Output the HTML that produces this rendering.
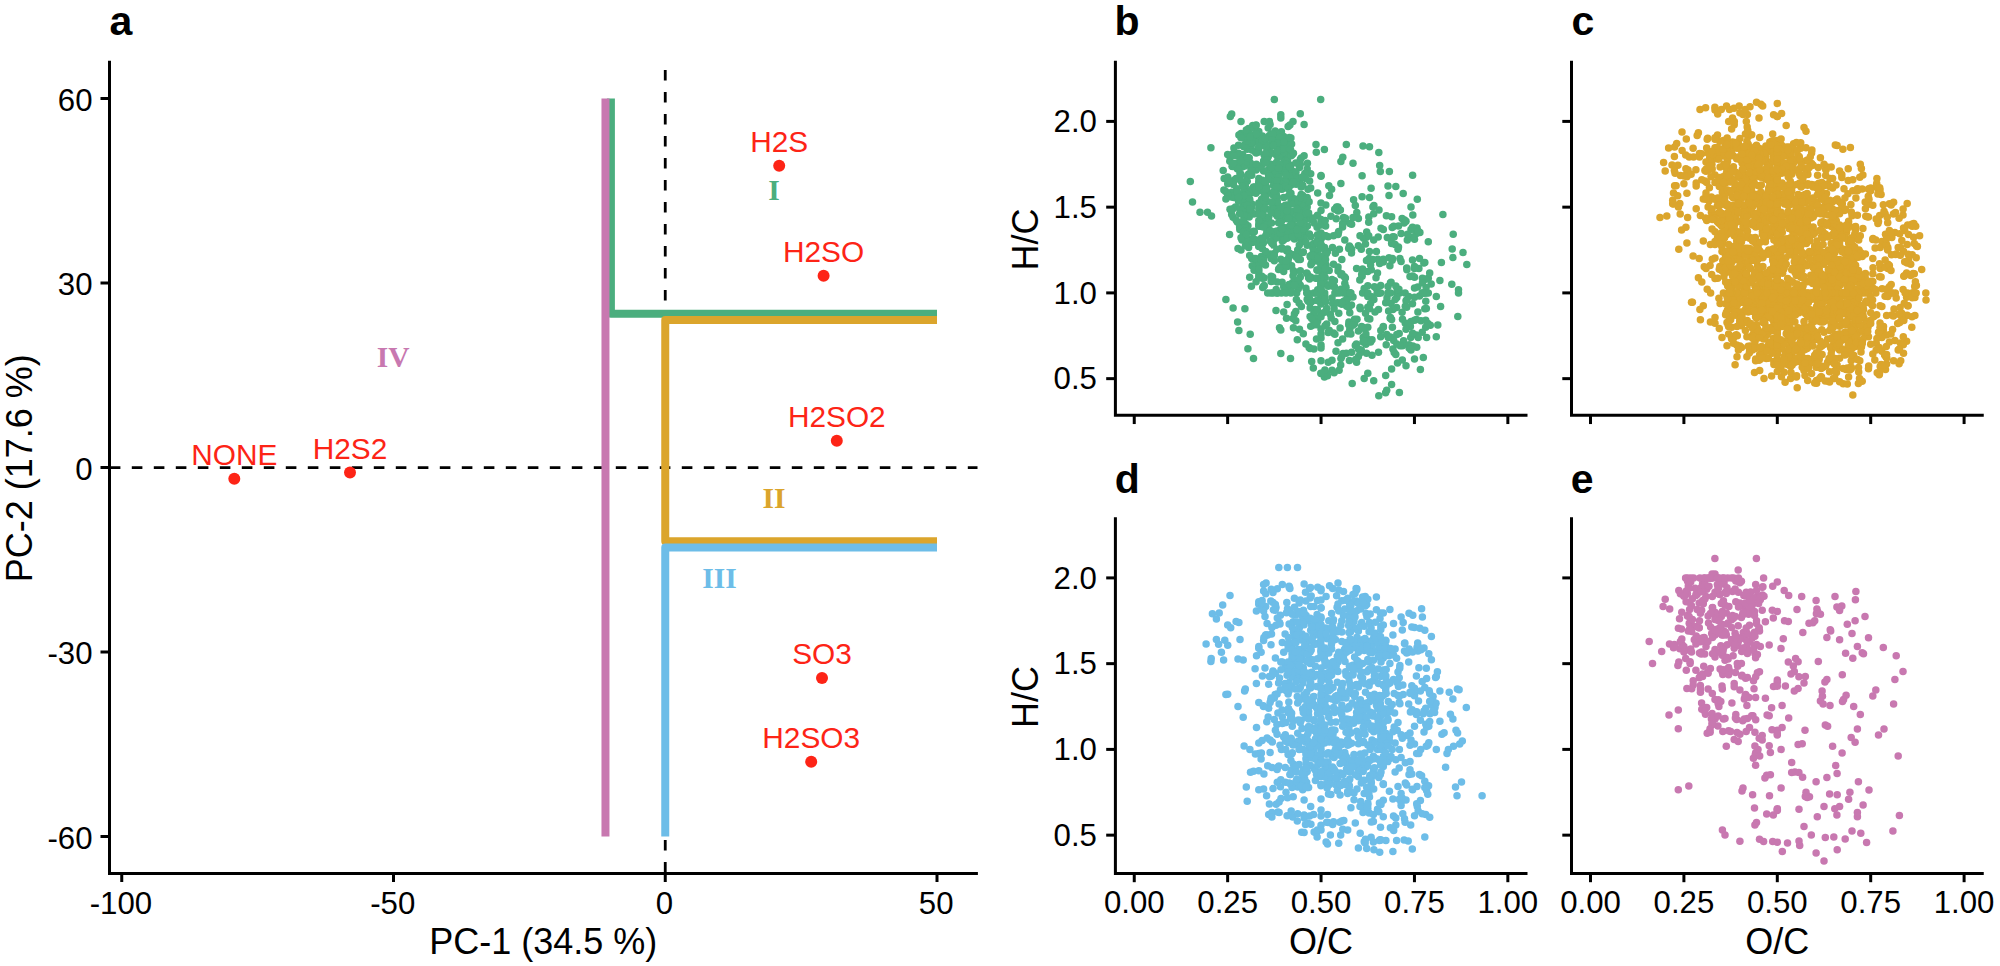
<!DOCTYPE html>
<html lang="en">
<head>
<meta charset="utf-8">
<title>PCA loadings and van Krevelen diagrams</title>
<style>
html,body{margin:0;padding:0;background:#fff;}
body{width:2000px;height:966px;overflow:hidden;}
svg{display:block;font-family:"Liberation Sans", sans-serif;fill:#000;}
</style>
</head>
<body>
<svg width="2000" height="966" viewBox="0 0 2000 966">
<rect width="2000" height="966" fill="#fff"/>
<g id="panel-a">
<path d="M665.25 872.6V60.75" stroke="#000" stroke-width="2.8" stroke-dasharray="10.6 11.4" fill="none"/>
<path d="M109.8 467.7H977.5" stroke="#000" stroke-width="2.8" stroke-dasharray="10.6 11.4" fill="none"/>
<path d="M610.9 98.5V313.75H937" stroke="#4bae7e" stroke-width="8" fill="none" stroke-linejoin="round"/>
<path d="M937 319.9H665.25V541.3H937" stroke="#dba52c" stroke-width="8" fill="none" stroke-linejoin="round"/>
<path d="M665.25 836.5V547.45H937" stroke="#6dbde8" stroke-width="8" fill="none" stroke-linejoin="round"/>
<path d="M605.47 98.5V836.5" stroke="#c878b0" stroke-width="8" fill="none"/>
<path d="M109.5 60.75V874.9M108 873.4H977.9" stroke="#000" stroke-width="3" fill="none"/>
<path d="M121.75 873.4V882" stroke="#000" stroke-width="3"/>
<text x="120.95" y="913.6" font-size="31.2" text-anchor="middle">-100</text>
<path d="M393.5 873.4V882" stroke="#000" stroke-width="3"/>
<text x="392.7" y="913.6" font-size="31.2" text-anchor="middle">-50</text>
<path d="M665.25 873.4V882" stroke="#000" stroke-width="3"/>
<text x="664.45" y="913.6" font-size="31.2" text-anchor="middle">0</text>
<path d="M937 873.4V882" stroke="#000" stroke-width="3"/>
<text x="936.2" y="913.6" font-size="31.2" text-anchor="middle">50</text>
<path d="M100.5 98.5H109.5" stroke="#000" stroke-width="3"/>
<text x="92.5" y="110.5" font-size="31.2" text-anchor="end">60</text>
<path d="M100.5 283H109.5" stroke="#000" stroke-width="3"/>
<text x="92.5" y="295" font-size="31.2" text-anchor="end">30</text>
<path d="M100.5 467.5H109.5" stroke="#000" stroke-width="3"/>
<text x="92.5" y="479.5" font-size="31.2" text-anchor="end">0</text>
<path d="M100.5 652H109.5" stroke="#000" stroke-width="3"/>
<text x="92.5" y="664" font-size="31.2" text-anchor="end">-30</text>
<path d="M100.5 836.5H109.5" stroke="#000" stroke-width="3"/>
<text x="92.5" y="848.5" font-size="31.2" text-anchor="end">-60</text>
<text x="543.3" y="954.3" font-size="36" text-anchor="middle">PC-1 (34.5 %)</text>
<text transform="translate(31.8 468.2) rotate(-90)" font-size="36" text-anchor="middle">PC-2 (17.6 %)</text>
<text x="109.6" y="34.8" font-size="41" font-weight="bold">a</text>
<circle cx="779.2" cy="165.8" r="6" fill="#fd2416"/>
<text x="779.2" y="151.8" font-size="29.8" fill="#fd2416" text-anchor="middle">H2S</text>
<circle cx="823.6" cy="275.7" r="6" fill="#fd2416"/>
<text x="823.6" y="261.7" font-size="29.8" fill="#fd2416" text-anchor="middle">H2SO</text>
<circle cx="836.8" cy="440.7" r="6" fill="#fd2416"/>
<text x="836.8" y="426.7" font-size="29.8" fill="#fd2416" text-anchor="middle">H2SO2</text>
<circle cx="234.3" cy="478.8" r="6" fill="#fd2416"/>
<text x="234.3" y="464.8" font-size="29.8" fill="#fd2416" text-anchor="middle">NONE</text>
<circle cx="350" cy="472.5" r="6" fill="#fd2416"/>
<text x="350" y="458.5" font-size="29.8" fill="#fd2416" text-anchor="middle">H2S2</text>
<circle cx="822" cy="678" r="6" fill="#fd2416"/>
<text x="822" y="664" font-size="29.8" fill="#fd2416" text-anchor="middle">SO3</text>
<circle cx="811.2" cy="761.8" r="6" fill="#fd2416"/>
<text x="811.2" y="747.8" font-size="29.8" fill="#fd2416" text-anchor="middle">H2SO3</text>
<text x="774" y="200.3" font-family='"Liberation Serif", serif' font-weight="bold" font-size="29.5" fill="#4bae7e" text-anchor="middle">I</text>
<text x="774.1" y="507.8" font-family='"Liberation Serif", serif' font-weight="bold" font-size="29.5" fill="#dba52c" text-anchor="middle">II</text>
<text x="719.4" y="588.4" font-family='"Liberation Serif", serif' font-weight="bold" font-size="29.5" fill="#6dbde8" text-anchor="middle">III</text>
<text x="393.1" y="366.8" font-family='"Liberation Serif", serif' font-weight="bold" font-size="29.5" fill="#c878b0" text-anchor="middle">IV</text>
</g>
<g id="panel-b">
<g fill="#4bae7e">
<circle cx="1321.0" cy="175.6" r="3.75"/><circle cx="1304.1" cy="235.7" r="3.75"/><circle cx="1229.8" cy="161.3" r="3.75"/><circle cx="1399.7" cy="292.9" r="3.75"/><circle cx="1312.6" cy="253.9" r="3.75"/><circle cx="1321.0" cy="265.8" r="3.75"/><circle cx="1251.0" cy="192.9" r="3.75"/><circle cx="1275.6" cy="135.3" r="3.75"/><circle cx="1419.9" cy="232.4" r="3.75"/><circle cx="1321.0" cy="232.9" r="3.75"/><circle cx="1256.2" cy="261.4" r="3.75"/><circle cx="1375.0" cy="312.0" r="3.75"/><circle cx="1317.7" cy="289.8" r="3.75"/><circle cx="1302.4" cy="232.9" r="3.75"/><circle cx="1326.7" cy="324.1" r="3.75"/><circle cx="1317.5" cy="215.2" r="3.75"/><circle cx="1310.9" cy="277.3" r="3.75"/><circle cx="1248.4" cy="192.9" r="3.75"/><circle cx="1309.1" cy="347.6" r="3.75"/><circle cx="1388.0" cy="286.4" r="3.75"/><circle cx="1321.0" cy="210.6" r="3.75"/><circle cx="1243.2" cy="203.6" r="3.75"/><circle cx="1293.4" cy="327.8" r="3.75"/><circle cx="1338.0" cy="266.9" r="3.75"/><circle cx="1244.1" cy="146.6" r="3.75"/><circle cx="1404.5" cy="219.9" r="3.75"/><circle cx="1321.0" cy="219.4" r="3.75"/><circle cx="1369.8" cy="319.0" r="3.75"/><circle cx="1264.2" cy="121.4" r="3.75"/><circle cx="1416.4" cy="334.9" r="3.75"/><circle cx="1389.9" cy="265.8" r="3.75"/><circle cx="1369.5" cy="197.6" r="3.75"/><circle cx="1334.9" cy="321.5" r="3.75"/><circle cx="1423.3" cy="357.6" r="3.75"/><circle cx="1287.5" cy="266.5" r="3.75"/><circle cx="1275.4" cy="174.8" r="3.75"/><circle cx="1290.5" cy="177.5" r="3.75"/><circle cx="1241.0" cy="165.5" r="3.75"/><circle cx="1391.6" cy="243.4" r="3.75"/><circle cx="1367.8" cy="307.2" r="3.75"/><circle cx="1398.5" cy="226.0" r="3.75"/><circle cx="1378.5" cy="309.4" r="3.75"/><circle cx="1317.7" cy="321.0" r="3.75"/><circle cx="1310.7" cy="188.1" r="3.75"/><circle cx="1267.1" cy="201.4" r="3.75"/><circle cx="1340.9" cy="274.7" r="3.75"/><circle cx="1298.6" cy="282.6" r="3.75"/><circle cx="1349.8" cy="312.7" r="3.75"/><circle cx="1340.1" cy="327.9" r="3.75"/><circle cx="1366.5" cy="353.2" r="3.75"/><circle cx="1294.4" cy="239.0" r="3.75"/><circle cx="1225.9" cy="299.4" r="3.75"/><circle cx="1426.3" cy="292.9" r="3.75"/><circle cx="1279.5" cy="327.8" r="3.75"/><circle cx="1229.3" cy="196.2" r="3.75"/><circle cx="1305.5" cy="203.6" r="3.75"/><circle cx="1383.3" cy="327.2" r="3.75"/><circle cx="1377.9" cy="259.3" r="3.75"/><circle cx="1285.3" cy="289.2" r="3.75"/><circle cx="1392.9" cy="349.0" r="3.75"/><circle cx="1268.2" cy="157.0" r="3.75"/><circle cx="1290.6" cy="185.2" r="3.75"/><circle cx="1247.9" cy="225.8" r="3.75"/><circle cx="1271.2" cy="281.5" r="3.75"/><circle cx="1252.2" cy="189.1" r="3.75"/><circle cx="1265.5" cy="265.1" r="3.75"/><circle cx="1307.4" cy="226.0" r="3.75"/><circle cx="1279.5" cy="154.7" r="3.75"/><circle cx="1366.7" cy="231.9" r="3.75"/><circle cx="1311.7" cy="301.5" r="3.75"/><circle cx="1365.5" cy="313.3" r="3.75"/><circle cx="1268.2" cy="147.3" r="3.75"/><circle cx="1370.6" cy="303.4" r="3.75"/><circle cx="1351.6" cy="249.3" r="3.75"/><circle cx="1273.3" cy="245.0" r="3.75"/><circle cx="1372.9" cy="259.6" r="3.75"/><circle cx="1321.0" cy="238.0" r="3.75"/><circle cx="1321.0" cy="283.4" r="3.75"/><circle cx="1365.9" cy="344.3" r="3.75"/><circle cx="1270.1" cy="253.9" r="3.75"/><circle cx="1278.9" cy="154.6" r="3.75"/><circle cx="1272.3" cy="240.7" r="3.75"/><circle cx="1347.7" cy="297.8" r="3.75"/><circle cx="1405.1" cy="292.9" r="3.75"/><circle cx="1293.2" cy="219.9" r="3.75"/><circle cx="1249.7" cy="277.3" r="3.75"/><circle cx="1317.7" cy="239.9" r="3.75"/><circle cx="1283.7" cy="236.8" r="3.75"/><circle cx="1315.0" cy="309.5" r="3.75"/><circle cx="1342.6" cy="226.9" r="3.75"/><circle cx="1285.7" cy="158.5" r="3.75"/><circle cx="1316.5" cy="318.0" r="3.75"/><circle cx="1348.9" cy="307.5" r="3.75"/><circle cx="1364.2" cy="339.1" r="3.75"/><circle cx="1242.2" cy="212.9" r="3.75"/><circle cx="1281.9" cy="181.2" r="3.75"/><circle cx="1317.1" cy="227.2" r="3.75"/><circle cx="1292.3" cy="154.4" r="3.75"/><circle cx="1235.4" cy="207.1" r="3.75"/><circle cx="1308.0" cy="189.2" r="3.75"/><circle cx="1324.7" cy="292.9" r="3.75"/><circle cx="1312.9" cy="244.4" r="3.75"/><circle cx="1325.2" cy="277.7" r="3.75"/><circle cx="1358.4" cy="356.6" r="3.75"/><circle cx="1251.7" cy="258.6" r="3.75"/><circle cx="1238.0" cy="162.7" r="3.75"/><circle cx="1255.1" cy="151.7" r="3.75"/><circle cx="1321.0" cy="245.7" r="3.75"/><circle cx="1334.4" cy="280.7" r="3.75"/><circle cx="1249.2" cy="157.7" r="3.75"/><circle cx="1339.4" cy="303.0" r="3.75"/><circle cx="1313.9" cy="312.7" r="3.75"/><circle cx="1321.0" cy="289.3" r="3.75"/><circle cx="1240.0" cy="176.4" r="3.75"/><circle cx="1369.5" cy="308.8" r="3.75"/><circle cx="1305.9" cy="288.3" r="3.75"/><circle cx="1263.1" cy="145.0" r="3.75"/><circle cx="1321.0" cy="296.3" r="3.75"/><circle cx="1424.8" cy="292.9" r="3.75"/><circle cx="1266.1" cy="217.2" r="3.75"/><circle cx="1278.6" cy="148.7" r="3.75"/><circle cx="1346.7" cy="292.9" r="3.75"/><circle cx="1262.4" cy="219.4" r="3.75"/><circle cx="1270.1" cy="172.1" r="3.75"/><circle cx="1321.0" cy="285.4" r="3.75"/><circle cx="1293.0" cy="237.2" r="3.75"/><circle cx="1288.1" cy="215.6" r="3.75"/><circle cx="1288.1" cy="126.4" r="3.75"/><circle cx="1316.7" cy="261.0" r="3.75"/><circle cx="1244.9" cy="232.5" r="3.75"/><circle cx="1300.3" cy="277.0" r="3.75"/><circle cx="1358.4" cy="218.6" r="3.75"/><circle cx="1307.2" cy="207.1" r="3.75"/><circle cx="1273.0" cy="209.6" r="3.75"/><circle cx="1283.7" cy="312.0" r="3.75"/><circle cx="1281.4" cy="215.0" r="3.75"/><circle cx="1344.4" cy="221.4" r="3.75"/><circle cx="1255.7" cy="134.3" r="3.75"/><circle cx="1253.8" cy="258.6" r="3.75"/><circle cx="1361.3" cy="249.2" r="3.75"/><circle cx="1321.0" cy="333.9" r="3.75"/><circle cx="1364.2" cy="378.6" r="3.75"/><circle cx="1324.9" cy="296.4" r="3.75"/><circle cx="1371.1" cy="188.3" r="3.75"/><circle cx="1256.1" cy="169.9" r="3.75"/><circle cx="1251.9" cy="150.0" r="3.75"/><circle cx="1271.2" cy="258.6" r="3.75"/><circle cx="1394.2" cy="352.5" r="3.75"/><circle cx="1393.7" cy="226.2" r="3.75"/><circle cx="1280.4" cy="140.0" r="3.75"/><circle cx="1414.5" cy="277.3" r="3.75"/><circle cx="1348.7" cy="248.4" r="3.75"/><circle cx="1236.8" cy="188.7" r="3.75"/><circle cx="1409.1" cy="347.9" r="3.75"/><circle cx="1300.3" cy="238.9" r="3.75"/><circle cx="1250.5" cy="231.9" r="3.75"/><circle cx="1241.0" cy="174.5" r="3.75"/><circle cx="1367.8" cy="285.7" r="3.75"/><circle cx="1418.9" cy="268.4" r="3.75"/><circle cx="1296.7" cy="292.9" r="3.75"/><circle cx="1285.1" cy="230.2" r="3.75"/><circle cx="1251.4" cy="212.2" r="3.75"/><circle cx="1300.3" cy="209.1" r="3.75"/><circle cx="1277.3" cy="292.9" r="3.75"/><circle cx="1248.6" cy="173.9" r="3.75"/><circle cx="1317.5" cy="250.8" r="3.75"/><circle cx="1414.5" cy="267.2" r="3.75"/><circle cx="1270.1" cy="255.5" r="3.75"/><circle cx="1395.8" cy="186.6" r="3.75"/><circle cx="1380.3" cy="171.6" r="3.75"/><circle cx="1407.3" cy="240.1" r="3.75"/><circle cx="1302.7" cy="218.9" r="3.75"/><circle cx="1289.1" cy="142.3" r="3.75"/><circle cx="1268.4" cy="169.8" r="3.75"/><circle cx="1244.6" cy="226.6" r="3.75"/><circle cx="1285.3" cy="154.2" r="3.75"/><circle cx="1376.0" cy="277.8" r="3.75"/><circle cx="1356.8" cy="212.6" r="3.75"/><circle cx="1287.5" cy="248.9" r="3.75"/><circle cx="1396.6" cy="292.9" r="3.75"/><circle cx="1271.0" cy="138.1" r="3.75"/><circle cx="1249.2" cy="191.8" r="3.75"/><circle cx="1258.8" cy="167.8" r="3.75"/><circle cx="1287.1" cy="207.1" r="3.75"/><circle cx="1402.3" cy="360.0" r="3.75"/><circle cx="1373.7" cy="213.8" r="3.75"/><circle cx="1325.6" cy="251.1" r="3.75"/><circle cx="1360.2" cy="308.8" r="3.75"/><circle cx="1238.9" cy="330.6" r="3.75"/><circle cx="1277.3" cy="282.0" r="3.75"/><circle cx="1280.4" cy="229.5" r="3.75"/><circle cx="1387.0" cy="297.9" r="3.75"/><circle cx="1356.6" cy="362.3" r="3.75"/><circle cx="1256.2" cy="138.9" r="3.75"/><circle cx="1297.3" cy="280.4" r="3.75"/><circle cx="1307.2" cy="169.0" r="3.75"/><circle cx="1285.1" cy="187.4" r="3.75"/><circle cx="1362.1" cy="276.2" r="3.75"/><circle cx="1321.0" cy="270.7" r="3.75"/><circle cx="1270.1" cy="124.5" r="3.75"/><circle cx="1402.1" cy="312.3" r="3.75"/><circle cx="1370.6" cy="261.4" r="3.75"/><circle cx="1299.3" cy="233.1" r="3.75"/><circle cx="1245.3" cy="186.3" r="3.75"/><circle cx="1299.5" cy="167.6" r="3.75"/><circle cx="1264.2" cy="222.1" r="3.75"/><circle cx="1390.4" cy="283.1" r="3.75"/><circle cx="1330.4" cy="314.3" r="3.75"/><circle cx="1361.3" cy="350.1" r="3.75"/><circle cx="1265.7" cy="143.6" r="3.75"/><circle cx="1324.9" cy="271.9" r="3.75"/><circle cx="1300.3" cy="159.5" r="3.75"/><circle cx="1301.7" cy="233.8" r="3.75"/><circle cx="1263.6" cy="170.9" r="3.75"/><circle cx="1331.2" cy="317.9" r="3.75"/><circle cx="1305.0" cy="229.2" r="3.75"/><circle cx="1363.5" cy="238.3" r="3.75"/><circle cx="1293.0" cy="275.7" r="3.75"/><circle cx="1324.6" cy="283.2" r="3.75"/><circle cx="1405.3" cy="306.3" r="3.75"/><circle cx="1380.8" cy="330.6" r="3.75"/><circle cx="1268.2" cy="225.0" r="3.75"/><circle cx="1270.1" cy="193.1" r="3.75"/><circle cx="1350.1" cy="247.2" r="3.75"/><circle cx="1271.9" cy="211.7" r="3.75"/><circle cx="1268.4" cy="174.2" r="3.75"/><circle cx="1286.5" cy="188.1" r="3.75"/><circle cx="1340.7" cy="365.1" r="3.75"/><circle cx="1411.0" cy="321.5" r="3.75"/><circle cx="1387.3" cy="237.6" r="3.75"/><circle cx="1291.2" cy="200.3" r="3.75"/><circle cx="1368.7" cy="222.3" r="3.75"/><circle cx="1293.2" cy="172.5" r="3.75"/><circle cx="1258.8" cy="151.9" r="3.75"/><circle cx="1271.0" cy="292.9" r="3.75"/><circle cx="1261.8" cy="221.8" r="3.75"/><circle cx="1280.4" cy="207.1" r="3.75"/><circle cx="1327.5" cy="251.5" r="3.75"/><circle cx="1211.5" cy="216.0" r="3.75"/><circle cx="1264.2" cy="155.0" r="3.75"/><circle cx="1391.1" cy="239.3" r="3.75"/><circle cx="1280.8" cy="118.0" r="3.75"/><circle cx="1247.0" cy="176.4" r="3.75"/><circle cx="1236.8" cy="155.0" r="3.75"/><circle cx="1297.3" cy="227.4" r="3.75"/><circle cx="1287.5" cy="205.0" r="3.75"/><circle cx="1335.4" cy="253.3" r="3.75"/><circle cx="1367.8" cy="339.3" r="3.75"/><circle cx="1294.4" cy="313.9" r="3.75"/><circle cx="1371.3" cy="269.8" r="3.75"/><circle cx="1339.1" cy="370.3" r="3.75"/><circle cx="1312.9" cy="248.2" r="3.75"/><circle cx="1396.8" cy="297.5" r="3.75"/><circle cx="1380.7" cy="292.9" r="3.75"/><circle cx="1390.4" cy="317.4" r="3.75"/><circle cx="1362.6" cy="327.8" r="3.75"/><circle cx="1378.5" cy="352.3" r="3.75"/><circle cx="1249.7" cy="255.5" r="3.75"/><circle cx="1279.5" cy="207.1" r="3.75"/><circle cx="1408.7" cy="296.4" r="3.75"/><circle cx="1271.9" cy="180.1" r="3.75"/><circle cx="1347.7" cy="296.4" r="3.75"/><circle cx="1351.5" cy="304.9" r="3.75"/><circle cx="1283.7" cy="158.8" r="3.75"/><circle cx="1299.5" cy="207.1" r="3.75"/><circle cx="1406.0" cy="300.7" r="3.75"/><circle cx="1243.2" cy="228.6" r="3.75"/><circle cx="1263.9" cy="222.9" r="3.75"/><circle cx="1244.9" cy="204.0" r="3.75"/><circle cx="1373.9" cy="205.5" r="3.75"/><circle cx="1245.3" cy="135.3" r="3.75"/><circle cx="1247.2" cy="149.3" r="3.75"/><circle cx="1364.2" cy="328.1" r="3.75"/><circle cx="1253.5" cy="187.1" r="3.75"/><circle cx="1421.0" cy="320.8" r="3.75"/><circle cx="1316.9" cy="270.0" r="3.75"/><circle cx="1317.1" cy="256.4" r="3.75"/><circle cx="1412.5" cy="303.8" r="3.75"/><circle cx="1310.7" cy="326.2" r="3.75"/><circle cx="1367.8" cy="271.5" r="3.75"/><circle cx="1258.8" cy="240.9" r="3.75"/><circle cx="1428.3" cy="278.3" r="3.75"/><circle cx="1282.1" cy="282.2" r="3.75"/><circle cx="1325.6" cy="226.0" r="3.75"/><circle cx="1431.2" cy="284.1" r="3.75"/><circle cx="1281.4" cy="131.8" r="3.75"/><circle cx="1242.9" cy="236.8" r="3.75"/><circle cx="1282.1" cy="153.6" r="3.75"/><circle cx="1223.2" cy="170.4" r="3.75"/><circle cx="1258.8" cy="147.4" r="3.75"/><circle cx="1304.1" cy="211.0" r="3.75"/><circle cx="1285.5" cy="288.8" r="3.75"/><circle cx="1321.0" cy="239.3" r="3.75"/><circle cx="1269.4" cy="121.4" r="3.75"/><circle cx="1321.0" cy="314.3" r="3.75"/><circle cx="1391.1" cy="303.6" r="3.75"/><circle cx="1283.7" cy="227.4" r="3.75"/><circle cx="1275.2" cy="131.1" r="3.75"/><circle cx="1281.9" cy="189.2" r="3.75"/><circle cx="1414.5" cy="266.5" r="3.75"/><circle cx="1247.2" cy="181.2" r="3.75"/><circle cx="1369.1" cy="258.6" r="3.75"/><circle cx="1355.3" cy="345.4" r="3.75"/><circle cx="1321.0" cy="338.0" r="3.75"/><circle cx="1280.8" cy="259.3" r="3.75"/><circle cx="1334.9" cy="292.9" r="3.75"/><circle cx="1279.5" cy="181.8" r="3.75"/><circle cx="1359.8" cy="280.0" r="3.75"/><circle cx="1325.8" cy="205.0" r="3.75"/><circle cx="1314.1" cy="223.0" r="3.75"/><circle cx="1403.6" cy="340.8" r="3.75"/><circle cx="1321.0" cy="373.6" r="3.75"/><circle cx="1273.3" cy="165.3" r="3.75"/><circle cx="1286.8" cy="250.9" r="3.75"/><circle cx="1425.7" cy="320.3" r="3.75"/><circle cx="1269.2" cy="135.7" r="3.75"/><circle cx="1369.5" cy="251.6" r="3.75"/><circle cx="1298.3" cy="255.3" r="3.75"/><circle cx="1291.6" cy="180.1" r="3.75"/><circle cx="1350.9" cy="292.9" r="3.75"/><circle cx="1398.9" cy="289.3" r="3.75"/><circle cx="1273.0" cy="292.9" r="3.75"/><circle cx="1279.1" cy="268.4" r="3.75"/><circle cx="1283.7" cy="171.3" r="3.75"/><circle cx="1258.8" cy="190.8" r="3.75"/><circle cx="1313.9" cy="292.9" r="3.75"/><circle cx="1240.0" cy="208.8" r="3.75"/><circle cx="1272.6" cy="204.0" r="3.75"/><circle cx="1419.5" cy="258.6" r="3.75"/><circle cx="1316.5" cy="338.9" r="3.75"/><circle cx="1277.1" cy="197.1" r="3.75"/><circle cx="1411.0" cy="229.4" r="3.75"/><circle cx="1412.5" cy="227.2" r="3.75"/><circle cx="1395.1" cy="244.4" r="3.75"/><circle cx="1276.2" cy="183.1" r="3.75"/><circle cx="1332.0" cy="370.2" r="3.75"/><circle cx="1293.0" cy="318.6" r="3.75"/><circle cx="1237.0" cy="155.7" r="3.75"/><circle cx="1244.9" cy="308.8" r="3.75"/><circle cx="1424.8" cy="262.4" r="3.75"/><circle cx="1258.8" cy="185.3" r="3.75"/><circle cx="1342.6" cy="223.6" r="3.75"/><circle cx="1376.4" cy="251.6" r="3.75"/><circle cx="1295.6" cy="226.6" r="3.75"/><circle cx="1356.4" cy="343.9" r="3.75"/><circle cx="1244.9" cy="210.3" r="3.75"/><circle cx="1338.0" cy="233.6" r="3.75"/><circle cx="1281.9" cy="209.1" r="3.75"/><circle cx="1271.0" cy="134.0" r="3.75"/><circle cx="1361.7" cy="326.5" r="3.75"/><circle cx="1373.9" cy="299.4" r="3.75"/><circle cx="1378.8" cy="395.8" r="3.75"/><circle cx="1424.8" cy="308.8" r="3.75"/><circle cx="1321.0" cy="257.8" r="3.75"/><circle cx="1338.0" cy="211.0" r="3.75"/><circle cx="1406.7" cy="300.1" r="3.75"/><circle cx="1303.3" cy="252.1" r="3.75"/><circle cx="1416.4" cy="233.4" r="3.75"/><circle cx="1282.3" cy="241.1" r="3.75"/><circle cx="1298.3" cy="259.4" r="3.75"/><circle cx="1252.7" cy="138.1" r="3.75"/><circle cx="1425.7" cy="327.2" r="3.75"/><circle cx="1277.9" cy="134.6" r="3.75"/><circle cx="1299.3" cy="181.2" r="3.75"/><circle cx="1328.2" cy="332.5" r="3.75"/><circle cx="1293.4" cy="254.8" r="3.75"/><circle cx="1373.7" cy="380.8" r="3.75"/><circle cx="1308.0" cy="292.9" r="3.75"/><circle cx="1273.0" cy="145.9" r="3.75"/><circle cx="1326.7" cy="308.5" r="3.75"/><circle cx="1338.8" cy="313.3" r="3.75"/><circle cx="1292.7" cy="282.5" r="3.75"/><circle cx="1412.6" cy="175.2" r="3.75"/><circle cx="1290.9" cy="292.9" r="3.75"/><circle cx="1287.1" cy="218.8" r="3.75"/><circle cx="1321.0" cy="281.5" r="3.75"/><circle cx="1380.7" cy="285.6" r="3.75"/><circle cx="1264.2" cy="278.0" r="3.75"/><circle cx="1351.6" cy="224.3" r="3.75"/><circle cx="1344.4" cy="276.8" r="3.75"/><circle cx="1286.5" cy="318.3" r="3.75"/><circle cx="1269.2" cy="150.0" r="3.75"/><circle cx="1412.8" cy="345.9" r="3.75"/><circle cx="1365.5" cy="243.9" r="3.75"/><circle cx="1282.1" cy="142.8" r="3.75"/><circle cx="1249.2" cy="200.5" r="3.75"/><circle cx="1296.4" cy="179.6" r="3.75"/><circle cx="1251.4" cy="144.9" r="3.75"/><circle cx="1265.7" cy="254.8" r="3.75"/><circle cx="1316.7" cy="257.0" r="3.75"/><circle cx="1285.1" cy="161.0" r="3.75"/><circle cx="1253.8" cy="142.0" r="3.75"/><circle cx="1369.8" cy="341.4" r="3.75"/><circle cx="1360.0" cy="235.7" r="3.75"/><circle cx="1442.9" cy="214.6" r="3.75"/><circle cx="1242.2" cy="167.1" r="3.75"/><circle cx="1307.2" cy="213.5" r="3.75"/><circle cx="1422.2" cy="292.9" r="3.75"/><circle cx="1313.9" cy="349.0" r="3.75"/><circle cx="1306.7" cy="292.9" r="3.75"/><circle cx="1250.5" cy="239.5" r="3.75"/><circle cx="1241.0" cy="133.6" r="3.75"/><circle cx="1261.8" cy="184.2" r="3.75"/><circle cx="1233.1" cy="217.2" r="3.75"/><circle cx="1420.4" cy="369.5" r="3.75"/><circle cx="1281.4" cy="292.9" r="3.75"/><circle cx="1321.0" cy="313.5" r="3.75"/><circle cx="1349.1" cy="297.2" r="3.75"/><circle cx="1263.1" cy="239.7" r="3.75"/><circle cx="1258.8" cy="224.3" r="3.75"/><circle cx="1321.0" cy="237.0" r="3.75"/><circle cx="1283.7" cy="180.7" r="3.75"/><circle cx="1315.7" cy="292.9" r="3.75"/><circle cx="1410.4" cy="326.5" r="3.75"/><circle cx="1229.3" cy="155.7" r="3.75"/><circle cx="1321.0" cy="277.3" r="3.75"/><circle cx="1291.6" cy="175.6" r="3.75"/><circle cx="1267.1" cy="220.5" r="3.75"/><circle cx="1336.6" cy="292.9" r="3.75"/><circle cx="1305.9" cy="218.7" r="3.75"/><circle cx="1315.7" cy="278.2" r="3.75"/><circle cx="1225.7" cy="191.4" r="3.75"/><circle cx="1383.3" cy="259.3" r="3.75"/><circle cx="1385.7" cy="375.4" r="3.75"/><circle cx="1255.1" cy="187.0" r="3.75"/><circle cx="1286.0" cy="228.6" r="3.75"/><circle cx="1288.5" cy="151.2" r="3.75"/><circle cx="1258.8" cy="275.0" r="3.75"/><circle cx="1276.9" cy="146.4" r="3.75"/><circle cx="1317.1" cy="278.3" r="3.75"/><circle cx="1250.5" cy="174.8" r="3.75"/><circle cx="1277.3" cy="230.9" r="3.75"/><circle cx="1347.7" cy="333.7" r="3.75"/><circle cx="1300.3" cy="285.3" r="3.75"/><circle cx="1302.4" cy="237.2" r="3.75"/><circle cx="1233.0" cy="208.8" r="3.75"/><circle cx="1231.7" cy="113.9" r="3.75"/><circle cx="1281.7" cy="247.8" r="3.75"/><circle cx="1238.9" cy="135.1" r="3.75"/><circle cx="1275.6" cy="214.1" r="3.75"/><circle cx="1286.8" cy="145.9" r="3.75"/><circle cx="1300.3" cy="164.3" r="3.75"/><circle cx="1232.1" cy="166.3" r="3.75"/><circle cx="1287.1" cy="304.6" r="3.75"/><circle cx="1340.9" cy="161.5" r="3.75"/><circle cx="1304.8" cy="199.7" r="3.75"/><circle cx="1321.0" cy="303.6" r="3.75"/><circle cx="1277.1" cy="292.9" r="3.75"/><circle cx="1374.4" cy="286.8" r="3.75"/><circle cx="1247.9" cy="214.6" r="3.75"/><circle cx="1210.9" cy="147.8" r="3.75"/><circle cx="1295.8" cy="232.6" r="3.75"/><circle cx="1283.7" cy="152.6" r="3.75"/><circle cx="1426.3" cy="308.5" r="3.75"/><circle cx="1224.2" cy="178.6" r="3.75"/><circle cx="1277.3" cy="216.3" r="3.75"/><circle cx="1313.9" cy="243.4" r="3.75"/><circle cx="1402.1" cy="218.5" r="3.75"/><circle cx="1309.6" cy="180.9" r="3.75"/><circle cx="1230.0" cy="209.3" r="3.75"/><circle cx="1303.0" cy="215.5" r="3.75"/><circle cx="1338.0" cy="207.1" r="3.75"/><circle cx="1358.4" cy="331.0" r="3.75"/><circle cx="1263.6" cy="259.9" r="3.75"/><circle cx="1283.7" cy="215.7" r="3.75"/><circle cx="1349.8" cy="329.2" r="3.75"/><circle cx="1298.3" cy="209.2" r="3.75"/><circle cx="1286.8" cy="236.9" r="3.75"/><circle cx="1345.4" cy="278.0" r="3.75"/><circle cx="1372.0" cy="355.3" r="3.75"/><circle cx="1271.9" cy="193.6" r="3.75"/><circle cx="1372.9" cy="207.1" r="3.75"/><circle cx="1279.1" cy="138.9" r="3.75"/><circle cx="1332.0" cy="297.9" r="3.75"/><circle cx="1264.6" cy="217.1" r="3.75"/><circle cx="1227.7" cy="177.1" r="3.75"/><circle cx="1261.6" cy="199.3" r="3.75"/><circle cx="1386.7" cy="390.2" r="3.75"/><circle cx="1324.4" cy="377.1" r="3.75"/><circle cx="1422.2" cy="332.2" r="3.75"/><circle cx="1277.9" cy="139.0" r="3.75"/><circle cx="1230.3" cy="116.5" r="3.75"/><circle cx="1283.7" cy="271.5" r="3.75"/><circle cx="1258.8" cy="266.5" r="3.75"/><circle cx="1227.7" cy="178.6" r="3.75"/><circle cx="1338.0" cy="234.4" r="3.75"/><circle cx="1300.3" cy="219.9" r="3.75"/><circle cx="1385.7" cy="302.8" r="3.75"/><circle cx="1287.5" cy="169.8" r="3.75"/><circle cx="1285.3" cy="205.3" r="3.75"/><circle cx="1343.8" cy="301.3" r="3.75"/><circle cx="1349.4" cy="360.5" r="3.75"/><circle cx="1270.8" cy="164.3" r="3.75"/><circle cx="1308.6" cy="218.6" r="3.75"/><circle cx="1237.6" cy="322.1" r="3.75"/><circle cx="1366.5" cy="237.3" r="3.75"/><circle cx="1326.1" cy="265.1" r="3.75"/><circle cx="1244.1" cy="188.7" r="3.75"/><circle cx="1254.3" cy="231.7" r="3.75"/><circle cx="1329.2" cy="330.2" r="3.75"/><circle cx="1367.8" cy="327.2" r="3.75"/><circle cx="1287.5" cy="161.0" r="3.75"/><circle cx="1299.3" cy="225.1" r="3.75"/><circle cx="1290.9" cy="138.0" r="3.75"/><circle cx="1346.5" cy="300.7" r="3.75"/><circle cx="1242.9" cy="211.8" r="3.75"/><circle cx="1279.5" cy="173.8" r="3.75"/><circle cx="1242.7" cy="209.9" r="3.75"/><circle cx="1363.2" cy="337.2" r="3.75"/><circle cx="1333.5" cy="332.9" r="3.75"/><circle cx="1283.7" cy="230.5" r="3.75"/><circle cx="1392.2" cy="260.2" r="3.75"/><circle cx="1251.4" cy="242.5" r="3.75"/><circle cx="1321.0" cy="345.1" r="3.75"/><circle cx="1436.3" cy="296.6" r="3.75"/><circle cx="1338.7" cy="231.4" r="3.75"/><circle cx="1377.5" cy="273.0" r="3.75"/><circle cx="1381.0" cy="228.2" r="3.75"/><circle cx="1383.3" cy="229.4" r="3.75"/><circle cx="1281.0" cy="188.8" r="3.75"/><circle cx="1285.7" cy="186.3" r="3.75"/><circle cx="1304.1" cy="124.5" r="3.75"/><circle cx="1240.0" cy="173.2" r="3.75"/><circle cx="1298.3" cy="288.7" r="3.75"/><circle cx="1275.4" cy="209.1" r="3.75"/><circle cx="1309.4" cy="233.9" r="3.75"/><circle cx="1321.0" cy="236.8" r="3.75"/><circle cx="1286.8" cy="289.4" r="3.75"/><circle cx="1304.1" cy="177.5" r="3.75"/><circle cx="1281.9" cy="237.1" r="3.75"/><circle cx="1310.7" cy="173.8" r="3.75"/><circle cx="1327.5" cy="375.7" r="3.75"/><circle cx="1253.8" cy="231.2" r="3.75"/><circle cx="1309.1" cy="201.7" r="3.75"/><circle cx="1306.7" cy="273.1" r="3.75"/><circle cx="1267.1" cy="228.1" r="3.75"/><circle cx="1394.2" cy="237.0" r="3.75"/><circle cx="1278.6" cy="156.5" r="3.75"/><circle cx="1258.8" cy="131.5" r="3.75"/><circle cx="1288.1" cy="227.3" r="3.75"/><circle cx="1267.1" cy="151.9" r="3.75"/><circle cx="1285.5" cy="170.4" r="3.75"/><circle cx="1316.9" cy="243.4" r="3.75"/><circle cx="1321.0" cy="304.1" r="3.75"/><circle cx="1363.0" cy="271.9" r="3.75"/><circle cx="1280.8" cy="329.9" r="3.75"/><circle cx="1258.8" cy="209.1" r="3.75"/><circle cx="1274.3" cy="253.6" r="3.75"/><circle cx="1391.6" cy="216.7" r="3.75"/><circle cx="1231.7" cy="214.6" r="3.75"/><circle cx="1396.6" cy="307.5" r="3.75"/><circle cx="1346.0" cy="292.9" r="3.75"/><circle cx="1392.4" cy="327.2" r="3.75"/><circle cx="1261.1" cy="244.4" r="3.75"/><circle cx="1263.6" cy="161.0" r="3.75"/><circle cx="1295.6" cy="234.4" r="3.75"/><circle cx="1249.2" cy="217.0" r="3.75"/><circle cx="1348.9" cy="322.1" r="3.75"/><circle cx="1258.8" cy="182.4" r="3.75"/><circle cx="1274.3" cy="260.7" r="3.75"/><circle cx="1426.6" cy="337.6" r="3.75"/><circle cx="1452.9" cy="257.6" r="3.75"/><circle cx="1241.0" cy="194.9" r="3.75"/><circle cx="1231.7" cy="192.2" r="3.75"/><circle cx="1414.5" cy="268.4" r="3.75"/><circle cx="1401.1" cy="233.4" r="3.75"/><circle cx="1251.0" cy="169.6" r="3.75"/><circle cx="1436.3" cy="336.7" r="3.75"/><circle cx="1274.3" cy="255.4" r="3.75"/><circle cx="1377.1" cy="292.9" r="3.75"/><circle cx="1283.7" cy="239.9" r="3.75"/><circle cx="1317.5" cy="234.7" r="3.75"/><circle cx="1336.2" cy="218.7" r="3.75"/><circle cx="1321.0" cy="286.6" r="3.75"/><circle cx="1321.0" cy="297.7" r="3.75"/><circle cx="1383.3" cy="262.1" r="3.75"/><circle cx="1283.7" cy="197.6" r="3.75"/><circle cx="1286.0" cy="180.4" r="3.75"/><circle cx="1439.9" cy="280.4" r="3.75"/><circle cx="1297.1" cy="200.5" r="3.75"/><circle cx="1398.5" cy="246.9" r="3.75"/><circle cx="1266.1" cy="161.8" r="3.75"/><circle cx="1362.6" cy="292.9" r="3.75"/><circle cx="1265.0" cy="155.7" r="3.75"/><circle cx="1277.1" cy="141.6" r="3.75"/><circle cx="1393.7" cy="340.5" r="3.75"/><circle cx="1261.3" cy="224.3" r="3.75"/><circle cx="1271.0" cy="276.2" r="3.75"/><circle cx="1398.0" cy="249.2" r="3.75"/><circle cx="1293.0" cy="121.4" r="3.75"/><circle cx="1329.2" cy="270.5" r="3.75"/><circle cx="1261.3" cy="166.0" r="3.75"/><circle cx="1298.6" cy="217.4" r="3.75"/><circle cx="1265.7" cy="184.9" r="3.75"/><circle cx="1285.1" cy="147.8" r="3.75"/><circle cx="1296.1" cy="184.3" r="3.75"/><circle cx="1275.2" cy="137.6" r="3.75"/><circle cx="1288.5" cy="147.5" r="3.75"/><circle cx="1425.7" cy="279.2" r="3.75"/><circle cx="1262.7" cy="287.5" r="3.75"/><circle cx="1239.6" cy="226.9" r="3.75"/><circle cx="1278.6" cy="269.5" r="3.75"/><circle cx="1276.6" cy="145.9" r="3.75"/><circle cx="1262.7" cy="212.5" r="3.75"/><circle cx="1295.8" cy="311.4" r="3.75"/><circle cx="1248.6" cy="191.4" r="3.75"/><circle cx="1250.2" cy="162.8" r="3.75"/><circle cx="1301.2" cy="187.1" r="3.75"/><circle cx="1288.1" cy="181.9" r="3.75"/><circle cx="1321.0" cy="244.9" r="3.75"/><circle cx="1332.7" cy="303.6" r="3.75"/><circle cx="1334.4" cy="286.8" r="3.75"/><circle cx="1317.4" cy="242.5" r="3.75"/><circle cx="1293.4" cy="232.5" r="3.75"/><circle cx="1289.9" cy="253.6" r="3.75"/><circle cx="1261.6" cy="226.6" r="3.75"/><circle cx="1301.2" cy="194.4" r="3.75"/><circle cx="1286.5" cy="178.6" r="3.75"/><circle cx="1351.5" cy="253.0" r="3.75"/><circle cx="1310.5" cy="257.3" r="3.75"/><circle cx="1227.7" cy="194.3" r="3.75"/><circle cx="1316.3" cy="152.2" r="3.75"/><circle cx="1280.8" cy="353.4" r="3.75"/><circle cx="1340.9" cy="289.2" r="3.75"/><circle cx="1357.0" cy="319.3" r="3.75"/><circle cx="1293.0" cy="198.6" r="3.75"/><circle cx="1273.3" cy="280.9" r="3.75"/><circle cx="1440.6" cy="306.6" r="3.75"/><circle cx="1290.9" cy="176.7" r="3.75"/><circle cx="1290.5" cy="218.1" r="3.75"/><circle cx="1258.8" cy="147.8" r="3.75"/><circle cx="1286.5" cy="232.5" r="3.75"/><circle cx="1302.4" cy="241.4" r="3.75"/><circle cx="1329.5" cy="285.1" r="3.75"/><circle cx="1252.2" cy="265.8" r="3.75"/><circle cx="1275.6" cy="153.8" r="3.75"/><circle cx="1280.0" cy="150.7" r="3.75"/><circle cx="1244.9" cy="165.9" r="3.75"/><circle cx="1300.3" cy="228.1" r="3.75"/><circle cx="1399.2" cy="333.4" r="3.75"/><circle cx="1247.2" cy="145.3" r="3.75"/><circle cx="1269.2" cy="145.2" r="3.75"/><circle cx="1242.7" cy="154.6" r="3.75"/><circle cx="1372.0" cy="296.8" r="3.75"/><circle cx="1430.3" cy="325.3" r="3.75"/><circle cx="1362.6" cy="269.1" r="3.75"/><circle cx="1258.8" cy="141.8" r="3.75"/><circle cx="1404.1" cy="223.0" r="3.75"/><circle cx="1275.4" cy="170.9" r="3.75"/><circle cx="1363.0" cy="327.9" r="3.75"/><circle cx="1414.5" cy="358.9" r="3.75"/><circle cx="1341.8" cy="259.6" r="3.75"/><circle cx="1307.2" cy="273.8" r="3.75"/><circle cx="1268.7" cy="217.4" r="3.75"/><circle cx="1243.2" cy="192.9" r="3.75"/><circle cx="1283.7" cy="286.7" r="3.75"/><circle cx="1287.1" cy="238.3" r="3.75"/><circle cx="1282.3" cy="208.8" r="3.75"/><circle cx="1281.7" cy="220.7" r="3.75"/><circle cx="1261.4" cy="256.4" r="3.75"/><circle cx="1406.0" cy="221.2" r="3.75"/><circle cx="1379.7" cy="263.5" r="3.75"/><circle cx="1270.1" cy="165.0" r="3.75"/><circle cx="1276.2" cy="234.6" r="3.75"/><circle cx="1395.8" cy="354.6" r="3.75"/><circle cx="1283.7" cy="141.0" r="3.75"/><circle cx="1231.4" cy="196.9" r="3.75"/><circle cx="1287.1" cy="261.7" r="3.75"/><circle cx="1348.7" cy="324.7" r="3.75"/><circle cx="1342.6" cy="339.1" r="3.75"/><circle cx="1244.1" cy="217.2" r="3.75"/><circle cx="1251.7" cy="175.3" r="3.75"/><circle cx="1276.2" cy="138.5" r="3.75"/><circle cx="1276.6" cy="133.6" r="3.75"/><circle cx="1339.4" cy="249.2" r="3.75"/><circle cx="1321.0" cy="223.5" r="3.75"/><circle cx="1321.0" cy="258.0" r="3.75"/><circle cx="1263.9" cy="285.9" r="3.75"/><circle cx="1291.6" cy="265.8" r="3.75"/><circle cx="1283.7" cy="136.6" r="3.75"/><circle cx="1247.2" cy="201.2" r="3.75"/><circle cx="1304.1" cy="238.3" r="3.75"/><circle cx="1410.7" cy="337.5" r="3.75"/><circle cx="1258.8" cy="178.6" r="3.75"/><circle cx="1379.0" cy="292.9" r="3.75"/><circle cx="1390.4" cy="337.0" r="3.75"/><circle cx="1302.7" cy="185.3" r="3.75"/><circle cx="1291.6" cy="144.0" r="3.75"/><circle cx="1273.3" cy="209.1" r="3.75"/><circle cx="1300.3" cy="259.6" r="3.75"/><circle cx="1285.7" cy="288.3" r="3.75"/><circle cx="1238.5" cy="153.3" r="3.75"/><circle cx="1267.7" cy="152.0" r="3.75"/><circle cx="1328.2" cy="362.2" r="3.75"/><circle cx="1309.4" cy="276.8" r="3.75"/><circle cx="1313.3" cy="325.1" r="3.75"/><circle cx="1262.4" cy="180.2" r="3.75"/><circle cx="1279.5" cy="137.3" r="3.75"/><circle cx="1238.5" cy="145.3" r="3.75"/><circle cx="1300.3" cy="224.3" r="3.75"/><circle cx="1412.5" cy="260.1" r="3.75"/><circle cx="1325.8" cy="301.7" r="3.75"/><circle cx="1265.7" cy="146.8" r="3.75"/><circle cx="1258.8" cy="226.2" r="3.75"/><circle cx="1379.0" cy="210.1" r="3.75"/><circle cx="1239.8" cy="229.5" r="3.75"/><circle cx="1360.0" cy="307.2" r="3.75"/><circle cx="1258.8" cy="264.3" r="3.75"/><circle cx="1288.5" cy="196.0" r="3.75"/><circle cx="1386.4" cy="215.7" r="3.75"/><circle cx="1311.7" cy="220.0" r="3.75"/><circle cx="1321.0" cy="360.8" r="3.75"/><circle cx="1253.8" cy="214.0" r="3.75"/><circle cx="1406.7" cy="307.2" r="3.75"/><circle cx="1369.5" cy="146.8" r="3.75"/><circle cx="1276.9" cy="155.7" r="3.75"/><circle cx="1286.0" cy="185.7" r="3.75"/><circle cx="1273.4" cy="185.3" r="3.75"/><circle cx="1272.6" cy="277.0" r="3.75"/><circle cx="1324.6" cy="247.6" r="3.75"/><circle cx="1291.2" cy="196.9" r="3.75"/><circle cx="1275.4" cy="167.1" r="3.75"/><circle cx="1316.0" cy="144.6" r="3.75"/><circle cx="1238.0" cy="164.3" r="3.75"/><circle cx="1289.3" cy="254.1" r="3.75"/><circle cx="1311.7" cy="361.5" r="3.75"/><circle cx="1263.6" cy="144.5" r="3.75"/><circle cx="1332.0" cy="360.2" r="3.75"/><circle cx="1255.7" cy="258.6" r="3.75"/><circle cx="1244.6" cy="230.5" r="3.75"/><circle cx="1307.2" cy="299.2" r="3.75"/><circle cx="1227.7" cy="183.8" r="3.75"/><circle cx="1321.0" cy="256.8" r="3.75"/><circle cx="1343.5" cy="217.4" r="3.75"/><circle cx="1248.4" cy="140.5" r="3.75"/><circle cx="1321.0" cy="264.3" r="3.75"/><circle cx="1273.3" cy="241.1" r="3.75"/><circle cx="1334.1" cy="372.7" r="3.75"/><circle cx="1297.3" cy="339.7" r="3.75"/><circle cx="1292.3" cy="184.1" r="3.75"/><circle cx="1301.2" cy="157.9" r="3.75"/><circle cx="1426.1" cy="287.5" r="3.75"/><circle cx="1276.9" cy="165.0" r="3.75"/><circle cx="1251.0" cy="164.3" r="3.75"/><circle cx="1376.0" cy="287.9" r="3.75"/><circle cx="1241.0" cy="250.0" r="3.75"/><circle cx="1453.2" cy="234.3" r="3.75"/><circle cx="1295.4" cy="286.2" r="3.75"/><circle cx="1244.1" cy="192.0" r="3.75"/><circle cx="1441.4" cy="262.4" r="3.75"/><circle cx="1278.6" cy="222.7" r="3.75"/><circle cx="1233.9" cy="197.6" r="3.75"/><circle cx="1293.4" cy="270.7" r="3.75"/><circle cx="1269.4" cy="154.2" r="3.75"/><circle cx="1231.1" cy="210.3" r="3.75"/><circle cx="1386.7" cy="334.6" r="3.75"/><circle cx="1402.5" cy="345.7" r="3.75"/><circle cx="1422.4" cy="278.2" r="3.75"/><circle cx="1353.6" cy="199.7" r="3.75"/><circle cx="1307.2" cy="245.3" r="3.75"/><circle cx="1295.6" cy="199.3" r="3.75"/><circle cx="1249.7" cy="133.9" r="3.75"/><circle cx="1229.6" cy="234.5" r="3.75"/><circle cx="1294.4" cy="271.9" r="3.75"/><circle cx="1317.7" cy="193.1" r="3.75"/><circle cx="1307.4" cy="163.2" r="3.75"/><circle cx="1308.6" cy="277.7" r="3.75"/><circle cx="1245.3" cy="223.4" r="3.75"/><circle cx="1290.6" cy="169.3" r="3.75"/><circle cx="1352.2" cy="383.4" r="3.75"/><circle cx="1411.0" cy="350.1" r="3.75"/><circle cx="1333.5" cy="264.3" r="3.75"/><circle cx="1328.2" cy="236.8" r="3.75"/><circle cx="1258.8" cy="182.6" r="3.75"/><circle cx="1258.8" cy="271.5" r="3.75"/><circle cx="1328.8" cy="185.7" r="3.75"/><circle cx="1261.4" cy="260.1" r="3.75"/><circle cx="1427.8" cy="323.5" r="3.75"/><circle cx="1399.9" cy="258.6" r="3.75"/><circle cx="1324.4" cy="261.7" r="3.75"/><circle cx="1276.0" cy="310.6" r="3.75"/><circle cx="1378.2" cy="236.9" r="3.75"/><circle cx="1258.8" cy="214.3" r="3.75"/><circle cx="1363.0" cy="145.9" r="3.75"/><circle cx="1403.2" cy="193.4" r="3.75"/><circle cx="1316.3" cy="319.3" r="3.75"/><circle cx="1355.6" cy="359.6" r="3.75"/><circle cx="1277.1" cy="232.4" r="3.75"/><circle cx="1248.6" cy="247.4" r="3.75"/><circle cx="1238.5" cy="201.2" r="3.75"/><circle cx="1288.1" cy="259.3" r="3.75"/><circle cx="1256.4" cy="164.3" r="3.75"/><circle cx="1289.3" cy="137.6" r="3.75"/><circle cx="1281.9" cy="249.0" r="3.75"/><circle cx="1265.7" cy="191.3" r="3.75"/><circle cx="1254.1" cy="270.2" r="3.75"/><circle cx="1341.8" cy="304.3" r="3.75"/><circle cx="1288.1" cy="262.6" r="3.75"/><circle cx="1243.6" cy="146.5" r="3.75"/><circle cx="1331.6" cy="189.3" r="3.75"/><circle cx="1277.1" cy="202.1" r="3.75"/><circle cx="1290.5" cy="289.8" r="3.75"/><circle cx="1363.0" cy="341.9" r="3.75"/><circle cx="1276.0" cy="145.0" r="3.75"/><circle cx="1392.9" cy="309.4" r="3.75"/><circle cx="1231.7" cy="196.0" r="3.75"/><circle cx="1312.9" cy="259.3" r="3.75"/><circle cx="1290.6" cy="165.3" r="3.75"/><circle cx="1247.9" cy="348.8" r="3.75"/><circle cx="1373.7" cy="240.1" r="3.75"/><circle cx="1309.4" cy="298.3" r="3.75"/><circle cx="1346.7" cy="306.3" r="3.75"/><circle cx="1261.4" cy="238.2" r="3.75"/><circle cx="1251.9" cy="204.0" r="3.75"/><circle cx="1278.9" cy="187.8" r="3.75"/><circle cx="1300.3" cy="235.7" r="3.75"/><circle cx="1227.7" cy="194.9" r="3.75"/><circle cx="1236.8" cy="192.0" r="3.75"/><circle cx="1361.7" cy="274.3" r="3.75"/><circle cx="1262.4" cy="278.2" r="3.75"/><circle cx="1252.7" cy="125.6" r="3.75"/><circle cx="1389.0" cy="257.8" r="3.75"/><circle cx="1280.4" cy="266.8" r="3.75"/><circle cx="1275.2" cy="231.4" r="3.75"/><circle cx="1295.6" cy="172.1" r="3.75"/><circle cx="1417.3" cy="199.3" r="3.75"/><circle cx="1410.0" cy="276.6" r="3.75"/><circle cx="1310.1" cy="316.4" r="3.75"/><circle cx="1298.3" cy="280.3" r="3.75"/><circle cx="1399.4" cy="392.5" r="3.75"/><circle cx="1290.5" cy="227.4" r="3.75"/><circle cx="1360.2" cy="352.7" r="3.75"/><circle cx="1310.1" cy="348.4" r="3.75"/><circle cx="1301.4" cy="306.4" r="3.75"/><circle cx="1261.8" cy="276.2" r="3.75"/><circle cx="1294.4" cy="176.5" r="3.75"/><circle cx="1309.6" cy="278.9" r="3.75"/><circle cx="1237.3" cy="221.9" r="3.75"/><circle cx="1304.1" cy="155.7" r="3.75"/><circle cx="1313.3" cy="367.9" r="3.75"/><circle cx="1355.3" cy="205.4" r="3.75"/><circle cx="1256.2" cy="191.4" r="3.75"/><circle cx="1368.8" cy="217.1" r="3.75"/><circle cx="1293.0" cy="232.9" r="3.75"/><circle cx="1263.1" cy="263.3" r="3.75"/><circle cx="1321.0" cy="329.0" r="3.75"/><circle cx="1392.4" cy="258.6" r="3.75"/><circle cx="1250.2" cy="210.1" r="3.75"/><circle cx="1244.9" cy="238.9" r="3.75"/><circle cx="1310.9" cy="264.8" r="3.75"/><circle cx="1392.9" cy="236.8" r="3.75"/><circle cx="1417.0" cy="228.0" r="3.75"/><circle cx="1276.2" cy="193.4" r="3.75"/><circle cx="1346.3" cy="353.2" r="3.75"/><circle cx="1268.7" cy="176.3" r="3.75"/><circle cx="1256.4" cy="187.4" r="3.75"/><circle cx="1383.3" cy="326.5" r="3.75"/><circle cx="1340.9" cy="358.6" r="3.75"/><circle cx="1289.9" cy="125.0" r="3.75"/><circle cx="1378.8" cy="292.9" r="3.75"/><circle cx="1270.8" cy="167.6" r="3.75"/><circle cx="1307.2" cy="197.6" r="3.75"/><circle cx="1428.3" cy="241.8" r="3.75"/><circle cx="1325.8" cy="235.7" r="3.75"/><circle cx="1248.6" cy="128.4" r="3.75"/><circle cx="1308.6" cy="216.7" r="3.75"/><circle cx="1245.5" cy="136.0" r="3.75"/><circle cx="1308.0" cy="201.2" r="3.75"/><circle cx="1258.8" cy="245.8" r="3.75"/><circle cx="1333.5" cy="235.7" r="3.75"/><circle cx="1276.2" cy="238.0" r="3.75"/><circle cx="1244.6" cy="144.8" r="3.75"/><circle cx="1358.4" cy="349.0" r="3.75"/><circle cx="1291.2" cy="155.7" r="3.75"/><circle cx="1332.0" cy="279.5" r="3.75"/><circle cx="1344.8" cy="239.9" r="3.75"/><circle cx="1293.0" cy="211.4" r="3.75"/><circle cx="1338.0" cy="342.8" r="3.75"/><circle cx="1288.5" cy="188.5" r="3.75"/><circle cx="1286.0" cy="292.9" r="3.75"/><circle cx="1380.7" cy="336.7" r="3.75"/><circle cx="1256.1" cy="281.7" r="3.75"/><circle cx="1321.0" cy="283.9" r="3.75"/><circle cx="1304.8" cy="173.6" r="3.75"/><circle cx="1261.1" cy="186.1" r="3.75"/><circle cx="1251.0" cy="142.8" r="3.75"/><circle cx="1258.8" cy="246.5" r="3.75"/><circle cx="1271.5" cy="152.9" r="3.75"/><circle cx="1273.4" cy="195.4" r="3.75"/><circle cx="1416.7" cy="347.3" r="3.75"/><circle cx="1280.4" cy="233.3" r="3.75"/><circle cx="1285.5" cy="166.3" r="3.75"/><circle cx="1288.1" cy="207.1" r="3.75"/><circle cx="1305.0" cy="209.6" r="3.75"/><circle cx="1332.5" cy="285.9" r="3.75"/><circle cx="1326.4" cy="253.7" r="3.75"/><circle cx="1372.0" cy="339.7" r="3.75"/><circle cx="1271.5" cy="166.9" r="3.75"/><circle cx="1237.3" cy="168.7" r="3.75"/><circle cx="1280.8" cy="114.7" r="3.75"/><circle cx="1321.0" cy="256.1" r="3.75"/><circle cx="1266.6" cy="225.0" r="3.75"/><circle cx="1385.6" cy="392.7" r="3.75"/><circle cx="1280.4" cy="214.6" r="3.75"/><circle cx="1395.1" cy="299.4" r="3.75"/><circle cx="1290.9" cy="193.3" r="3.75"/><circle cx="1223.9" cy="190.0" r="3.75"/><circle cx="1354.6" cy="323.7" r="3.75"/><circle cx="1396.8" cy="343.9" r="3.75"/><circle cx="1277.3" cy="212.6" r="3.75"/><circle cx="1302.7" cy="195.4" r="3.75"/><circle cx="1305.9" cy="214.1" r="3.75"/><circle cx="1238.0" cy="248.4" r="3.75"/><circle cx="1292.3" cy="170.9" r="3.75"/><circle cx="1316.9" cy="300.5" r="3.75"/><circle cx="1207.5" cy="212.2" r="3.75"/><circle cx="1367.8" cy="373.3" r="3.75"/><circle cx="1251.9" cy="207.1" r="3.75"/><circle cx="1276.9" cy="249.3" r="3.75"/><circle cx="1397.2" cy="289.7" r="3.75"/><circle cx="1302.0" cy="205.4" r="3.75"/><circle cx="1292.3" cy="236.8" r="3.75"/><circle cx="1276.0" cy="198.3" r="3.75"/><circle cx="1305.5" cy="178.6" r="3.75"/><circle cx="1301.7" cy="204.2" r="3.75"/><circle cx="1266.8" cy="187.8" r="3.75"/><circle cx="1368.7" cy="235.7" r="3.75"/><circle cx="1274.3" cy="191.1" r="3.75"/><circle cx="1296.1" cy="218.6" r="3.75"/><circle cx="1304.1" cy="221.2" r="3.75"/><circle cx="1261.6" cy="215.0" r="3.75"/><circle cx="1400.1" cy="345.7" r="3.75"/><circle cx="1388.6" cy="311.1" r="3.75"/><circle cx="1243.2" cy="232.2" r="3.75"/><circle cx="1349.8" cy="223.6" r="3.75"/><circle cx="1396.8" cy="334.6" r="3.75"/><circle cx="1370.6" cy="341.9" r="3.75"/><circle cx="1290.5" cy="358.4" r="3.75"/><circle cx="1291.2" cy="176.3" r="3.75"/><circle cx="1367.8" cy="296.5" r="3.75"/><circle cx="1388.3" cy="337.5" r="3.75"/><circle cx="1289.1" cy="284.5" r="3.75"/><circle cx="1253.5" cy="358.6" r="3.75"/><circle cx="1342.8" cy="157.3" r="3.75"/><circle cx="1247.5" cy="240.9" r="3.75"/><circle cx="1336.0" cy="351.2" r="3.75"/><circle cx="1295.8" cy="172.4" r="3.75"/><circle cx="1299.3" cy="245.0" r="3.75"/><circle cx="1285.7" cy="265.1" r="3.75"/><circle cx="1283.7" cy="142.0" r="3.75"/><circle cx="1414.5" cy="320.2" r="3.75"/><circle cx="1247.5" cy="194.2" r="3.75"/><circle cx="1406.7" cy="267.9" r="3.75"/><circle cx="1405.3" cy="323.2" r="3.75"/><circle cx="1296.7" cy="214.6" r="3.75"/><circle cx="1227.7" cy="154.4" r="3.75"/><circle cx="1247.0" cy="140.8" r="3.75"/><circle cx="1244.6" cy="199.3" r="3.75"/><circle cx="1313.3" cy="217.9" r="3.75"/><circle cx="1256.4" cy="240.1" r="3.75"/><circle cx="1246.3" cy="161.4" r="3.75"/><circle cx="1402.5" cy="319.3" r="3.75"/><circle cx="1338.0" cy="271.1" r="3.75"/><circle cx="1423.8" cy="262.9" r="3.75"/><circle cx="1346.0" cy="287.2" r="3.75"/><circle cx="1353.0" cy="297.1" r="3.75"/><circle cx="1253.8" cy="128.3" r="3.75"/><circle cx="1236.1" cy="178.6" r="3.75"/><circle cx="1281.0" cy="207.1" r="3.75"/><circle cx="1344.8" cy="283.6" r="3.75"/><circle cx="1244.1" cy="215.6" r="3.75"/><circle cx="1325.0" cy="325.7" r="3.75"/><circle cx="1299.5" cy="329.2" r="3.75"/><circle cx="1353.0" cy="217.6" r="3.75"/><circle cx="1276.6" cy="162.2" r="3.75"/><circle cx="1265.7" cy="153.2" r="3.75"/><circle cx="1321.0" cy="348.0" r="3.75"/><circle cx="1390.2" cy="318.3" r="3.75"/><circle cx="1233.1" cy="308.0" r="3.75"/><circle cx="1328.2" cy="286.3" r="3.75"/><circle cx="1297.7" cy="250.0" r="3.75"/><circle cx="1324.7" cy="299.6" r="3.75"/><circle cx="1370.6" cy="264.9" r="3.75"/><circle cx="1311.7" cy="262.9" r="3.75"/><circle cx="1397.5" cy="363.1" r="3.75"/><circle cx="1391.6" cy="319.6" r="3.75"/><circle cx="1458.5" cy="289.7" r="3.75"/><circle cx="1303.3" cy="333.7" r="3.75"/><circle cx="1350.1" cy="292.9" r="3.75"/><circle cx="1249.7" cy="199.3" r="3.75"/><circle cx="1258.8" cy="203.1" r="3.75"/><circle cx="1295.8" cy="163.1" r="3.75"/><circle cx="1299.1" cy="212.2" r="3.75"/><circle cx="1343.5" cy="292.9" r="3.75"/><circle cx="1263.3" cy="243.0" r="3.75"/><circle cx="1365.9" cy="334.1" r="3.75"/><circle cx="1266.8" cy="232.1" r="3.75"/><circle cx="1250.2" cy="174.6" r="3.75"/><circle cx="1308.6" cy="212.9" r="3.75"/><circle cx="1267.1" cy="209.1" r="3.75"/><circle cx="1233.0" cy="153.8" r="3.75"/><circle cx="1293.4" cy="204.0" r="3.75"/><circle cx="1389.4" cy="171.6" r="3.75"/><circle cx="1390.4" cy="292.9" r="3.75"/><circle cx="1317.4" cy="309.7" r="3.75"/><circle cx="1417.7" cy="287.0" r="3.75"/><circle cx="1349.4" cy="246.1" r="3.75"/><circle cx="1281.9" cy="149.3" r="3.75"/><circle cx="1247.2" cy="205.2" r="3.75"/><circle cx="1233.9" cy="155.7" r="3.75"/><circle cx="1305.9" cy="241.9" r="3.75"/><circle cx="1288.8" cy="257.4" r="3.75"/><circle cx="1392.2" cy="227.6" r="3.75"/><circle cx="1379.7" cy="165.5" r="3.75"/><circle cx="1271.2" cy="212.9" r="3.75"/><circle cx="1425.8" cy="301.3" r="3.75"/><circle cx="1296.4" cy="299.4" r="3.75"/><circle cx="1354.6" cy="319.3" r="3.75"/><circle cx="1231.1" cy="181.8" r="3.75"/><circle cx="1310.9" cy="236.8" r="3.75"/><circle cx="1391.6" cy="369.1" r="3.75"/><circle cx="1321.0" cy="316.7" r="3.75"/><circle cx="1300.3" cy="113.8" r="3.75"/><circle cx="1391.1" cy="282.2" r="3.75"/><circle cx="1250.2" cy="334.3" r="3.75"/><circle cx="1366.5" cy="260.5" r="3.75"/><circle cx="1389.0" cy="195.5" r="3.75"/><circle cx="1263.6" cy="226.9" r="3.75"/><circle cx="1246.3" cy="130.0" r="3.75"/><circle cx="1422.4" cy="283.1" r="3.75"/><circle cx="1255.9" cy="193.2" r="3.75"/><circle cx="1280.8" cy="222.3" r="3.75"/><circle cx="1244.1" cy="195.4" r="3.75"/><circle cx="1325.6" cy="372.4" r="3.75"/><circle cx="1364.2" cy="288.5" r="3.75"/><circle cx="1351.6" cy="352.2" r="3.75"/><circle cx="1269.4" cy="176.1" r="3.75"/><circle cx="1241.0" cy="160.6" r="3.75"/><circle cx="1271.5" cy="138.9" r="3.75"/><circle cx="1298.3" cy="234.3" r="3.75"/><circle cx="1302.7" cy="229.0" r="3.75"/><circle cx="1303.3" cy="199.0" r="3.75"/><circle cx="1321.0" cy="225.0" r="3.75"/><circle cx="1395.8" cy="286.0" r="3.75"/><circle cx="1267.7" cy="292.9" r="3.75"/><circle cx="1255.7" cy="241.4" r="3.75"/><circle cx="1321.0" cy="244.4" r="3.75"/><circle cx="1418.2" cy="337.5" r="3.75"/><circle cx="1412.8" cy="215.0" r="3.75"/><circle cx="1419.5" cy="296.0" r="3.75"/><circle cx="1330.9" cy="216.2" r="3.75"/><circle cx="1276.2" cy="289.5" r="3.75"/><circle cx="1268.2" cy="179.6" r="3.75"/><circle cx="1321.0" cy="203.1" r="3.75"/><circle cx="1414.5" cy="239.3" r="3.75"/><circle cx="1437.8" cy="325.1" r="3.75"/><circle cx="1277.3" cy="201.7" r="3.75"/><circle cx="1243.6" cy="138.1" r="3.75"/><circle cx="1287.1" cy="211.0" r="3.75"/><circle cx="1264.2" cy="192.2" r="3.75"/><circle cx="1271.0" cy="234.3" r="3.75"/><circle cx="1345.4" cy="218.3" r="3.75"/><circle cx="1409.1" cy="344.7" r="3.75"/><circle cx="1410.4" cy="348.8" r="3.75"/><circle cx="1324.6" cy="312.3" r="3.75"/><circle cx="1353.0" cy="163.2" r="3.75"/><circle cx="1271.5" cy="222.9" r="3.75"/><circle cx="1310.1" cy="255.9" r="3.75"/><circle cx="1242.9" cy="221.2" r="3.75"/><circle cx="1300.3" cy="270.7" r="3.75"/><circle cx="1458.5" cy="292.9" r="3.75"/><circle cx="1245.5" cy="245.5" r="3.75"/><circle cx="1286.0" cy="164.3" r="3.75"/><circle cx="1334.9" cy="334.2" r="3.75"/><circle cx="1279.5" cy="164.3" r="3.75"/><circle cx="1341.8" cy="356.4" r="3.75"/><circle cx="1349.8" cy="292.9" r="3.75"/><circle cx="1378.8" cy="152.6" r="3.75"/><circle cx="1297.3" cy="177.5" r="3.75"/><circle cx="1417.9" cy="312.0" r="3.75"/><circle cx="1264.2" cy="285.4" r="3.75"/><circle cx="1386.2" cy="344.7" r="3.75"/><circle cx="1253.1" cy="242.2" r="3.75"/><circle cx="1266.1" cy="188.7" r="3.75"/><circle cx="1238.0" cy="169.0" r="3.75"/><circle cx="1308.0" cy="300.9" r="3.75"/><circle cx="1377.9" cy="292.9" r="3.75"/><circle cx="1412.6" cy="276.1" r="3.75"/><circle cx="1293.4" cy="181.8" r="3.75"/><circle cx="1418.2" cy="231.2" r="3.75"/><circle cx="1414.5" cy="288.1" r="3.75"/><circle cx="1266.8" cy="160.1" r="3.75"/><circle cx="1265.5" cy="163.1" r="3.75"/><circle cx="1324.9" cy="369.9" r="3.75"/><circle cx="1271.9" cy="243.3" r="3.75"/><circle cx="1242.0" cy="240.1" r="3.75"/><circle cx="1416.5" cy="319.6" r="3.75"/><circle cx="1282.3" cy="260.5" r="3.75"/><circle cx="1264.2" cy="207.1" r="3.75"/><circle cx="1423.8" cy="292.9" r="3.75"/><circle cx="1339.4" cy="292.9" r="3.75"/><circle cx="1429.7" cy="273.0" r="3.75"/><circle cx="1336.6" cy="207.1" r="3.75"/><circle cx="1289.3" cy="166.7" r="3.75"/><circle cx="1303.3" cy="223.5" r="3.75"/><circle cx="1278.6" cy="168.2" r="3.75"/><circle cx="1364.2" cy="341.3" r="3.75"/><circle cx="1343.0" cy="353.4" r="3.75"/><circle cx="1256.2" cy="152.9" r="3.75"/><circle cx="1276.9" cy="152.6" r="3.75"/><circle cx="1316.9" cy="292.9" r="3.75"/><circle cx="1312.9" cy="255.6" r="3.75"/><circle cx="1262.4" cy="136.1" r="3.75"/><circle cx="1295.8" cy="320.7" r="3.75"/><circle cx="1358.4" cy="245.7" r="3.75"/><circle cx="1452.2" cy="249.1" r="3.75"/><circle cx="1406.9" cy="269.7" r="3.75"/><circle cx="1288.5" cy="218.3" r="3.75"/><circle cx="1300.3" cy="223.0" r="3.75"/><circle cx="1350.9" cy="334.1" r="3.75"/><circle cx="1262.4" cy="248.8" r="3.75"/><circle cx="1428.3" cy="292.9" r="3.75"/><circle cx="1241.0" cy="180.9" r="3.75"/><circle cx="1316.7" cy="324.8" r="3.75"/><circle cx="1302.4" cy="177.1" r="3.75"/><circle cx="1249.7" cy="208.7" r="3.75"/><circle cx="1271.5" cy="201.9" r="3.75"/><circle cx="1232.6" cy="166.5" r="3.75"/><circle cx="1362.1" cy="175.8" r="3.75"/><circle cx="1422.9" cy="292.9" r="3.75"/><circle cx="1270.1" cy="230.5" r="3.75"/><circle cx="1258.8" cy="277.7" r="3.75"/><circle cx="1317.5" cy="270.2" r="3.75"/><circle cx="1321.0" cy="373.3" r="3.75"/><circle cx="1281.9" cy="229.1" r="3.75"/><circle cx="1258.8" cy="269.1" r="3.75"/><circle cx="1225.9" cy="199.1" r="3.75"/><circle cx="1401.1" cy="261.4" r="3.75"/><circle cx="1272.6" cy="134.1" r="3.75"/><circle cx="1297.1" cy="209.3" r="3.75"/><circle cx="1272.3" cy="140.0" r="3.75"/><circle cx="1408.2" cy="323.4" r="3.75"/><circle cx="1296.7" cy="229.5" r="3.75"/><circle cx="1362.1" cy="196.7" r="3.75"/><circle cx="1236.1" cy="220.1" r="3.75"/><circle cx="1412.3" cy="237.1" r="3.75"/><circle cx="1265.5" cy="200.2" r="3.75"/><circle cx="1414.5" cy="297.2" r="3.75"/><circle cx="1255.9" cy="125.4" r="3.75"/><circle cx="1340.9" cy="183.4" r="3.75"/><circle cx="1290.5" cy="149.5" r="3.75"/><circle cx="1293.4" cy="153.2" r="3.75"/><circle cx="1262.4" cy="141.0" r="3.75"/><circle cx="1346.3" cy="144.6" r="3.75"/><circle cx="1324.4" cy="149.5" r="3.75"/><circle cx="1239.6" cy="213.8" r="3.75"/><circle cx="1296.4" cy="257.3" r="3.75"/><circle cx="1233.9" cy="148.1" r="3.75"/><circle cx="1294.4" cy="284.7" r="3.75"/><circle cx="1367.8" cy="292.9" r="3.75"/><circle cx="1321.0" cy="176.3" r="3.75"/><circle cx="1325.2" cy="220.5" r="3.75"/><circle cx="1286.0" cy="260.7" r="3.75"/><circle cx="1310.1" cy="303.0" r="3.75"/><circle cx="1314.6" cy="322.5" r="3.75"/><circle cx="1233.4" cy="163.4" r="3.75"/><circle cx="1234.5" cy="180.0" r="3.75"/><circle cx="1258.8" cy="204.5" r="3.75"/><circle cx="1265.7" cy="235.7" r="3.75"/><circle cx="1277.3" cy="143.3" r="3.75"/><circle cx="1391.6" cy="384.4" r="3.75"/><circle cx="1251.4" cy="286.2" r="3.75"/><circle cx="1302.7" cy="252.5" r="3.75"/><circle cx="1290.6" cy="225.1" r="3.75"/><circle cx="1406.0" cy="329.3" r="3.75"/><circle cx="1352.8" cy="325.3" r="3.75"/><circle cx="1324.7" cy="235.7" r="3.75"/><circle cx="1324.9" cy="268.4" r="3.75"/><circle cx="1241.0" cy="237.8" r="3.75"/><circle cx="1299.5" cy="217.0" r="3.75"/><circle cx="1407.6" cy="234.3" r="3.75"/><circle cx="1258.8" cy="220.5" r="3.75"/><circle cx="1298.3" cy="200.9" r="3.75"/><circle cx="1286.0" cy="175.0" r="3.75"/><circle cx="1256.5" cy="133.9" r="3.75"/><circle cx="1264.2" cy="196.0" r="3.75"/><circle cx="1406.0" cy="365.7" r="3.75"/><circle cx="1300.3" cy="197.6" r="3.75"/><circle cx="1337.1" cy="302.7" r="3.75"/><circle cx="1332.5" cy="247.4" r="3.75"/><circle cx="1311.7" cy="318.6" r="3.75"/><circle cx="1253.1" cy="238.3" r="3.75"/><circle cx="1341.8" cy="273.8" r="3.75"/><circle cx="1325.6" cy="259.4" r="3.75"/><circle cx="1329.5" cy="195.5" r="3.75"/><circle cx="1334.1" cy="308.8" r="3.75"/><circle cx="1345.4" cy="300.4" r="3.75"/><circle cx="1241.0" cy="121.4" r="3.75"/><circle cx="1299.1" cy="303.0" r="3.75"/><circle cx="1263.6" cy="200.5" r="3.75"/><circle cx="1256.1" cy="125.1" r="3.75"/><circle cx="1247.5" cy="157.8" r="3.75"/><circle cx="1305.9" cy="343.9" r="3.75"/><circle cx="1262.1" cy="238.7" r="3.75"/><circle cx="1233.4" cy="184.4" r="3.75"/><circle cx="1265.7" cy="197.6" r="3.75"/><circle cx="1321.0" cy="248.2" r="3.75"/><circle cx="1278.9" cy="176.7" r="3.75"/><circle cx="1249.7" cy="137.0" r="3.75"/><circle cx="1277.3" cy="150.6" r="3.75"/><circle cx="1268.2" cy="127.9" r="3.75"/><circle cx="1244.9" cy="184.9" r="3.75"/><circle cx="1411.0" cy="207.1" r="3.75"/><circle cx="1388.0" cy="186.1" r="3.75"/><circle cx="1367.8" cy="318.6" r="3.75"/><circle cx="1255.7" cy="190.0" r="3.75"/><circle cx="1242.2" cy="186.2" r="3.75"/><circle cx="1321.0" cy="289.2" r="3.75"/><circle cx="1241.0" cy="137.7" r="3.75"/><circle cx="1340.4" cy="210.1" r="3.75"/><circle cx="1229.3" cy="180.7" r="3.75"/><circle cx="1238.5" cy="197.2" r="3.75"/><circle cx="1317.7" cy="258.6" r="3.75"/><circle cx="1265.0" cy="181.4" r="3.75"/><circle cx="1246.3" cy="234.6" r="3.75"/><circle cx="1265.0" cy="138.5" r="3.75"/><circle cx="1276.9" cy="180.7" r="3.75"/><circle cx="1265.7" cy="251.6" r="3.75"/><circle cx="1332.0" cy="282.8" r="3.75"/><circle cx="1273.3" cy="145.3" r="3.75"/><circle cx="1276.6" cy="186.7" r="3.75"/><circle cx="1258.8" cy="146.4" r="3.75"/><circle cx="1334.7" cy="209.2" r="3.75"/><circle cx="1412.6" cy="333.3" r="3.75"/><circle cx="1356.6" cy="268.4" r="3.75"/><circle cx="1387.8" cy="292.9" r="3.75"/><circle cx="1310.1" cy="308.0" r="3.75"/><circle cx="1341.8" cy="302.4" r="3.75"/><circle cx="1270.1" cy="240.9" r="3.75"/><circle cx="1289.9" cy="192.9" r="3.75"/><circle cx="1258.8" cy="186.7" r="3.75"/><circle cx="1274.3" cy="99.6" r="3.75"/><circle cx="1320.7" cy="99.6" r="3.75"/><circle cx="1190.3" cy="181.4" r="3.75"/><circle cx="1192.5" cy="202.0" r="3.75"/><circle cx="1200.0" cy="212.3" r="3.75"/><circle cx="1463.0" cy="252.6" r="3.75"/><circle cx="1466.8" cy="264.6" r="3.75"/><circle cx="1451.8" cy="284.3" r="3.75"/><circle cx="1457.8" cy="316.4" r="3.75"/>
</g>
<path d="M1115.4 60.75V416.75M1113.9 415.25H1527.5" stroke="#000" stroke-width="3" fill="none"/>
<path d="M1134.25 415.25V424.05" stroke="#000" stroke-width="3"/>
<path d="M1227.65 415.25V424.05" stroke="#000" stroke-width="3"/>
<path d="M1321.05 415.25V424.05" stroke="#000" stroke-width="3"/>
<path d="M1414.45 415.25V424.05" stroke="#000" stroke-width="3"/>
<path d="M1507.85 415.25V424.05" stroke="#000" stroke-width="3"/>
<path d="M1106.2 378.65H1115.4" stroke="#000" stroke-width="3"/>
<text x="1096.9" y="389.45" font-size="31.2" text-anchor="end">0.5</text>
<path d="M1106.2 292.9H1115.4" stroke="#000" stroke-width="3"/>
<text x="1096.9" y="303.7" font-size="31.2" text-anchor="end">1.0</text>
<path d="M1106.2 207.15H1115.4" stroke="#000" stroke-width="3"/>
<text x="1096.9" y="217.95" font-size="31.2" text-anchor="end">1.5</text>
<path d="M1106.2 121.4H1115.4" stroke="#000" stroke-width="3"/>
<text x="1096.9" y="132.2" font-size="31.2" text-anchor="end">2.0</text>
<text transform="translate(1038.3 239.6) rotate(-90)" font-size="36" text-anchor="middle">H/C</text>
<text x="1114.6" y="34.8" font-size="41" font-weight="bold">b</text>
</g>
<g id="panel-c">
<g fill="#dba52c">
<circle cx="1717.5" cy="200.3" r="3.75"/><circle cx="1752.9" cy="311.5" r="3.75"/><circle cx="1878.5" cy="221.4" r="3.75"/><circle cx="1807.9" cy="227.4" r="3.75"/><circle cx="1790.3" cy="253.0" r="3.75"/><circle cx="1792.2" cy="303.2" r="3.75"/><circle cx="1814.7" cy="202.9" r="3.75"/><circle cx="1802.0" cy="338.2" r="3.75"/><circle cx="1729.3" cy="292.9" r="3.75"/><circle cx="1787.9" cy="364.1" r="3.75"/><circle cx="1726.3" cy="221.2" r="3.75"/><circle cx="1772.7" cy="301.3" r="3.75"/><circle cx="1788.7" cy="205.4" r="3.75"/><circle cx="1723.4" cy="266.2" r="3.75"/><circle cx="1906.0" cy="315.8" r="3.75"/><circle cx="1729.5" cy="205.2" r="3.75"/><circle cx="1762.9" cy="322.6" r="3.75"/><circle cx="1906.6" cy="297.3" r="3.75"/><circle cx="1834.5" cy="303.4" r="3.75"/><circle cx="1777.3" cy="229.5" r="3.75"/><circle cx="1847.3" cy="257.2" r="3.75"/><circle cx="1822.1" cy="316.9" r="3.75"/><circle cx="1734.9" cy="335.8" r="3.75"/><circle cx="1764.9" cy="338.6" r="3.75"/><circle cx="1755.7" cy="292.9" r="3.75"/><circle cx="1829.6" cy="207.1" r="3.75"/><circle cx="1770.4" cy="162.7" r="3.75"/><circle cx="1821.8" cy="223.5" r="3.75"/><circle cx="1772.3" cy="204.8" r="3.75"/><circle cx="1790.3" cy="300.9" r="3.75"/><circle cx="1777.3" cy="309.2" r="3.75"/><circle cx="1731.6" cy="304.3" r="3.75"/><circle cx="1842.1" cy="348.9" r="3.75"/><circle cx="1724.4" cy="221.7" r="3.75"/><circle cx="1852.8" cy="344.0" r="3.75"/><circle cx="1797.2" cy="311.1" r="3.75"/><circle cx="1794.3" cy="331.9" r="3.75"/><circle cx="1846.5" cy="229.4" r="3.75"/><circle cx="1796.0" cy="160.0" r="3.75"/><circle cx="1881.1" cy="364.4" r="3.75"/><circle cx="1885.5" cy="369.6" r="3.75"/><circle cx="1832.6" cy="337.4" r="3.75"/><circle cx="1762.9" cy="213.8" r="3.75"/><circle cx="1754.0" cy="335.8" r="3.75"/><circle cx="1846.9" cy="336.6" r="3.75"/><circle cx="1784.5" cy="243.4" r="3.75"/><circle cx="1862.2" cy="285.1" r="3.75"/><circle cx="1677.7" cy="195.7" r="3.75"/><circle cx="1777.3" cy="216.7" r="3.75"/><circle cx="1821.0" cy="212.6" r="3.75"/><circle cx="1800.7" cy="239.3" r="3.75"/><circle cx="1769.2" cy="199.7" r="3.75"/><circle cx="1792.9" cy="214.3" r="3.75"/><circle cx="1781.9" cy="150.7" r="3.75"/><circle cx="1771.3" cy="221.0" r="3.75"/><circle cx="1766.3" cy="358.5" r="3.75"/><circle cx="1802.9" cy="286.2" r="3.75"/><circle cx="1858.5" cy="292.9" r="3.75"/><circle cx="1757.6" cy="265.8" r="3.75"/><circle cx="1785.8" cy="148.7" r="3.75"/><circle cx="1868.0" cy="327.2" r="3.75"/><circle cx="1862.2" cy="329.3" r="3.75"/><circle cx="1788.7" cy="334.9" r="3.75"/><circle cx="1799.0" cy="292.9" r="3.75"/><circle cx="1759.0" cy="215.6" r="3.75"/><circle cx="1757.4" cy="176.1" r="3.75"/><circle cx="1769.8" cy="351.2" r="3.75"/><circle cx="1791.7" cy="165.4" r="3.75"/><circle cx="1848.5" cy="337.8" r="3.75"/><circle cx="1769.8" cy="299.8" r="3.75"/><circle cx="1712.1" cy="213.1" r="3.75"/><circle cx="1889.4" cy="341.9" r="3.75"/><circle cx="1806.0" cy="368.8" r="3.75"/><circle cx="1796.0" cy="335.8" r="3.75"/><circle cx="1782.6" cy="239.0" r="3.75"/><circle cx="1756.5" cy="242.1" r="3.75"/><circle cx="1831.8" cy="271.5" r="3.75"/><circle cx="1735.8" cy="308.8" r="3.75"/><circle cx="1753.5" cy="299.1" r="3.75"/><circle cx="1741.7" cy="268.4" r="3.75"/><circle cx="1735.4" cy="254.4" r="3.75"/><circle cx="1710.4" cy="244.4" r="3.75"/><circle cx="1816.1" cy="357.6" r="3.75"/><circle cx="1791.7" cy="355.6" r="3.75"/><circle cx="1711.4" cy="197.1" r="3.75"/><circle cx="1873.2" cy="288.3" r="3.75"/><circle cx="1777.3" cy="281.7" r="3.75"/><circle cx="1781.9" cy="263.6" r="3.75"/><circle cx="1766.9" cy="150.0" r="3.75"/><circle cx="1837.1" cy="210.6" r="3.75"/><circle cx="1805.3" cy="301.5" r="3.75"/><circle cx="1839.6" cy="318.9" r="3.75"/><circle cx="1792.9" cy="146.4" r="3.75"/><circle cx="1851.3" cy="263.8" r="3.75"/><circle cx="1777.3" cy="188.5" r="3.75"/><circle cx="1826.5" cy="252.3" r="3.75"/><circle cx="1749.5" cy="238.2" r="3.75"/><circle cx="1747.2" cy="320.6" r="3.75"/><circle cx="1759.5" cy="272.5" r="3.75"/><circle cx="1814.7" cy="296.0" r="3.75"/><circle cx="1797.2" cy="387.8" r="3.75"/><circle cx="1726.3" cy="173.4" r="3.75"/><circle cx="1826.5" cy="193.6" r="3.75"/><circle cx="1846.5" cy="312.0" r="3.75"/><circle cx="1811.6" cy="184.4" r="3.75"/><circle cx="1755.7" cy="339.1" r="3.75"/><circle cx="1730.6" cy="282.2" r="3.75"/><circle cx="1793.6" cy="162.4" r="3.75"/><circle cx="1880.2" cy="268.4" r="3.75"/><circle cx="1834.2" cy="292.9" r="3.75"/><circle cx="1755.3" cy="156.7" r="3.75"/><circle cx="1825.7" cy="175.4" r="3.75"/><circle cx="1823.1" cy="318.8" r="3.75"/><circle cx="1839.6" cy="381.8" r="3.75"/><circle cx="1837.2" cy="270.2" r="3.75"/><circle cx="1846.9" cy="292.9" r="3.75"/><circle cx="1787.9" cy="360.8" r="3.75"/><circle cx="1731.5" cy="338.2" r="3.75"/><circle cx="1766.7" cy="234.7" r="3.75"/><circle cx="1743.0" cy="236.9" r="3.75"/><circle cx="1839.6" cy="285.7" r="3.75"/><circle cx="1777.3" cy="270.3" r="3.75"/><circle cx="1853.0" cy="288.3" r="3.75"/><circle cx="1875.8" cy="239.9" r="3.75"/><circle cx="1800.7" cy="276.8" r="3.75"/><circle cx="1796.6" cy="263.3" r="3.75"/><circle cx="1832.3" cy="266.0" r="3.75"/><circle cx="1800.7" cy="335.8" r="3.75"/><circle cx="1768.4" cy="346.0" r="3.75"/><circle cx="1758.0" cy="304.7" r="3.75"/><circle cx="1777.3" cy="284.3" r="3.75"/><circle cx="1715.0" cy="147.8" r="3.75"/><circle cx="1777.3" cy="223.6" r="3.75"/><circle cx="1855.4" cy="292.9" r="3.75"/><circle cx="1663.6" cy="162.4" r="3.75"/><circle cx="1750.6" cy="180.9" r="3.75"/><circle cx="1707.7" cy="218.9" r="3.75"/><circle cx="1792.2" cy="351.2" r="3.75"/><circle cx="1777.3" cy="306.1" r="3.75"/><circle cx="1717.5" cy="135.1" r="3.75"/><circle cx="1754.0" cy="221.4" r="3.75"/><circle cx="1818.8" cy="261.1" r="3.75"/><circle cx="1784.8" cy="292.9" r="3.75"/><circle cx="1760.3" cy="359.2" r="3.75"/><circle cx="1736.3" cy="259.4" r="3.75"/><circle cx="1862.2" cy="189.0" r="3.75"/><circle cx="1870.7" cy="320.2" r="3.75"/><circle cx="1825.1" cy="320.8" r="3.75"/><circle cx="1777.3" cy="333.9" r="3.75"/><circle cx="1859.0" cy="250.0" r="3.75"/><circle cx="1804.0" cy="362.9" r="3.75"/><circle cx="1802.2" cy="212.9" r="3.75"/><circle cx="1855.4" cy="299.1" r="3.75"/><circle cx="1756.5" cy="221.4" r="3.75"/><circle cx="1868.5" cy="292.9" r="3.75"/><circle cx="1751.8" cy="281.2" r="3.75"/><circle cx="1749.3" cy="250.0" r="3.75"/><circle cx="1732.2" cy="227.9" r="3.75"/><circle cx="1777.3" cy="194.3" r="3.75"/><circle cx="1805.0" cy="264.3" r="3.75"/><circle cx="1724.4" cy="234.7" r="3.75"/><circle cx="1801.7" cy="203.4" r="3.75"/><circle cx="1773.2" cy="338.6" r="3.75"/><circle cx="1805.3" cy="202.9" r="3.75"/><circle cx="1796.6" cy="204.2" r="3.75"/><circle cx="1788.7" cy="355.9" r="3.75"/><circle cx="1715.0" cy="110.0" r="3.75"/><circle cx="1753.5" cy="255.5" r="3.75"/><circle cx="1800.1" cy="200.9" r="3.75"/><circle cx="1807.9" cy="339.7" r="3.75"/><circle cx="1839.6" cy="239.8" r="3.75"/><circle cx="1761.0" cy="333.9" r="3.75"/><circle cx="1752.0" cy="167.8" r="3.75"/><circle cx="1748.2" cy="300.5" r="3.75"/><circle cx="1852.0" cy="348.6" r="3.75"/><circle cx="1785.8" cy="199.3" r="3.75"/><circle cx="1828.3" cy="300.7" r="3.75"/><circle cx="1739.9" cy="271.1" r="3.75"/><circle cx="1823.1" cy="299.4" r="3.75"/><circle cx="1791.7" cy="302.8" r="3.75"/><circle cx="1821.0" cy="376.8" r="3.75"/><circle cx="1848.6" cy="243.0" r="3.75"/><circle cx="1812.3" cy="292.9" r="3.75"/><circle cx="1863.9" cy="318.0" r="3.75"/><circle cx="1739.9" cy="234.1" r="3.75"/><circle cx="1857.4" cy="190.8" r="3.75"/><circle cx="1851.2" cy="368.7" r="3.75"/><circle cx="1824.9" cy="205.5" r="3.75"/><circle cx="1764.9" cy="150.0" r="3.75"/><circle cx="1811.6" cy="264.9" r="3.75"/><circle cx="1729.7" cy="168.5" r="3.75"/><circle cx="1790.6" cy="194.9" r="3.75"/><circle cx="1761.7" cy="289.3" r="3.75"/><circle cx="1782.1" cy="222.5" r="3.75"/><circle cx="1777.3" cy="315.5" r="3.75"/><circle cx="1823.1" cy="367.3" r="3.75"/><circle cx="1699.5" cy="153.6" r="3.75"/><circle cx="1743.0" cy="275.4" r="3.75"/><circle cx="1764.0" cy="237.8" r="3.75"/><circle cx="1819.7" cy="281.2" r="3.75"/><circle cx="1842.1" cy="264.9" r="3.75"/><circle cx="1764.9" cy="277.7" r="3.75"/><circle cx="1724.4" cy="237.9" r="3.75"/><circle cx="1916.4" cy="285.6" r="3.75"/><circle cx="1699.5" cy="157.1" r="3.75"/><circle cx="1791.7" cy="269.8" r="3.75"/><circle cx="1858.4" cy="383.5" r="3.75"/><circle cx="1856.2" cy="346.3" r="3.75"/><circle cx="1851.2" cy="284.9" r="3.75"/><circle cx="1801.1" cy="208.7" r="3.75"/><circle cx="1824.0" cy="282.2" r="3.75"/><circle cx="1752.9" cy="307.8" r="3.75"/><circle cx="1758.2" cy="247.4" r="3.75"/><circle cx="1836.5" cy="372.4" r="3.75"/><circle cx="1832.6" cy="188.1" r="3.75"/><circle cx="1782.1" cy="152.2" r="3.75"/><circle cx="1832.3" cy="277.8" r="3.75"/><circle cx="1772.7" cy="318.0" r="3.75"/><circle cx="1831.2" cy="289.1" r="3.75"/><circle cx="1855.1" cy="314.3" r="3.75"/><circle cx="1850.9" cy="324.1" r="3.75"/><circle cx="1807.9" cy="183.8" r="3.75"/><circle cx="1732.2" cy="292.9" r="3.75"/><circle cx="1907.7" cy="305.8" r="3.75"/><circle cx="1762.2" cy="149.2" r="3.75"/><circle cx="1745.4" cy="309.6" r="3.75"/><circle cx="1828.3" cy="250.0" r="3.75"/><circle cx="1767.1" cy="165.0" r="3.75"/><circle cx="1816.1" cy="257.3" r="3.75"/><circle cx="1891.2" cy="284.5" r="3.75"/><circle cx="1852.0" cy="287.2" r="3.75"/><circle cx="1886.6" cy="364.1" r="3.75"/><circle cx="1777.3" cy="296.2" r="3.75"/><circle cx="1722.0" cy="204.0" r="3.75"/><circle cx="1833.3" cy="211.4" r="3.75"/><circle cx="1848.5" cy="256.1" r="3.75"/><circle cx="1770.1" cy="269.8" r="3.75"/><circle cx="1807.9" cy="174.4" r="3.75"/><circle cx="1770.4" cy="213.5" r="3.75"/><circle cx="1812.6" cy="330.0" r="3.75"/><circle cx="1706.0" cy="171.3" r="3.75"/><circle cx="1746.9" cy="336.8" r="3.75"/><circle cx="1777.3" cy="261.7" r="3.75"/><circle cx="1764.0" cy="207.1" r="3.75"/><circle cx="1777.3" cy="325.1" r="3.75"/><circle cx="1811.6" cy="163.4" r="3.75"/><circle cx="1791.0" cy="154.9" r="3.75"/><circle cx="1767.5" cy="333.5" r="3.75"/><circle cx="1754.0" cy="276.8" r="3.75"/><circle cx="1831.8" cy="328.6" r="3.75"/><circle cx="1732.8" cy="211.2" r="3.75"/><circle cx="1770.1" cy="309.4" r="3.75"/><circle cx="1777.3" cy="289.2" r="3.75"/><circle cx="1731.6" cy="178.6" r="3.75"/><circle cx="1724.4" cy="263.8" r="3.75"/><circle cx="1887.8" cy="247.4" r="3.75"/><circle cx="1743.0" cy="268.4" r="3.75"/><circle cx="1742.7" cy="286.6" r="3.75"/><circle cx="1873.0" cy="238.5" r="3.75"/><circle cx="1750.6" cy="166.9" r="3.75"/><circle cx="1800.7" cy="353.6" r="3.75"/><circle cx="1743.0" cy="278.9" r="3.75"/><circle cx="1794.9" cy="322.0" r="3.75"/><circle cx="1807.7" cy="169.3" r="3.75"/><circle cx="1821.8" cy="260.2" r="3.75"/><circle cx="1719.8" cy="141.2" r="3.75"/><circle cx="1874.8" cy="360.0" r="3.75"/><circle cx="1788.7" cy="324.4" r="3.75"/><circle cx="1825.7" cy="343.7" r="3.75"/><circle cx="1734.9" cy="277.3" r="3.75"/><circle cx="1724.4" cy="215.2" r="3.75"/><circle cx="1777.3" cy="229.7" r="3.75"/><circle cx="1769.8" cy="145.4" r="3.75"/><circle cx="1835.3" cy="145.0" r="3.75"/><circle cx="1763.6" cy="226.0" r="3.75"/><circle cx="1674.6" cy="147.1" r="3.75"/><circle cx="1777.3" cy="166.1" r="3.75"/><circle cx="1725.4" cy="235.7" r="3.75"/><circle cx="1827.4" cy="276.2" r="3.75"/><circle cx="1799.7" cy="361.5" r="3.75"/><circle cx="1785.8" cy="242.2" r="3.75"/><circle cx="1739.9" cy="319.6" r="3.75"/><circle cx="1772.7" cy="200.9" r="3.75"/><circle cx="1814.7" cy="205.6" r="3.75"/><circle cx="1912.2" cy="226.2" r="3.75"/><circle cx="1839.6" cy="275.3" r="3.75"/><circle cx="1829.2" cy="254.8" r="3.75"/><circle cx="1773.9" cy="283.6" r="3.75"/><circle cx="1734.9" cy="222.7" r="3.75"/><circle cx="1781.4" cy="197.6" r="3.75"/><circle cx="1749.6" cy="350.1" r="3.75"/><circle cx="1723.9" cy="231.7" r="3.75"/><circle cx="1733.1" cy="205.6" r="3.75"/><circle cx="1672.7" cy="203.7" r="3.75"/><circle cx="1812.3" cy="201.8" r="3.75"/><circle cx="1706.7" cy="182.4" r="3.75"/><circle cx="1739.9" cy="345.9" r="3.75"/><circle cx="1735.1" cy="292.9" r="3.75"/><circle cx="1734.9" cy="292.9" r="3.75"/><circle cx="1805.1" cy="168.8" r="3.75"/><circle cx="1738.2" cy="205.2" r="3.75"/><circle cx="1817.6" cy="366.9" r="3.75"/><circle cx="1717.5" cy="238.0" r="3.75"/><circle cx="1867.0" cy="289.5" r="3.75"/><circle cx="1734.2" cy="235.7" r="3.75"/><circle cx="1739.9" cy="231.9" r="3.75"/><circle cx="1868.9" cy="292.9" r="3.75"/><circle cx="1881.1" cy="267.5" r="3.75"/><circle cx="1754.9" cy="196.9" r="3.75"/><circle cx="1879.7" cy="215.5" r="3.75"/><circle cx="1794.3" cy="238.3" r="3.75"/><circle cx="1777.3" cy="181.9" r="3.75"/><circle cx="1794.3" cy="289.8" r="3.75"/><circle cx="1786.2" cy="288.8" r="3.75"/><circle cx="1784.2" cy="308.8" r="3.75"/><circle cx="1777.3" cy="316.9" r="3.75"/><circle cx="1735.8" cy="251.6" r="3.75"/><circle cx="1819.2" cy="359.4" r="3.75"/><circle cx="1913.6" cy="237.3" r="3.75"/><circle cx="1764.3" cy="352.7" r="3.75"/><circle cx="1816.2" cy="360.8" r="3.75"/><circle cx="1737.0" cy="208.8" r="3.75"/><circle cx="1839.6" cy="326.2" r="3.75"/><circle cx="1725.4" cy="145.2" r="3.75"/><circle cx="1798.1" cy="304.3" r="3.75"/><circle cx="1787.1" cy="283.9" r="3.75"/><circle cx="1732.8" cy="309.2" r="3.75"/><circle cx="1790.3" cy="292.9" r="3.75"/><circle cx="1787.5" cy="339.7" r="3.75"/><circle cx="1773.2" cy="209.1" r="3.75"/><circle cx="1780.8" cy="157.0" r="3.75"/><circle cx="1758.6" cy="185.7" r="3.75"/><circle cx="1839.6" cy="309.7" r="3.75"/><circle cx="1866.3" cy="321.5" r="3.75"/><circle cx="1791.0" cy="246.9" r="3.75"/><circle cx="1809.0" cy="296.1" r="3.75"/><circle cx="1777.3" cy="305.8" r="3.75"/><circle cx="1720.1" cy="201.9" r="3.75"/><circle cx="1823.1" cy="221.7" r="3.75"/><circle cx="1752.6" cy="241.1" r="3.75"/><circle cx="1777.3" cy="210.3" r="3.75"/><circle cx="1765.6" cy="158.9" r="3.75"/><circle cx="1814.7" cy="312.5" r="3.75"/><circle cx="1814.7" cy="251.7" r="3.75"/><circle cx="1666.8" cy="215.9" r="3.75"/><circle cx="1704.9" cy="180.9" r="3.75"/><circle cx="1883.3" cy="330.0" r="3.75"/><circle cx="1926.0" cy="299.9" r="3.75"/><circle cx="1759.7" cy="137.6" r="3.75"/><circle cx="1804.0" cy="263.5" r="3.75"/><circle cx="1766.9" cy="307.2" r="3.75"/><circle cx="1788.3" cy="292.9" r="3.75"/><circle cx="1835.0" cy="224.3" r="3.75"/><circle cx="1689.2" cy="157.0" r="3.75"/><circle cx="1891.5" cy="254.8" r="3.75"/><circle cx="1777.3" cy="242.9" r="3.75"/><circle cx="1881.9" cy="306.6" r="3.75"/><circle cx="1875.8" cy="292.9" r="3.75"/><circle cx="1710.1" cy="265.5" r="3.75"/><circle cx="1715.0" cy="241.4" r="3.75"/><circle cx="1859.5" cy="378.6" r="3.75"/><circle cx="1865.0" cy="324.4" r="3.75"/><circle cx="1722.0" cy="251.6" r="3.75"/><circle cx="1892.6" cy="329.4" r="3.75"/><circle cx="1865.4" cy="273.5" r="3.75"/><circle cx="1852.0" cy="215.7" r="3.75"/><circle cx="1781.6" cy="145.3" r="3.75"/><circle cx="1827.6" cy="362.2" r="3.75"/><circle cx="1802.0" cy="289.7" r="3.75"/><circle cx="1805.1" cy="292.9" r="3.75"/><circle cx="1886.6" cy="335.0" r="3.75"/><circle cx="1777.3" cy="239.8" r="3.75"/><circle cx="1735.1" cy="187.8" r="3.75"/><circle cx="1885.1" cy="213.8" r="3.75"/><circle cx="1827.6" cy="312.7" r="3.75"/><circle cx="1777.3" cy="308.5" r="3.75"/><circle cx="1788.3" cy="198.7" r="3.75"/><circle cx="1864.5" cy="289.1" r="3.75"/><circle cx="1763.6" cy="171.6" r="3.75"/><circle cx="1750.6" cy="346.0" r="3.75"/><circle cx="1777.3" cy="194.0" r="3.75"/><circle cx="1773.2" cy="285.3" r="3.75"/><circle cx="1894.0" cy="309.0" r="3.75"/><circle cx="1711.7" cy="274.4" r="3.75"/><circle cx="1789.2" cy="212.6" r="3.75"/><circle cx="1886.6" cy="244.4" r="3.75"/><circle cx="1766.7" cy="195.8" r="3.75"/><circle cx="1758.2" cy="159.9" r="3.75"/><circle cx="1796.4" cy="275.4" r="3.75"/><circle cx="1821.0" cy="223.6" r="3.75"/><circle cx="1715.0" cy="182.6" r="3.75"/><circle cx="1762.4" cy="217.4" r="3.75"/><circle cx="1806.4" cy="243.4" r="3.75"/><circle cx="1790.6" cy="280.7" r="3.75"/><circle cx="1771.6" cy="292.9" r="3.75"/><circle cx="1756.5" cy="251.6" r="3.75"/><circle cx="1789.2" cy="165.2" r="3.75"/><circle cx="1876.2" cy="343.3" r="3.75"/><circle cx="1769.5" cy="232.2" r="3.75"/><circle cx="1773.0" cy="249.0" r="3.75"/><circle cx="1781.3" cy="260.1" r="3.75"/><circle cx="1728.6" cy="181.0" r="3.75"/><circle cx="1844.5" cy="296.3" r="3.75"/><circle cx="1749.5" cy="201.7" r="3.75"/><circle cx="1786.6" cy="155.7" r="3.75"/><circle cx="1710.4" cy="322.0" r="3.75"/><circle cx="1793.6" cy="143.8" r="3.75"/><circle cx="1768.4" cy="358.2" r="3.75"/><circle cx="1735.4" cy="233.4" r="3.75"/><circle cx="1865.2" cy="303.0" r="3.75"/><circle cx="1912.2" cy="292.9" r="3.75"/><circle cx="1854.2" cy="323.2" r="3.75"/><circle cx="1777.3" cy="329.0" r="3.75"/><circle cx="1805.1" cy="223.6" r="3.75"/><circle cx="1777.3" cy="218.6" r="3.75"/><circle cx="1742.3" cy="319.7" r="3.75"/><circle cx="1777.3" cy="279.7" r="3.75"/><circle cx="1898.2" cy="247.5" r="3.75"/><circle cx="1777.3" cy="304.3" r="3.75"/><circle cx="1846.7" cy="258.6" r="3.75"/><circle cx="1811.9" cy="321.5" r="3.75"/><circle cx="1762.9" cy="286.3" r="3.75"/><circle cx="1820.4" cy="312.7" r="3.75"/><circle cx="1752.4" cy="350.1" r="3.75"/><circle cx="1777.3" cy="145.2" r="3.75"/><circle cx="1777.3" cy="162.6" r="3.75"/><circle cx="1849.7" cy="257.9" r="3.75"/><circle cx="1858.5" cy="367.5" r="3.75"/><circle cx="1741.7" cy="280.7" r="3.75"/><circle cx="1827.6" cy="184.1" r="3.75"/><circle cx="1764.3" cy="205.2" r="3.75"/><circle cx="1759.7" cy="176.4" r="3.75"/><circle cx="1839.6" cy="245.3" r="3.75"/><circle cx="1784.2" cy="267.5" r="3.75"/><circle cx="1759.7" cy="273.5" r="3.75"/><circle cx="1794.9" cy="257.3" r="3.75"/><circle cx="1777.3" cy="292.9" r="3.75"/><circle cx="1749.5" cy="303.8" r="3.75"/><circle cx="1831.8" cy="235.7" r="3.75"/><circle cx="1853.4" cy="254.8" r="3.75"/><circle cx="1735.1" cy="364.8" r="3.75"/><circle cx="1780.7" cy="321.0" r="3.75"/><circle cx="1835.7" cy="223.2" r="3.75"/><circle cx="1806.8" cy="265.8" r="3.75"/><circle cx="1843.2" cy="232.4" r="3.75"/><circle cx="1832.3" cy="202.1" r="3.75"/><circle cx="1841.8" cy="227.4" r="3.75"/><circle cx="1707.9" cy="170.4" r="3.75"/><circle cx="1819.5" cy="315.0" r="3.75"/><circle cx="1773.9" cy="149.5" r="3.75"/><circle cx="1781.0" cy="245.8" r="3.75"/><circle cx="1854.7" cy="234.3" r="3.75"/><circle cx="1777.3" cy="353.4" r="3.75"/><circle cx="1777.3" cy="305.6" r="3.75"/><circle cx="1773.8" cy="150.5" r="3.75"/><circle cx="1787.9" cy="335.0" r="3.75"/><circle cx="1744.3" cy="156.7" r="3.75"/><circle cx="1791.1" cy="296.1" r="3.75"/><circle cx="1773.0" cy="261.0" r="3.75"/><circle cx="1760.3" cy="199.3" r="3.75"/><circle cx="1868.9" cy="188.7" r="3.75"/><circle cx="1761.7" cy="221.4" r="3.75"/><circle cx="1773.5" cy="201.9" r="3.75"/><circle cx="1855.4" cy="230.5" r="3.75"/><circle cx="1765.4" cy="238.2" r="3.75"/><circle cx="1741.5" cy="241.8" r="3.75"/><circle cx="1893.4" cy="214.1" r="3.75"/><circle cx="1846.5" cy="232.5" r="3.75"/><circle cx="1773.0" cy="316.8" r="3.75"/><circle cx="1733.6" cy="260.1" r="3.75"/><circle cx="1759.0" cy="333.3" r="3.75"/><circle cx="1794.3" cy="242.2" r="3.75"/><circle cx="1777.3" cy="225.0" r="3.75"/><circle cx="1748.2" cy="136.6" r="3.75"/><circle cx="1836.9" cy="285.6" r="3.75"/><circle cx="1703.3" cy="199.1" r="3.75"/><circle cx="1835.7" cy="287.5" r="3.75"/><circle cx="1777.3" cy="153.6" r="3.75"/><circle cx="1801.1" cy="296.0" r="3.75"/><circle cx="1791.1" cy="188.1" r="3.75"/><circle cx="1722.3" cy="192.0" r="3.75"/><circle cx="1751.8" cy="148.7" r="3.75"/><circle cx="1787.1" cy="306.4" r="3.75"/><circle cx="1834.2" cy="278.0" r="3.75"/><circle cx="1756.5" cy="169.0" r="3.75"/><circle cx="1738.2" cy="177.2" r="3.75"/><circle cx="1773.0" cy="233.1" r="3.75"/><circle cx="1824.9" cy="198.7" r="3.75"/><circle cx="1700.4" cy="215.6" r="3.75"/><circle cx="1735.8" cy="297.7" r="3.75"/><circle cx="1749.6" cy="248.4" r="3.75"/><circle cx="1790.3" cy="348.7" r="3.75"/><circle cx="1773.3" cy="292.9" r="3.75"/><circle cx="1759.5" cy="268.4" r="3.75"/><circle cx="1726.3" cy="205.6" r="3.75"/><circle cx="1805.1" cy="358.6" r="3.75"/><circle cx="1767.5" cy="193.6" r="3.75"/><circle cx="1816.6" cy="306.4" r="3.75"/><circle cx="1879.5" cy="373.8" r="3.75"/><circle cx="1887.5" cy="248.9" r="3.75"/><circle cx="1807.4" cy="281.8" r="3.75"/><circle cx="1813.2" cy="292.9" r="3.75"/><circle cx="1752.9" cy="259.3" r="3.75"/><circle cx="1723.9" cy="164.3" r="3.75"/><circle cx="1749.0" cy="215.0" r="3.75"/><circle cx="1765.9" cy="285.9" r="3.75"/><circle cx="1786.6" cy="185.7" r="3.75"/><circle cx="1908.5" cy="260.1" r="3.75"/><circle cx="1742.7" cy="248.4" r="3.75"/><circle cx="1748.2" cy="346.3" r="3.75"/><circle cx="1777.3" cy="155.0" r="3.75"/><circle cx="1770.4" cy="331.0" r="3.75"/><circle cx="1805.6" cy="230.5" r="3.75"/><circle cx="1788.3" cy="151.7" r="3.75"/><circle cx="1847.9" cy="193.8" r="3.75"/><circle cx="1814.7" cy="246.1" r="3.75"/><circle cx="1816.1" cy="205.5" r="3.75"/><circle cx="1907.2" cy="315.3" r="3.75"/><circle cx="1769.8" cy="162.6" r="3.75"/><circle cx="1841.8" cy="292.9" r="3.75"/><circle cx="1904.7" cy="230.5" r="3.75"/><circle cx="1766.9" cy="292.9" r="3.75"/><circle cx="1738.5" cy="312.3" r="3.75"/><circle cx="1742.3" cy="169.6" r="3.75"/><circle cx="1777.3" cy="145.9" r="3.75"/><circle cx="1777.3" cy="300.4" r="3.75"/><circle cx="1862.9" cy="314.3" r="3.75"/><circle cx="1836.3" cy="347.1" r="3.75"/><circle cx="1793.6" cy="304.1" r="3.75"/><circle cx="1748.2" cy="144.3" r="3.75"/><circle cx="1757.4" cy="198.0" r="3.75"/><circle cx="1791.7" cy="335.8" r="3.75"/><circle cx="1723.9" cy="252.1" r="3.75"/><circle cx="1860.3" cy="343.7" r="3.75"/><circle cx="1907.7" cy="225.0" r="3.75"/><circle cx="1748.6" cy="203.9" r="3.75"/><circle cx="1894.9" cy="232.5" r="3.75"/><circle cx="1814.7" cy="298.6" r="3.75"/><circle cx="1819.2" cy="282.4" r="3.75"/><circle cx="1733.1" cy="180.7" r="3.75"/><circle cx="1777.3" cy="274.8" r="3.75"/><circle cx="1773.8" cy="189.3" r="3.75"/><circle cx="1896.2" cy="253.9" r="3.75"/><circle cx="1746.7" cy="230.5" r="3.75"/><circle cx="1731.5" cy="179.6" r="3.75"/><circle cx="1825.7" cy="169.0" r="3.75"/><circle cx="1738.0" cy="292.9" r="3.75"/><circle cx="1850.4" cy="255.6" r="3.75"/><circle cx="1780.7" cy="252.4" r="3.75"/><circle cx="1807.2" cy="196.9" r="3.75"/><circle cx="1736.7" cy="240.7" r="3.75"/><circle cx="1772.0" cy="312.5" r="3.75"/><circle cx="1857.4" cy="239.0" r="3.75"/><circle cx="1792.9" cy="321.5" r="3.75"/><circle cx="1734.2" cy="314.9" r="3.75"/><circle cx="1785.1" cy="325.1" r="3.75"/><circle cx="1772.7" cy="255.3" r="3.75"/><circle cx="1741.5" cy="325.7" r="3.75"/><circle cx="1855.9" cy="198.1" r="3.75"/><circle cx="1782.6" cy="297.8" r="3.75"/><circle cx="1764.9" cy="220.5" r="3.75"/><circle cx="1722.0" cy="200.8" r="3.75"/><circle cx="1746.9" cy="356.7" r="3.75"/><circle cx="1888.0" cy="264.3" r="3.75"/><circle cx="1829.6" cy="361.5" r="3.75"/><circle cx="1773.3" cy="274.7" r="3.75"/><circle cx="1842.1" cy="303.4" r="3.75"/><circle cx="1801.2" cy="354.5" r="3.75"/><circle cx="1870.7" cy="344.3" r="3.75"/><circle cx="1836.5" cy="368.2" r="3.75"/><circle cx="1858.7" cy="332.5" r="3.75"/><circle cx="1737.3" cy="213.3" r="3.75"/><circle cx="1749.0" cy="178.6" r="3.75"/><circle cx="1715.0" cy="175.0" r="3.75"/><circle cx="1746.9" cy="141.3" r="3.75"/><circle cx="1781.3" cy="187.1" r="3.75"/><circle cx="1748.2" cy="163.3" r="3.75"/><circle cx="1781.3" cy="307.5" r="3.75"/><circle cx="1754.9" cy="292.9" r="3.75"/><circle cx="1835.0" cy="252.4" r="3.75"/><circle cx="1810.3" cy="165.1" r="3.75"/><circle cx="1804.0" cy="127.5" r="3.75"/><circle cx="1846.1" cy="351.6" r="3.75"/><circle cx="1829.2" cy="316.7" r="3.75"/><circle cx="1766.9" cy="331.0" r="3.75"/><circle cx="1752.4" cy="207.1" r="3.75"/><circle cx="1804.0" cy="185.1" r="3.75"/><circle cx="1741.5" cy="347.6" r="3.75"/><circle cx="1746.9" cy="284.9" r="3.75"/><circle cx="1827.6" cy="339.1" r="3.75"/><circle cx="1711.4" cy="212.2" r="3.75"/><circle cx="1853.0" cy="357.8" r="3.75"/><circle cx="1760.3" cy="257.8" r="3.75"/><circle cx="1764.9" cy="178.6" r="3.75"/><circle cx="1758.6" cy="297.2" r="3.75"/><circle cx="1762.9" cy="256.6" r="3.75"/><circle cx="1720.1" cy="184.4" r="3.75"/><circle cx="1742.0" cy="316.1" r="3.75"/><circle cx="1756.5" cy="175.4" r="3.75"/><circle cx="1725.4" cy="183.3" r="3.75"/><circle cx="1718.9" cy="298.3" r="3.75"/><circle cx="1749.5" cy="161.5" r="3.75"/><circle cx="1839.6" cy="308.5" r="3.75"/><circle cx="1817.6" cy="279.5" r="3.75"/><circle cx="1897.7" cy="323.4" r="3.75"/><circle cx="1889.4" cy="203.7" r="3.75"/><circle cx="1891.2" cy="205.1" r="3.75"/><circle cx="1850.4" cy="147.5" r="3.75"/><circle cx="1837.2" cy="292.9" r="3.75"/><circle cx="1912.2" cy="254.8" r="3.75"/><circle cx="1867.2" cy="216.7" r="3.75"/><circle cx="1777.3" cy="146.4" r="3.75"/><circle cx="1848.6" cy="224.3" r="3.75"/><circle cx="1820.4" cy="301.7" r="3.75"/><circle cx="1683.9" cy="183.8" r="3.75"/><circle cx="1855.9" cy="324.5" r="3.75"/><circle cx="1787.5" cy="289.8" r="3.75"/><circle cx="1868.5" cy="336.8" r="3.75"/><circle cx="1761.3" cy="185.1" r="3.75"/><circle cx="1757.4" cy="303.8" r="3.75"/><circle cx="1728.6" cy="304.1" r="3.75"/><circle cx="1771.6" cy="199.3" r="3.75"/><circle cx="1762.2" cy="297.5" r="3.75"/><circle cx="1789.0" cy="223.2" r="3.75"/><circle cx="1788.3" cy="175.2" r="3.75"/><circle cx="1766.9" cy="231.0" r="3.75"/><circle cx="1791.7" cy="174.2" r="3.75"/><circle cx="1777.3" cy="362.8" r="3.75"/><circle cx="1821.5" cy="199.3" r="3.75"/><circle cx="1814.7" cy="214.5" r="3.75"/><circle cx="1781.0" cy="198.7" r="3.75"/><circle cx="1764.3" cy="161.3" r="3.75"/><circle cx="1695.9" cy="169.8" r="3.75"/><circle cx="1756.5" cy="302.4" r="3.75"/><circle cx="1741.7" cy="313.3" r="3.75"/><circle cx="1798.1" cy="327.8" r="3.75"/><circle cx="1824.0" cy="301.5" r="3.75"/><circle cx="1764.0" cy="274.5" r="3.75"/><circle cx="1806.0" cy="161.0" r="3.75"/><circle cx="1816.6" cy="292.9" r="3.75"/><circle cx="1802.6" cy="339.3" r="3.75"/><circle cx="1736.3" cy="280.3" r="3.75"/><circle cx="1880.2" cy="334.9" r="3.75"/><circle cx="1832.6" cy="258.0" r="3.75"/><circle cx="1834.2" cy="360.0" r="3.75"/><circle cx="1906.6" cy="273.1" r="3.75"/><circle cx="1777.3" cy="148.5" r="3.75"/><circle cx="1709.0" cy="200.9" r="3.75"/><circle cx="1711.0" cy="176.7" r="3.75"/><circle cx="1787.9" cy="202.3" r="3.75"/><circle cx="1854.2" cy="227.3" r="3.75"/><circle cx="1674.4" cy="156.4" r="3.75"/><circle cx="1800.7" cy="148.2" r="3.75"/><circle cx="1814.7" cy="248.3" r="3.75"/><circle cx="1737.7" cy="157.8" r="3.75"/><circle cx="1799.3" cy="358.5" r="3.75"/><circle cx="1848.5" cy="248.0" r="3.75"/><circle cx="1777.3" cy="265.8" r="3.75"/><circle cx="1688.0" cy="169.9" r="3.75"/><circle cx="1731.9" cy="251.2" r="3.75"/><circle cx="1791.7" cy="292.9" r="3.75"/><circle cx="1893.6" cy="360.8" r="3.75"/><circle cx="1907.2" cy="263.1" r="3.75"/><circle cx="1824.0" cy="212.5" r="3.75"/><circle cx="1785.4" cy="352.5" r="3.75"/><circle cx="1802.8" cy="238.3" r="3.75"/><circle cx="1782.3" cy="343.9" r="3.75"/><circle cx="1764.3" cy="312.8" r="3.75"/><circle cx="1816.9" cy="246.1" r="3.75"/><circle cx="1762.9" cy="266.5" r="3.75"/><circle cx="1723.4" cy="292.9" r="3.75"/><circle cx="1756.5" cy="162.7" r="3.75"/><circle cx="1816.9" cy="355.3" r="3.75"/><circle cx="1777.3" cy="319.7" r="3.75"/><circle cx="1839.6" cy="232.5" r="3.75"/><circle cx="1798.1" cy="269.1" r="3.75"/><circle cx="1745.1" cy="210.1" r="3.75"/><circle cx="1814.7" cy="273.3" r="3.75"/><circle cx="1766.3" cy="289.5" r="3.75"/><circle cx="1814.7" cy="185.1" r="3.75"/><circle cx="1772.0" cy="141.0" r="3.75"/><circle cx="1844.5" cy="210.6" r="3.75"/><circle cx="1847.3" cy="250.0" r="3.75"/><circle cx="1854.2" cy="252.5" r="3.75"/><circle cx="1901.8" cy="313.3" r="3.75"/><circle cx="1792.2" cy="203.7" r="3.75"/><circle cx="1919.6" cy="235.7" r="3.75"/><circle cx="1824.0" cy="285.7" r="3.75"/><circle cx="1799.3" cy="308.0" r="3.75"/><circle cx="1842.3" cy="203.4" r="3.75"/><circle cx="1839.6" cy="358.2" r="3.75"/><circle cx="1794.9" cy="237.9" r="3.75"/><circle cx="1841.8" cy="267.9" r="3.75"/><circle cx="1802.6" cy="223.4" r="3.75"/><circle cx="1790.6" cy="237.8" r="3.75"/><circle cx="1807.2" cy="255.2" r="3.75"/><circle cx="1853.4" cy="337.4" r="3.75"/><circle cx="1851.3" cy="286.4" r="3.75"/><circle cx="1728.9" cy="169.0" r="3.75"/><circle cx="1842.5" cy="249.0" r="3.75"/><circle cx="1781.1" cy="229.9" r="3.75"/><circle cx="1756.5" cy="261.1" r="3.75"/><circle cx="1791.1" cy="343.7" r="3.75"/><circle cx="1772.5" cy="213.8" r="3.75"/><circle cx="1798.1" cy="224.3" r="3.75"/><circle cx="1733.6" cy="121.4" r="3.75"/><circle cx="1738.5" cy="273.5" r="3.75"/><circle cx="1831.5" cy="226.5" r="3.75"/><circle cx="1777.3" cy="300.1" r="3.75"/><circle cx="1787.5" cy="215.0" r="3.75"/><circle cx="1755.7" cy="226.9" r="3.75"/><circle cx="1805.0" cy="375.5" r="3.75"/><circle cx="1862.9" cy="307.2" r="3.75"/><circle cx="1865.2" cy="202.1" r="3.75"/><circle cx="1755.6" cy="360.7" r="3.75"/><circle cx="1744.8" cy="278.0" r="3.75"/><circle cx="1819.2" cy="313.9" r="3.75"/><circle cx="1739.9" cy="296.0" r="3.75"/><circle cx="1722.0" cy="226.2" r="3.75"/><circle cx="1715.0" cy="157.8" r="3.75"/><circle cx="1846.7" cy="229.2" r="3.75"/><circle cx="1777.3" cy="212.2" r="3.75"/><circle cx="1785.1" cy="239.3" r="3.75"/><circle cx="1765.9" cy="156.4" r="3.75"/><circle cx="1752.6" cy="328.5" r="3.75"/><circle cx="1790.6" cy="378.6" r="3.75"/><circle cx="1715.0" cy="244.5" r="3.75"/><circle cx="1794.3" cy="246.1" r="3.75"/><circle cx="1727.5" cy="310.0" r="3.75"/><circle cx="1731.9" cy="228.0" r="3.75"/><circle cx="1849.9" cy="292.9" r="3.75"/><circle cx="1857.4" cy="289.4" r="3.75"/><circle cx="1777.3" cy="339.7" r="3.75"/><circle cx="1794.3" cy="330.3" r="3.75"/><circle cx="1777.3" cy="187.4" r="3.75"/><circle cx="1876.7" cy="314.8" r="3.75"/><circle cx="1794.9" cy="202.3" r="3.75"/><circle cx="1846.1" cy="369.6" r="3.75"/><circle cx="1831.8" cy="300.1" r="3.75"/><circle cx="1848.2" cy="292.9" r="3.75"/><circle cx="1889.4" cy="230.5" r="3.75"/><circle cx="1703.3" cy="305.8" r="3.75"/><circle cx="1732.5" cy="142.0" r="3.75"/><circle cx="1796.6" cy="375.7" r="3.75"/><circle cx="1777.3" cy="253.9" r="3.75"/><circle cx="1735.8" cy="216.7" r="3.75"/><circle cx="1804.0" cy="231.7" r="3.75"/><circle cx="1808.4" cy="292.9" r="3.75"/><circle cx="1777.3" cy="371.5" r="3.75"/><circle cx="1853.7" cy="343.6" r="3.75"/><circle cx="1721.3" cy="181.4" r="3.75"/><circle cx="1777.3" cy="175.0" r="3.75"/><circle cx="1796.0" cy="310.0" r="3.75"/><circle cx="1777.3" cy="341.9" r="3.75"/><circle cx="1810.8" cy="275.3" r="3.75"/><circle cx="1865.8" cy="216.2" r="3.75"/><circle cx="1824.0" cy="275.0" r="3.75"/><circle cx="1906.6" cy="341.3" r="3.75"/><circle cx="1784.2" cy="324.7" r="3.75"/><circle cx="1807.9" cy="308.5" r="3.75"/><circle cx="1711.9" cy="164.3" r="3.75"/><circle cx="1770.4" cy="216.7" r="3.75"/><circle cx="1865.2" cy="277.8" r="3.75"/><circle cx="1722.8" cy="196.4" r="3.75"/><circle cx="1792.9" cy="232.2" r="3.75"/><circle cx="1799.0" cy="213.1" r="3.75"/><circle cx="1830.0" cy="314.9" r="3.75"/><circle cx="1798.9" cy="292.9" r="3.75"/><circle cx="1748.6" cy="200.5" r="3.75"/><circle cx="1824.0" cy="207.1" r="3.75"/><circle cx="1793.6" cy="337.6" r="3.75"/><circle cx="1781.4" cy="346.3" r="3.75"/><circle cx="1750.6" cy="190.8" r="3.75"/><circle cx="1850.4" cy="367.5" r="3.75"/><circle cx="1755.7" cy="289.6" r="3.75"/><circle cx="1916.5" cy="246.1" r="3.75"/><circle cx="1824.0" cy="332.2" r="3.75"/><circle cx="1821.5" cy="377.1" r="3.75"/><circle cx="1868.7" cy="285.6" r="3.75"/><circle cx="1816.1" cy="202.3" r="3.75"/><circle cx="1792.2" cy="217.4" r="3.75"/><circle cx="1880.2" cy="366.4" r="3.75"/><circle cx="1672.7" cy="200.3" r="3.75"/><circle cx="1858.7" cy="279.7" r="3.75"/><circle cx="1816.6" cy="297.4" r="3.75"/><circle cx="1856.3" cy="339.1" r="3.75"/><circle cx="1726.3" cy="312.4" r="3.75"/><circle cx="1848.5" cy="313.3" r="3.75"/><circle cx="1862.2" cy="308.5" r="3.75"/><circle cx="1844.0" cy="323.5" r="3.75"/><circle cx="1891.8" cy="237.6" r="3.75"/><circle cx="1852.8" cy="252.8" r="3.75"/><circle cx="1738.0" cy="157.5" r="3.75"/><circle cx="1785.1" cy="317.9" r="3.75"/><circle cx="1746.9" cy="288.9" r="3.75"/><circle cx="1856.3" cy="335.8" r="3.75"/><circle cx="1839.6" cy="337.4" r="3.75"/><circle cx="1865.4" cy="208.8" r="3.75"/><circle cx="1852.8" cy="245.5" r="3.75"/><circle cx="1808.4" cy="253.6" r="3.75"/><circle cx="1811.9" cy="334.2" r="3.75"/><circle cx="1769.8" cy="330.6" r="3.75"/><circle cx="1788.3" cy="176.9" r="3.75"/><circle cx="1802.6" cy="195.6" r="3.75"/><circle cx="1894.9" cy="340.5" r="3.75"/><circle cx="1766.7" cy="335.0" r="3.75"/><circle cx="1865.0" cy="334.9" r="3.75"/><circle cx="1813.1" cy="187.1" r="3.75"/><circle cx="1727.7" cy="149.4" r="3.75"/><circle cx="1851.2" cy="308.8" r="3.75"/><circle cx="1727.2" cy="226.0" r="3.75"/><circle cx="1768.8" cy="281.2" r="3.75"/><circle cx="1901.8" cy="317.4" r="3.75"/><circle cx="1703.3" cy="241.1" r="3.75"/><circle cx="1791.7" cy="339.1" r="3.75"/><circle cx="1782.3" cy="186.3" r="3.75"/><circle cx="1791.1" cy="308.8" r="3.75"/><circle cx="1751.7" cy="239.1" r="3.75"/><circle cx="1807.4" cy="348.2" r="3.75"/><circle cx="1742.0" cy="283.6" r="3.75"/><circle cx="1768.8" cy="250.0" r="3.75"/><circle cx="1772.7" cy="171.6" r="3.75"/><circle cx="1746.2" cy="157.1" r="3.75"/><circle cx="1777.3" cy="358.9" r="3.75"/><circle cx="1759.2" cy="331.6" r="3.75"/><circle cx="1821.5" cy="183.8" r="3.75"/><circle cx="1823.0" cy="231.9" r="3.75"/><circle cx="1839.6" cy="339.7" r="3.75"/><circle cx="1814.7" cy="232.9" r="3.75"/><circle cx="1741.4" cy="322.6" r="3.75"/><circle cx="1724.4" cy="260.5" r="3.75"/><circle cx="1730.6" cy="171.4" r="3.75"/><circle cx="1852.0" cy="316.9" r="3.75"/><circle cx="1828.3" cy="257.8" r="3.75"/><circle cx="1715.0" cy="158.4" r="3.75"/><circle cx="1860.8" cy="311.1" r="3.75"/><circle cx="1717.7" cy="278.3" r="3.75"/><circle cx="1801.2" cy="244.5" r="3.75"/><circle cx="1751.7" cy="134.8" r="3.75"/><circle cx="1821.8" cy="346.0" r="3.75"/><circle cx="1722.8" cy="242.9" r="3.75"/><circle cx="1749.6" cy="324.7" r="3.75"/><circle cx="1769.2" cy="169.9" r="3.75"/><circle cx="1800.7" cy="303.6" r="3.75"/><circle cx="1802.9" cy="255.9" r="3.75"/><circle cx="1762.9" cy="170.9" r="3.75"/><circle cx="1737.0" cy="249.2" r="3.75"/><circle cx="1764.9" cy="300.5" r="3.75"/><circle cx="1773.8" cy="322.0" r="3.75"/><circle cx="1849.1" cy="323.7" r="3.75"/><circle cx="1842.3" cy="270.5" r="3.75"/><circle cx="1781.9" cy="326.4" r="3.75"/><circle cx="1731.6" cy="247.2" r="3.75"/><circle cx="1777.3" cy="141.6" r="3.75"/><circle cx="1747.4" cy="248.3" r="3.75"/><circle cx="1782.1" cy="183.0" r="3.75"/><circle cx="1809.8" cy="345.1" r="3.75"/><circle cx="1801.7" cy="270.5" r="3.75"/><circle cx="1848.6" cy="277.3" r="3.75"/><circle cx="1773.5" cy="180.9" r="3.75"/><circle cx="1781.0" cy="212.2" r="3.75"/><circle cx="1712.5" cy="198.4" r="3.75"/><circle cx="1724.4" cy="270.2" r="3.75"/><circle cx="1769.8" cy="142.0" r="3.75"/><circle cx="1781.3" cy="227.2" r="3.75"/><circle cx="1736.7" cy="207.1" r="3.75"/><circle cx="1777.3" cy="159.5" r="3.75"/><circle cx="1860.8" cy="252.8" r="3.75"/><circle cx="1772.3" cy="292.9" r="3.75"/><circle cx="1800.1" cy="301.3" r="3.75"/><circle cx="1819.2" cy="268.4" r="3.75"/><circle cx="1674.6" cy="185.7" r="3.75"/><circle cx="1861.4" cy="168.6" r="3.75"/><circle cx="1836.9" cy="274.7" r="3.75"/><circle cx="1792.9" cy="164.3" r="3.75"/><circle cx="1742.0" cy="190.9" r="3.75"/><circle cx="1821.5" cy="230.5" r="3.75"/><circle cx="1844.9" cy="274.7" r="3.75"/><circle cx="1743.8" cy="297.3" r="3.75"/><circle cx="1844.9" cy="198.0" r="3.75"/><circle cx="1777.3" cy="197.3" r="3.75"/><circle cx="1735.4" cy="215.9" r="3.75"/><circle cx="1862.2" cy="256.5" r="3.75"/><circle cx="1809.2" cy="343.1" r="3.75"/><circle cx="1848.5" cy="292.9" r="3.75"/><circle cx="1842.7" cy="340.1" r="3.75"/><circle cx="1804.0" cy="327.2" r="3.75"/><circle cx="1832.3" cy="208.8" r="3.75"/><circle cx="1811.9" cy="299.2" r="3.75"/><circle cx="1725.6" cy="143.3" r="3.75"/><circle cx="1736.3" cy="196.7" r="3.75"/><circle cx="1791.7" cy="319.3" r="3.75"/><circle cx="1828.3" cy="381.3" r="3.75"/><circle cx="1839.6" cy="282.5" r="3.75"/><circle cx="1887.8" cy="268.4" r="3.75"/><circle cx="1693.6" cy="156.9" r="3.75"/><circle cx="1848.2" cy="180.5" r="3.75"/><circle cx="1823.0" cy="262.4" r="3.75"/><circle cx="1761.0" cy="192.2" r="3.75"/><circle cx="1811.9" cy="150.0" r="3.75"/><circle cx="1787.1" cy="238.7" r="3.75"/><circle cx="1789.7" cy="254.8" r="3.75"/><circle cx="1719.3" cy="328.4" r="3.75"/><circle cx="1877.2" cy="372.7" r="3.75"/><circle cx="1833.8" cy="269.0" r="3.75"/><circle cx="1813.1" cy="362.2" r="3.75"/><circle cx="1772.5" cy="319.3" r="3.75"/><circle cx="1813.2" cy="226.9" r="3.75"/><circle cx="1770.1" cy="167.6" r="3.75"/><circle cx="1893.6" cy="202.3" r="3.75"/><circle cx="1862.2" cy="330.3" r="3.75"/><circle cx="1717.5" cy="214.0" r="3.75"/><circle cx="1829.6" cy="186.6" r="3.75"/><circle cx="1833.8" cy="316.8" r="3.75"/><circle cx="1755.7" cy="243.4" r="3.75"/><circle cx="1784.8" cy="258.6" r="3.75"/><circle cx="1855.4" cy="271.1" r="3.75"/><circle cx="1723.9" cy="182.6" r="3.75"/><circle cx="1741.5" cy="190.7" r="3.75"/><circle cx="1911.8" cy="327.2" r="3.75"/><circle cx="1882.9" cy="326.5" r="3.75"/><circle cx="1820.4" cy="184.1" r="3.75"/><circle cx="1805.6" cy="313.7" r="3.75"/><circle cx="1710.6" cy="292.9" r="3.75"/><circle cx="1824.0" cy="214.3" r="3.75"/><circle cx="1773.3" cy="351.3" r="3.75"/><circle cx="1675.1" cy="173.2" r="3.75"/><circle cx="1854.2" cy="259.3" r="3.75"/><circle cx="1741.5" cy="150.6" r="3.75"/><circle cx="1799.7" cy="262.0" r="3.75"/><circle cx="1807.9" cy="236.8" r="3.75"/><circle cx="1728.6" cy="333.9" r="3.75"/><circle cx="1727.0" cy="296.2" r="3.75"/><circle cx="1805.0" cy="210.3" r="3.75"/><circle cx="1799.0" cy="169.3" r="3.75"/><circle cx="1834.5" cy="261.4" r="3.75"/><circle cx="1733.6" cy="198.0" r="3.75"/><circle cx="1829.2" cy="307.2" r="3.75"/><circle cx="1752.9" cy="162.4" r="3.75"/><circle cx="1802.6" cy="311.4" r="3.75"/><circle cx="1843.2" cy="383.7" r="3.75"/><circle cx="1751.7" cy="212.2" r="3.75"/><circle cx="1811.6" cy="152.9" r="3.75"/><circle cx="1799.0" cy="221.1" r="3.75"/><circle cx="1816.4" cy="253.0" r="3.75"/><circle cx="1839.6" cy="240.1" r="3.75"/><circle cx="1795.6" cy="289.5" r="3.75"/><circle cx="1759.7" cy="150.5" r="3.75"/><circle cx="1907.2" cy="203.4" r="3.75"/><circle cx="1737.3" cy="231.7" r="3.75"/><circle cx="1796.0" cy="292.9" r="3.75"/><circle cx="1834.8" cy="358.9" r="3.75"/><circle cx="1749.6" cy="162.7" r="3.75"/><circle cx="1754.0" cy="182.1" r="3.75"/><circle cx="1734.2" cy="124.7" r="3.75"/><circle cx="1756.5" cy="213.5" r="3.75"/><circle cx="1777.3" cy="222.1" r="3.75"/><circle cx="1696.2" cy="186.1" r="3.75"/><circle cx="1907.5" cy="292.9" r="3.75"/><circle cx="1719.3" cy="186.4" r="3.75"/><circle cx="1790.3" cy="328.8" r="3.75"/><circle cx="1825.3" cy="194.9" r="3.75"/><circle cx="1754.5" cy="372.4" r="3.75"/><circle cx="1839.6" cy="225.0" r="3.75"/><circle cx="1685.7" cy="155.0" r="3.75"/><circle cx="1717.5" cy="159.1" r="3.75"/><circle cx="1782.6" cy="273.3" r="3.75"/><circle cx="1895.5" cy="212.4" r="3.75"/><circle cx="1755.3" cy="237.4" r="3.75"/><circle cx="1847.9" cy="353.9" r="3.75"/><circle cx="1756.5" cy="318.3" r="3.75"/><circle cx="1777.3" cy="289.5" r="3.75"/><circle cx="1789.7" cy="218.6" r="3.75"/><circle cx="1773.6" cy="299.6" r="3.75"/><circle cx="1777.3" cy="310.8" r="3.75"/><circle cx="1762.4" cy="316.9" r="3.75"/><circle cx="1768.0" cy="151.4" r="3.75"/><circle cx="1847.9" cy="312.0" r="3.75"/><circle cx="1845.2" cy="238.3" r="3.75"/><circle cx="1839.6" cy="279.5" r="3.75"/><circle cx="1692.4" cy="302.2" r="3.75"/><circle cx="1797.0" cy="311.0" r="3.75"/><circle cx="1839.6" cy="210.7" r="3.75"/><circle cx="1762.4" cy="231.2" r="3.75"/><circle cx="1751.8" cy="191.6" r="3.75"/><circle cx="1798.1" cy="289.7" r="3.75"/><circle cx="1831.2" cy="243.4" r="3.75"/><circle cx="1791.7" cy="147.8" r="3.75"/><circle cx="1848.2" cy="316.5" r="3.75"/><circle cx="1804.0" cy="370.5" r="3.75"/><circle cx="1780.7" cy="249.3" r="3.75"/><circle cx="1811.9" cy="359.6" r="3.75"/><circle cx="1773.9" cy="252.4" r="3.75"/><circle cx="1759.7" cy="186.1" r="3.75"/><circle cx="1816.1" cy="263.8" r="3.75"/><circle cx="1777.3" cy="268.4" r="3.75"/><circle cx="1780.7" cy="305.4" r="3.75"/><circle cx="1830.7" cy="348.0" r="3.75"/><circle cx="1826.0" cy="281.7" r="3.75"/><circle cx="1777.3" cy="312.4" r="3.75"/><circle cx="1788.7" cy="243.9" r="3.75"/><circle cx="1746.2" cy="207.1" r="3.75"/><circle cx="1900.3" cy="343.1" r="3.75"/><circle cx="1745.4" cy="322.2" r="3.75"/><circle cx="1746.7" cy="264.8" r="3.75"/><circle cx="1816.9" cy="240.9" r="3.75"/><circle cx="1904.3" cy="303.2" r="3.75"/><circle cx="1795.1" cy="215.3" r="3.75"/><circle cx="1787.5" cy="364.6" r="3.75"/><circle cx="1903.5" cy="251.2" r="3.75"/><circle cx="1738.4" cy="200.0" r="3.75"/><circle cx="1794.9" cy="231.4" r="3.75"/><circle cx="1745.6" cy="179.6" r="3.75"/><circle cx="1860.8" cy="274.7" r="3.75"/><circle cx="1821.2" cy="222.3" r="3.75"/><circle cx="1758.0" cy="204.2" r="3.75"/><circle cx="1851.2" cy="312.8" r="3.75"/><circle cx="1784.5" cy="187.4" r="3.75"/><circle cx="1821.2" cy="192.0" r="3.75"/><circle cx="1781.0" cy="366.9" r="3.75"/><circle cx="1734.2" cy="250.0" r="3.75"/><circle cx="1791.0" cy="192.5" r="3.75"/><circle cx="1737.0" cy="299.6" r="3.75"/><circle cx="1900.1" cy="307.6" r="3.75"/><circle cx="1788.3" cy="242.5" r="3.75"/><circle cx="1833.3" cy="378.6" r="3.75"/><circle cx="1765.4" cy="241.8" r="3.75"/><circle cx="1870.7" cy="303.6" r="3.75"/><circle cx="1835.0" cy="236.8" r="3.75"/><circle cx="1910.7" cy="264.3" r="3.75"/><circle cx="1720.1" cy="180.9" r="3.75"/><circle cx="1777.3" cy="182.1" r="3.75"/><circle cx="1839.6" cy="230.0" r="3.75"/><circle cx="1881.9" cy="351.2" r="3.75"/><circle cx="1752.0" cy="306.8" r="3.75"/><circle cx="1735.8" cy="188.1" r="3.75"/><circle cx="1844.9" cy="278.3" r="3.75"/><circle cx="1816.1" cy="309.1" r="3.75"/><circle cx="1842.1" cy="250.9" r="3.75"/><circle cx="1823.0" cy="254.8" r="3.75"/><circle cx="1725.0" cy="155.7" r="3.75"/><circle cx="1904.3" cy="275.7" r="3.75"/><circle cx="1855.1" cy="307.2" r="3.75"/><circle cx="1727.0" cy="151.1" r="3.75"/><circle cx="1757.4" cy="157.9" r="3.75"/><circle cx="1736.7" cy="274.3" r="3.75"/><circle cx="1852.8" cy="190.7" r="3.75"/><circle cx="1731.6" cy="327.2" r="3.75"/><circle cx="1777.3" cy="331.0" r="3.75"/><circle cx="1770.4" cy="343.7" r="3.75"/><circle cx="1726.3" cy="168.2" r="3.75"/><circle cx="1793.3" cy="224.3" r="3.75"/><circle cx="1804.0" cy="297.0" r="3.75"/><circle cx="1752.0" cy="163.1" r="3.75"/><circle cx="1903.5" cy="353.2" r="3.75"/><circle cx="1752.4" cy="150.0" r="3.75"/><circle cx="1878.5" cy="189.3" r="3.75"/><circle cx="1777.3" cy="190.8" r="3.75"/><circle cx="1793.3" cy="185.1" r="3.75"/><circle cx="1766.3" cy="318.1" r="3.75"/><circle cx="1839.6" cy="266.5" r="3.75"/><circle cx="1830.0" cy="222.5" r="3.75"/><circle cx="1907.2" cy="244.4" r="3.75"/><circle cx="1805.1" cy="340.3" r="3.75"/><circle cx="1781.6" cy="173.2" r="3.75"/><circle cx="1755.6" cy="316.8" r="3.75"/><circle cx="1841.8" cy="177.5" r="3.75"/><circle cx="1777.3" cy="256.8" r="3.75"/><circle cx="1771.6" cy="376.0" r="3.75"/><circle cx="1728.1" cy="315.5" r="3.75"/><circle cx="1789.2" cy="146.9" r="3.75"/><circle cx="1743.3" cy="261.7" r="3.75"/><circle cx="1750.6" cy="170.4" r="3.75"/><circle cx="1829.2" cy="292.9" r="3.75"/><circle cx="1746.7" cy="274.2" r="3.75"/><circle cx="1750.6" cy="204.7" r="3.75"/><circle cx="1732.8" cy="231.7" r="3.75"/><circle cx="1761.7" cy="292.9" r="3.75"/><circle cx="1723.1" cy="176.7" r="3.75"/><circle cx="1914.7" cy="286.4" r="3.75"/><circle cx="1821.5" cy="236.8" r="3.75"/><circle cx="1821.0" cy="190.7" r="3.75"/><circle cx="1745.4" cy="330.5" r="3.75"/><circle cx="1816.2" cy="260.7" r="3.75"/><circle cx="1825.7" cy="365.9" r="3.75"/><circle cx="1879.2" cy="347.5" r="3.75"/><circle cx="1777.3" cy="237.4" r="3.75"/><circle cx="1704.2" cy="266.8" r="3.75"/><circle cx="1836.3" cy="288.4" r="3.75"/><circle cx="1801.2" cy="218.1" r="3.75"/><circle cx="1762.9" cy="257.7" r="3.75"/><circle cx="1769.8" cy="272.3" r="3.75"/><circle cx="1879.2" cy="374.8" r="3.75"/><circle cx="1857.4" cy="275.4" r="3.75"/><circle cx="1738.4" cy="253.6" r="3.75"/><circle cx="1846.5" cy="369.1" r="3.75"/><circle cx="1810.8" cy="231.3" r="3.75"/><circle cx="1848.6" cy="333.4" r="3.75"/><circle cx="1761.0" cy="278.0" r="3.75"/><circle cx="1777.3" cy="143.8" r="3.75"/><circle cx="1836.5" cy="343.1" r="3.75"/><circle cx="1739.9" cy="268.9" r="3.75"/><circle cx="1814.7" cy="320.3" r="3.75"/><circle cx="1796.4" cy="159.9" r="3.75"/><circle cx="1738.0" cy="243.3" r="3.75"/><circle cx="1804.0" cy="229.9" r="3.75"/><circle cx="1769.5" cy="210.7" r="3.75"/><circle cx="1802.2" cy="292.9" r="3.75"/><circle cx="1814.7" cy="356.6" r="3.75"/><circle cx="1758.6" cy="168.6" r="3.75"/><circle cx="1837.2" cy="199.1" r="3.75"/><circle cx="1756.5" cy="194.4" r="3.75"/><circle cx="1832.3" cy="259.3" r="3.75"/><circle cx="1855.1" cy="328.6" r="3.75"/><circle cx="1836.0" cy="248.8" r="3.75"/><circle cx="1848.2" cy="346.1" r="3.75"/><circle cx="1722.0" cy="213.5" r="3.75"/><circle cx="1715.0" cy="215.3" r="3.75"/><circle cx="1764.9" cy="323.4" r="3.75"/><circle cx="1830.0" cy="178.6" r="3.75"/><circle cx="1752.6" cy="176.4" r="3.75"/><circle cx="1806.4" cy="365.3" r="3.75"/><circle cx="1895.5" cy="254.4" r="3.75"/><circle cx="1783.7" cy="269.3" r="3.75"/><circle cx="1719.8" cy="236.8" r="3.75"/><circle cx="1819.7" cy="230.5" r="3.75"/><circle cx="1800.7" cy="223.2" r="3.75"/><circle cx="1772.5" cy="306.1" r="3.75"/><circle cx="1763.5" cy="159.5" r="3.75"/><circle cx="1777.3" cy="233.3" r="3.75"/><circle cx="1727.0" cy="157.7" r="3.75"/><circle cx="1842.9" cy="292.9" r="3.75"/><circle cx="1749.5" cy="278.3" r="3.75"/><circle cx="1888.0" cy="292.9" r="3.75"/><circle cx="1800.1" cy="175.8" r="3.75"/><circle cx="1766.9" cy="216.7" r="3.75"/><circle cx="1777.3" cy="226.6" r="3.75"/><circle cx="1724.4" cy="273.5" r="3.75"/><circle cx="1828.3" cy="281.2" r="3.75"/><circle cx="1801.7" cy="259.3" r="3.75"/><circle cx="1831.2" cy="312.0" r="3.75"/><circle cx="1777.3" cy="185.7" r="3.75"/><circle cx="1750.6" cy="260.2" r="3.75"/><circle cx="1802.8" cy="253.9" r="3.75"/><circle cx="1777.3" cy="272.3" r="3.75"/><circle cx="1739.9" cy="273.3" r="3.75"/><circle cx="1807.7" cy="380.6" r="3.75"/><circle cx="1846.5" cy="324.7" r="3.75"/><circle cx="1765.9" cy="219.4" r="3.75"/><circle cx="1764.0" cy="225.5" r="3.75"/><circle cx="1747.8" cy="162.0" r="3.75"/><circle cx="1834.8" cy="378.6" r="3.75"/><circle cx="1791.1" cy="254.8" r="3.75"/><circle cx="1817.6" cy="303.0" r="3.75"/><circle cx="1793.6" cy="251.9" r="3.75"/><circle cx="1759.7" cy="283.2" r="3.75"/><circle cx="1728.6" cy="326.5" r="3.75"/><circle cx="1769.5" cy="175.0" r="3.75"/><circle cx="1807.7" cy="344.7" r="3.75"/><circle cx="1836.3" cy="297.4" r="3.75"/><circle cx="1746.7" cy="205.6" r="3.75"/><circle cx="1905.1" cy="292.9" r="3.75"/><circle cx="1777.3" cy="251.6" r="3.75"/><circle cx="1863.5" cy="309.4" r="3.75"/><circle cx="1813.1" cy="165.2" r="3.75"/><circle cx="1796.6" cy="251.5" r="3.75"/><circle cx="1821.0" cy="354.9" r="3.75"/><circle cx="1885.9" cy="356.7" r="3.75"/><circle cx="1798.1" cy="331.0" r="3.75"/><circle cx="1780.8" cy="150.5" r="3.75"/><circle cx="1912.0" cy="316.8" r="3.75"/><circle cx="1772.0" cy="180.2" r="3.75"/><circle cx="1868.5" cy="368.7" r="3.75"/><circle cx="1843.6" cy="292.9" r="3.75"/><circle cx="1823.0" cy="308.1" r="3.75"/><circle cx="1782.6" cy="258.6" r="3.75"/><circle cx="1764.3" cy="292.9" r="3.75"/><circle cx="1730.6" cy="303.6" r="3.75"/><circle cx="1715.0" cy="323.2" r="3.75"/><circle cx="1842.9" cy="260.5" r="3.75"/><circle cx="1768.8" cy="187.7" r="3.75"/><circle cx="1789.0" cy="319.7" r="3.75"/><circle cx="1754.9" cy="340.9" r="3.75"/><circle cx="1857.4" cy="313.9" r="3.75"/><circle cx="1792.9" cy="310.8" r="3.75"/><circle cx="1746.2" cy="282.2" r="3.75"/><circle cx="1706.0" cy="196.2" r="3.75"/><circle cx="1769.8" cy="220.9" r="3.75"/><circle cx="1868.7" cy="365.9" r="3.75"/><circle cx="1834.8" cy="286.3" r="3.75"/><circle cx="1846.9" cy="279.5" r="3.75"/><circle cx="1880.0" cy="190.0" r="3.75"/><circle cx="1781.4" cy="376.7" r="3.75"/><circle cx="1768.4" cy="166.3" r="3.75"/><circle cx="1790.3" cy="197.2" r="3.75"/><circle cx="1799.7" cy="351.2" r="3.75"/><circle cx="1839.6" cy="259.6" r="3.75"/><circle cx="1805.6" cy="334.5" r="3.75"/><circle cx="1835.0" cy="358.4" r="3.75"/><circle cx="1723.4" cy="155.7" r="3.75"/><circle cx="1720.1" cy="166.9" r="3.75"/><circle cx="1745.1" cy="251.5" r="3.75"/><circle cx="1777.3" cy="346.0" r="3.75"/><circle cx="1777.3" cy="341.1" r="3.75"/><circle cx="1801.1" cy="227.4" r="3.75"/><circle cx="1764.9" cy="292.9" r="3.75"/><circle cx="1847.9" cy="266.2" r="3.75"/><circle cx="1743.3" cy="296.8" r="3.75"/><circle cx="1817.9" cy="188.5" r="3.75"/><circle cx="1777.3" cy="251.7" r="3.75"/><circle cx="1845.2" cy="253.9" r="3.75"/><circle cx="1773.0" cy="217.1" r="3.75"/><circle cx="1722.0" cy="216.7" r="3.75"/><circle cx="1789.2" cy="347.6" r="3.75"/><circle cx="1855.1" cy="292.9" r="3.75"/><circle cx="1777.3" cy="188.1" r="3.75"/><circle cx="1799.0" cy="312.8" r="3.75"/><circle cx="1869.0" cy="283.6" r="3.75"/><circle cx="1835.0" cy="249.3" r="3.75"/><circle cx="1881.1" cy="277.0" r="3.75"/><circle cx="1925.8" cy="292.9" r="3.75"/><circle cx="1736.7" cy="158.7" r="3.75"/><circle cx="1818.8" cy="270.7" r="3.75"/><circle cx="1752.0" cy="292.9" r="3.75"/><circle cx="1853.4" cy="258.0" r="3.75"/><circle cx="1715.0" cy="231.7" r="3.75"/><circle cx="1831.8" cy="350.1" r="3.75"/><circle cx="1792.4" cy="200.2" r="3.75"/><circle cx="1851.3" cy="367.3" r="3.75"/><circle cx="1783.7" cy="292.9" r="3.75"/><circle cx="1742.0" cy="204.8" r="3.75"/><circle cx="1911.8" cy="224.3" r="3.75"/><circle cx="1819.7" cy="285.1" r="3.75"/><circle cx="1855.6" cy="265.2" r="3.75"/><circle cx="1733.1" cy="292.9" r="3.75"/><circle cx="1750.6" cy="268.4" r="3.75"/><circle cx="1854.2" cy="277.8" r="3.75"/><circle cx="1799.3" cy="156.7" r="3.75"/><circle cx="1852.8" cy="395.1" r="3.75"/><circle cx="1914.3" cy="243.4" r="3.75"/><circle cx="1739.9" cy="177.1" r="3.75"/><circle cx="1913.1" cy="292.9" r="3.75"/><circle cx="1732.5" cy="303.2" r="3.75"/><circle cx="1799.7" cy="217.4" r="3.75"/><circle cx="1781.9" cy="221.8" r="3.75"/><circle cx="1777.3" cy="316.3" r="3.75"/><circle cx="1884.9" cy="266.9" r="3.75"/><circle cx="1836.3" cy="292.9" r="3.75"/><circle cx="1733.1" cy="190.0" r="3.75"/><circle cx="1737.0" cy="198.7" r="3.75"/><circle cx="1899.7" cy="322.5" r="3.75"/><circle cx="1780.7" cy="264.8" r="3.75"/><circle cx="1766.3" cy="218.9" r="3.75"/><circle cx="1880.0" cy="305.8" r="3.75"/><circle cx="1851.2" cy="269.0" r="3.75"/><circle cx="1882.1" cy="288.7" r="3.75"/><circle cx="1787.9" cy="286.4" r="3.75"/><circle cx="1843.2" cy="277.8" r="3.75"/><circle cx="1725.0" cy="196.9" r="3.75"/><circle cx="1777.3" cy="202.4" r="3.75"/><circle cx="1832.8" cy="283.6" r="3.75"/><circle cx="1834.5" cy="271.9" r="3.75"/><circle cx="1858.4" cy="257.3" r="3.75"/><circle cx="1741.5" cy="292.9" r="3.75"/><circle cx="1794.9" cy="212.0" r="3.75"/><circle cx="1800.7" cy="175.0" r="3.75"/><circle cx="1749.3" cy="160.0" r="3.75"/><circle cx="1860.3" cy="164.3" r="3.75"/><circle cx="1760.3" cy="208.7" r="3.75"/><circle cx="1853.0" cy="292.9" r="3.75"/><circle cx="1804.0" cy="175.3" r="3.75"/><circle cx="1788.3" cy="245.8" r="3.75"/><circle cx="1809.0" cy="208.8" r="3.75"/><circle cx="1770.4" cy="327.8" r="3.75"/><circle cx="1722.0" cy="270.7" r="3.75"/><circle cx="1813.1" cy="322.1" r="3.75"/><circle cx="1731.9" cy="269.7" r="3.75"/><circle cx="1765.9" cy="145.9" r="3.75"/><circle cx="1811.9" cy="204.0" r="3.75"/><circle cx="1781.3" cy="219.9" r="3.75"/><circle cx="1704.9" cy="170.4" r="3.75"/><circle cx="1903.0" cy="215.0" r="3.75"/><circle cx="1737.0" cy="356.8" r="3.75"/><circle cx="1831.2" cy="296.7" r="3.75"/><circle cx="1845.6" cy="280.3" r="3.75"/><circle cx="1743.0" cy="152.9" r="3.75"/><circle cx="1766.9" cy="302.4" r="3.75"/><circle cx="1719.8" cy="266.5" r="3.75"/><circle cx="1722.3" cy="185.3" r="3.75"/><circle cx="1767.1" cy="149.5" r="3.75"/><circle cx="1885.5" cy="234.2" r="3.75"/><circle cx="1792.2" cy="186.6" r="3.75"/><circle cx="1768.8" cy="343.6" r="3.75"/><circle cx="1737.3" cy="243.9" r="3.75"/><circle cx="1698.4" cy="132.8" r="3.75"/><circle cx="1839.6" cy="242.1" r="3.75"/><circle cx="1834.2" cy="210.9" r="3.75"/><circle cx="1814.7" cy="274.2" r="3.75"/><circle cx="1828.3" cy="269.5" r="3.75"/><circle cx="1858.4" cy="189.3" r="3.75"/><circle cx="1828.3" cy="236.8" r="3.75"/><circle cx="1853.7" cy="335.8" r="3.75"/><circle cx="1848.2" cy="168.7" r="3.75"/><circle cx="1685.7" cy="175.2" r="3.75"/><circle cx="1781.6" cy="348.7" r="3.75"/><circle cx="1781.6" cy="288.9" r="3.75"/><circle cx="1754.0" cy="250.0" r="3.75"/><circle cx="1739.9" cy="297.8" r="3.75"/><circle cx="1747.4" cy="231.2" r="3.75"/><circle cx="1758.2" cy="268.4" r="3.75"/><circle cx="1797.2" cy="201.7" r="3.75"/><circle cx="1830.0" cy="253.3" r="3.75"/><circle cx="1759.7" cy="354.4" r="3.75"/><circle cx="1735.8" cy="258.0" r="3.75"/><circle cx="1732.5" cy="118.0" r="3.75"/><circle cx="1826.9" cy="166.9" r="3.75"/><circle cx="1738.2" cy="193.2" r="3.75"/><circle cx="1773.0" cy="189.2" r="3.75"/><circle cx="1717.7" cy="198.0" r="3.75"/><circle cx="1737.0" cy="313.1" r="3.75"/><circle cx="1875.1" cy="248.0" r="3.75"/><circle cx="1739.9" cy="347.8" r="3.75"/><circle cx="1758.6" cy="202.9" r="3.75"/><circle cx="1807.7" cy="225.1" r="3.75"/><circle cx="1673.5" cy="192.9" r="3.75"/><circle cx="1769.2" cy="307.8" r="3.75"/><circle cx="1842.1" cy="236.9" r="3.75"/><circle cx="1835.0" cy="218.1" r="3.75"/><circle cx="1777.3" cy="220.3" r="3.75"/><circle cx="1765.9" cy="205.4" r="3.75"/><circle cx="1828.3" cy="215.0" r="3.75"/><circle cx="1881.9" cy="337.5" r="3.75"/><circle cx="1719.8" cy="151.1" r="3.75"/><circle cx="1680.4" cy="175.4" r="3.75"/><circle cx="1737.3" cy="335.8" r="3.75"/><circle cx="1733.4" cy="217.2" r="3.75"/><circle cx="1849.9" cy="269.1" r="3.75"/><circle cx="1915.4" cy="281.7" r="3.75"/><circle cx="1700.4" cy="319.8" r="3.75"/><circle cx="1821.2" cy="368.6" r="3.75"/><circle cx="1810.8" cy="200.5" r="3.75"/><circle cx="1747.4" cy="210.6" r="3.75"/><circle cx="1887.2" cy="217.2" r="3.75"/><circle cx="1847.9" cy="292.9" r="3.75"/><circle cx="1769.2" cy="229.5" r="3.75"/><circle cx="1773.6" cy="282.8" r="3.75"/><circle cx="1777.3" cy="177.3" r="3.75"/><circle cx="1754.9" cy="224.3" r="3.75"/><circle cx="1720.4" cy="184.8" r="3.75"/><circle cx="1786.2" cy="125.5" r="3.75"/><circle cx="1773.0" cy="161.3" r="3.75"/><circle cx="1730.6" cy="319.7" r="3.75"/><circle cx="1831.8" cy="346.5" r="3.75"/><circle cx="1825.7" cy="292.9" r="3.75"/><circle cx="1792.9" cy="282.2" r="3.75"/><circle cx="1821.0" cy="303.8" r="3.75"/><circle cx="1752.6" cy="335.0" r="3.75"/><circle cx="1765.6" cy="196.4" r="3.75"/><circle cx="1830.7" cy="358.2" r="3.75"/><circle cx="1687.6" cy="217.4" r="3.75"/><circle cx="1751.8" cy="156.5" r="3.75"/><circle cx="1777.3" cy="207.1" r="3.75"/><circle cx="1754.9" cy="344.3" r="3.75"/><circle cx="1699.2" cy="258.6" r="3.75"/><circle cx="1788.7" cy="191.4" r="3.75"/><circle cx="1715.0" cy="317.4" r="3.75"/><circle cx="1719.8" cy="177.5" r="3.75"/><circle cx="1787.9" cy="357.6" r="3.75"/><circle cx="1773.6" cy="326.5" r="3.75"/><circle cx="1786.6" cy="198.6" r="3.75"/><circle cx="1786.6" cy="250.0" r="3.75"/><circle cx="1791.0" cy="200.9" r="3.75"/><circle cx="1764.0" cy="311.3" r="3.75"/><circle cx="1766.7" cy="179.6" r="3.75"/><circle cx="1777.3" cy="225.8" r="3.75"/><circle cx="1858.7" cy="372.0" r="3.75"/><circle cx="1904.7" cy="261.7" r="3.75"/><circle cx="1805.3" cy="220.0" r="3.75"/><circle cx="1757.6" cy="329.0" r="3.75"/><circle cx="1772.5" cy="231.3" r="3.75"/><circle cx="1739.9" cy="221.2" r="3.75"/><circle cx="1770.4" cy="184.9" r="3.75"/><circle cx="1805.0" cy="365.9" r="3.75"/><circle cx="1773.6" cy="289.5" r="3.75"/><circle cx="1852.8" cy="292.9" r="3.75"/><circle cx="1777.3" cy="214.3" r="3.75"/><circle cx="1856.2" cy="281.5" r="3.75"/><circle cx="1750.6" cy="323.5" r="3.75"/><circle cx="1728.6" cy="192.2" r="3.75"/><circle cx="1826.0" cy="315.3" r="3.75"/><circle cx="1743.0" cy="226.4" r="3.75"/><circle cx="1849.9" cy="297.7" r="3.75"/><circle cx="1853.7" cy="355.3" r="3.75"/><circle cx="1834.8" cy="246.7" r="3.75"/><circle cx="1755.7" cy="358.9" r="3.75"/><circle cx="1827.6" cy="207.1" r="3.75"/><circle cx="1777.3" cy="330.2" r="3.75"/><circle cx="1777.3" cy="204.0" r="3.75"/><circle cx="1777.3" cy="140.5" r="3.75"/><circle cx="1846.5" cy="321.5" r="3.75"/><circle cx="1773.3" cy="183.4" r="3.75"/><circle cx="1717.4" cy="205.5" r="3.75"/><circle cx="1696.2" cy="208.8" r="3.75"/><circle cx="1802.9" cy="292.9" r="3.75"/><circle cx="1725.4" cy="231.0" r="3.75"/><circle cx="1850.9" cy="251.3" r="3.75"/><circle cx="1683.9" cy="176.0" r="3.75"/><circle cx="1814.7" cy="339.7" r="3.75"/><circle cx="1836.3" cy="220.7" r="3.75"/><circle cx="1813.1" cy="267.4" r="3.75"/><circle cx="1844.0" cy="292.9" r="3.75"/><circle cx="1873.0" cy="267.8" r="3.75"/><circle cx="1733.1" cy="155.7" r="3.75"/><circle cx="1743.3" cy="281.2" r="3.75"/><circle cx="1715.0" cy="137.7" r="3.75"/><circle cx="1777.3" cy="273.1" r="3.75"/><circle cx="1826.0" cy="292.9" r="3.75"/><circle cx="1762.4" cy="292.9" r="3.75"/><circle cx="1899.7" cy="233.8" r="3.75"/><circle cx="1866.3" cy="301.1" r="3.75"/><circle cx="1844.5" cy="354.6" r="3.75"/><circle cx="1800.1" cy="343.1" r="3.75"/><circle cx="1717.7" cy="114.1" r="3.75"/><circle cx="1781.6" cy="261.0" r="3.75"/><circle cx="1780.7" cy="165.0" r="3.75"/><circle cx="1777.3" cy="319.3" r="3.75"/><circle cx="1819.2" cy="320.9" r="3.75"/><circle cx="1709.4" cy="152.6" r="3.75"/><circle cx="1782.3" cy="320.7" r="3.75"/><circle cx="1814.7" cy="355.3" r="3.75"/><circle cx="1787.9" cy="299.4" r="3.75"/><circle cx="1824.9" cy="208.8" r="3.75"/><circle cx="1773.6" cy="266.0" r="3.75"/><circle cx="1811.9" cy="292.9" r="3.75"/><circle cx="1830.0" cy="292.9" r="3.75"/><circle cx="1872.8" cy="281.5" r="3.75"/><circle cx="1781.4" cy="251.0" r="3.75"/><circle cx="1766.7" cy="351.1" r="3.75"/><circle cx="1781.4" cy="292.9" r="3.75"/><circle cx="1856.3" cy="269.8" r="3.75"/><circle cx="1842.1" cy="306.9" r="3.75"/><circle cx="1823.0" cy="312.0" r="3.75"/><circle cx="1782.3" cy="269.7" r="3.75"/><circle cx="1804.0" cy="253.7" r="3.75"/><circle cx="1777.3" cy="230.2" r="3.75"/><circle cx="1851.3" cy="237.9" r="3.75"/><circle cx="1825.3" cy="224.3" r="3.75"/><circle cx="1793.3" cy="243.9" r="3.75"/><circle cx="1773.5" cy="226.4" r="3.75"/><circle cx="1752.4" cy="298.6" r="3.75"/><circle cx="1777.3" cy="265.5" r="3.75"/><circle cx="1686.9" cy="243.1" r="3.75"/><circle cx="1851.2" cy="241.1" r="3.75"/><circle cx="1782.1" cy="156.6" r="3.75"/><circle cx="1875.8" cy="289.8" r="3.75"/><circle cx="1701.8" cy="179.8" r="3.75"/><circle cx="1768.8" cy="273.4" r="3.75"/><circle cx="1799.3" cy="232.4" r="3.75"/><circle cx="1914.9" cy="297.4" r="3.75"/><circle cx="1772.3" cy="172.4" r="3.75"/><circle cx="1744.3" cy="262.6" r="3.75"/><circle cx="1777.3" cy="296.1" r="3.75"/><circle cx="1829.6" cy="371.8" r="3.75"/><circle cx="1861.5" cy="346.7" r="3.75"/><circle cx="1744.3" cy="161.8" r="3.75"/><circle cx="1791.1" cy="219.9" r="3.75"/><circle cx="1796.4" cy="296.4" r="3.75"/><circle cx="1705.5" cy="218.1" r="3.75"/><circle cx="1820.4" cy="273.1" r="3.75"/><circle cx="1773.8" cy="173.2" r="3.75"/><circle cx="1756.5" cy="164.3" r="3.75"/><circle cx="1831.8" cy="285.7" r="3.75"/><circle cx="1773.9" cy="239.9" r="3.75"/><circle cx="1757.4" cy="219.9" r="3.75"/><circle cx="1861.5" cy="279.5" r="3.75"/><circle cx="1821.0" cy="296.6" r="3.75"/><circle cx="1818.3" cy="167.4" r="3.75"/><circle cx="1765.4" cy="219.9" r="3.75"/><circle cx="1773.0" cy="344.7" r="3.75"/><circle cx="1816.4" cy="380.6" r="3.75"/><circle cx="1903.3" cy="336.8" r="3.75"/><circle cx="1808.4" cy="331.0" r="3.75"/><circle cx="1701.6" cy="153.8" r="3.75"/><circle cx="1784.2" cy="356.4" r="3.75"/><circle cx="1839.6" cy="350.1" r="3.75"/><circle cx="1734.9" cy="312.4" r="3.75"/><circle cx="1733.6" cy="285.6" r="3.75"/><circle cx="1739.9" cy="239.0" r="3.75"/><circle cx="1742.7" cy="213.5" r="3.75"/><circle cx="1781.0" cy="269.4" r="3.75"/><circle cx="1725.6" cy="256.4" r="3.75"/><circle cx="1818.3" cy="184.2" r="3.75"/><circle cx="1782.6" cy="268.4" r="3.75"/><circle cx="1833.3" cy="310.0" r="3.75"/><circle cx="1852.8" cy="333.0" r="3.75"/><circle cx="1720.1" cy="303.4" r="3.75"/><circle cx="1859.8" cy="177.2" r="3.75"/><circle cx="1764.3" cy="296.9" r="3.75"/><circle cx="1769.5" cy="235.7" r="3.75"/><circle cx="1773.9" cy="361.5" r="3.75"/><circle cx="1742.7" cy="312.0" r="3.75"/><circle cx="1777.3" cy="353.6" r="3.75"/><circle cx="1777.3" cy="306.6" r="3.75"/><circle cx="1876.7" cy="183.4" r="3.75"/><circle cx="1847.3" cy="228.6" r="3.75"/><circle cx="1763.5" cy="292.9" r="3.75"/><circle cx="1712.3" cy="259.3" r="3.75"/><circle cx="1738.4" cy="350.1" r="3.75"/><circle cx="1903.3" cy="344.7" r="3.75"/><circle cx="1721.8" cy="186.3" r="3.75"/><circle cx="1773.3" cy="267.4" r="3.75"/><circle cx="1872.6" cy="299.9" r="3.75"/><circle cx="1867.0" cy="327.2" r="3.75"/><circle cx="1733.4" cy="343.3" r="3.75"/><circle cx="1782.3" cy="232.6" r="3.75"/><circle cx="1855.6" cy="342.7" r="3.75"/><circle cx="1821.0" cy="365.9" r="3.75"/><circle cx="1805.0" cy="229.4" r="3.75"/><circle cx="1781.1" cy="303.4" r="3.75"/><circle cx="1770.1" cy="220.3" r="3.75"/><circle cx="1854.2" cy="292.9" r="3.75"/><circle cx="1759.5" cy="162.2" r="3.75"/><circle cx="1835.0" cy="243.0" r="3.75"/><circle cx="1706.0" cy="199.3" r="3.75"/><circle cx="1785.1" cy="225.0" r="3.75"/><circle cx="1817.3" cy="194.9" r="3.75"/><circle cx="1821.0" cy="322.1" r="3.75"/><circle cx="1722.8" cy="260.7" r="3.75"/><circle cx="1711.7" cy="167.8" r="3.75"/><circle cx="1800.7" cy="146.4" r="3.75"/><circle cx="1732.5" cy="299.8" r="3.75"/><circle cx="1725.6" cy="314.8" r="3.75"/><circle cx="1802.0" cy="286.4" r="3.75"/><circle cx="1805.3" cy="348.6" r="3.75"/><circle cx="1718.9" cy="223.2" r="3.75"/><circle cx="1877.9" cy="349.0" r="3.75"/><circle cx="1800.1" cy="221.8" r="3.75"/><circle cx="1896.2" cy="298.1" r="3.75"/><circle cx="1819.7" cy="347.5" r="3.75"/><circle cx="1816.4" cy="280.9" r="3.75"/><circle cx="1855.6" cy="337.2" r="3.75"/><circle cx="1819.2" cy="247.4" r="3.75"/><circle cx="1827.1" cy="224.3" r="3.75"/><circle cx="1789.7" cy="292.9" r="3.75"/><circle cx="1891.5" cy="292.9" r="3.75"/><circle cx="1842.1" cy="324.4" r="3.75"/><circle cx="1768.4" cy="292.9" r="3.75"/><circle cx="1712.1" cy="169.3" r="3.75"/><circle cx="1736.7" cy="210.9" r="3.75"/><circle cx="1727.5" cy="161.4" r="3.75"/><circle cx="1754.9" cy="286.0" r="3.75"/><circle cx="1831.2" cy="327.2" r="3.75"/><circle cx="1787.5" cy="168.2" r="3.75"/><circle cx="1832.3" cy="247.5" r="3.75"/><circle cx="1734.2" cy="210.4" r="3.75"/><circle cx="1758.6" cy="194.3" r="3.75"/><circle cx="1881.9" cy="241.4" r="3.75"/><circle cx="1729.3" cy="219.4" r="3.75"/><circle cx="1860.8" cy="307.5" r="3.75"/><circle cx="1792.2" cy="159.1" r="3.75"/><circle cx="1837.2" cy="283.2" r="3.75"/><circle cx="1809.5" cy="363.9" r="3.75"/><circle cx="1773.9" cy="364.6" r="3.75"/><circle cx="1817.6" cy="266.0" r="3.75"/><circle cx="1794.3" cy="344.9" r="3.75"/><circle cx="1682.0" cy="131.9" r="3.75"/><circle cx="1756.5" cy="145.2" r="3.75"/><circle cx="1910.7" cy="275.4" r="3.75"/><circle cx="1813.1" cy="198.0" r="3.75"/><circle cx="1741.4" cy="236.8" r="3.75"/><circle cx="1788.7" cy="348.9" r="3.75"/><circle cx="1804.0" cy="333.7" r="3.75"/><circle cx="1786.2" cy="333.7" r="3.75"/><circle cx="1835.7" cy="250.0" r="3.75"/><circle cx="1834.8" cy="200.5" r="3.75"/><circle cx="1807.9" cy="215.0" r="3.75"/><circle cx="1792.4" cy="228.0" r="3.75"/><circle cx="1709.7" cy="157.9" r="3.75"/><circle cx="1802.9" cy="178.6" r="3.75"/><circle cx="1761.7" cy="160.7" r="3.75"/><circle cx="1839.6" cy="315.8" r="3.75"/><circle cx="1770.1" cy="342.4" r="3.75"/><circle cx="1789.0" cy="196.4" r="3.75"/><circle cx="1816.9" cy="204.5" r="3.75"/><circle cx="1729.7" cy="218.9" r="3.75"/><circle cx="1793.3" cy="292.9" r="3.75"/><circle cx="1839.6" cy="299.6" r="3.75"/><circle cx="1802.8" cy="328.0" r="3.75"/><circle cx="1798.1" cy="155.7" r="3.75"/><circle cx="1777.3" cy="342.9" r="3.75"/><circle cx="1733.4" cy="146.6" r="3.75"/><circle cx="1916.2" cy="292.9" r="3.75"/><circle cx="1676.1" cy="185.7" r="3.75"/><circle cx="1728.1" cy="256.8" r="3.75"/><circle cx="1784.5" cy="312.7" r="3.75"/><circle cx="1835.7" cy="298.3" r="3.75"/><circle cx="1835.7" cy="212.5" r="3.75"/><circle cx="1901.8" cy="240.5" r="3.75"/><circle cx="1829.6" cy="200.3" r="3.75"/><circle cx="1879.5" cy="276.7" r="3.75"/><circle cx="1777.3" cy="269.5" r="3.75"/><circle cx="1812.9" cy="317.4" r="3.75"/><circle cx="1836.0" cy="346.8" r="3.75"/><circle cx="1792.9" cy="267.9" r="3.75"/><circle cx="1783.0" cy="318.9" r="3.75"/><circle cx="1853.7" cy="328.0" r="3.75"/><circle cx="1781.0" cy="282.8" r="3.75"/><circle cx="1782.6" cy="155.7" r="3.75"/><circle cx="1814.7" cy="332.1" r="3.75"/><circle cx="1855.9" cy="342.5" r="3.75"/><circle cx="1782.6" cy="292.9" r="3.75"/><circle cx="1834.5" cy="359.4" r="3.75"/><circle cx="1781.6" cy="364.7" r="3.75"/><circle cx="1900.7" cy="247.6" r="3.75"/><circle cx="1792.4" cy="292.9" r="3.75"/><circle cx="1754.5" cy="184.2" r="3.75"/><circle cx="1900.3" cy="255.3" r="3.75"/><circle cx="1706.4" cy="168.7" r="3.75"/><circle cx="1791.1" cy="315.1" r="3.75"/><circle cx="1791.0" cy="372.4" r="3.75"/><circle cx="1861.0" cy="352.0" r="3.75"/><circle cx="1730.6" cy="318.6" r="3.75"/><circle cx="1756.5" cy="289.1" r="3.75"/><circle cx="1767.5" cy="279.4" r="3.75"/><circle cx="1763.5" cy="254.8" r="3.75"/><circle cx="1825.3" cy="234.1" r="3.75"/><circle cx="1862.9" cy="339.3" r="3.75"/><circle cx="1751.8" cy="164.3" r="3.75"/><circle cx="1728.6" cy="244.4" r="3.75"/><circle cx="1777.3" cy="169.9" r="3.75"/><circle cx="1833.8" cy="233.1" r="3.75"/><circle cx="1777.3" cy="175.6" r="3.75"/><circle cx="1750.6" cy="254.4" r="3.75"/><circle cx="1825.7" cy="200.8" r="3.75"/><circle cx="1796.6" cy="334.3" r="3.75"/><circle cx="1810.8" cy="253.3" r="3.75"/><circle cx="1754.5" cy="276.2" r="3.75"/><circle cx="1777.3" cy="345.7" r="3.75"/><circle cx="1876.9" cy="338.6" r="3.75"/><circle cx="1755.6" cy="201.2" r="3.75"/><circle cx="1890.8" cy="232.4" r="3.75"/><circle cx="1766.9" cy="221.4" r="3.75"/><circle cx="1831.2" cy="323.4" r="3.75"/><circle cx="1787.7" cy="278.6" r="3.75"/><circle cx="1725.6" cy="303.8" r="3.75"/><circle cx="1800.7" cy="142.8" r="3.75"/><circle cx="1722.0" cy="337.4" r="3.75"/><circle cx="1733.4" cy="338.3" r="3.75"/><circle cx="1857.4" cy="302.7" r="3.75"/><circle cx="1735.8" cy="269.1" r="3.75"/><circle cx="1832.8" cy="302.2" r="3.75"/><circle cx="1777.3" cy="350.1" r="3.75"/><circle cx="1746.7" cy="149.5" r="3.75"/><circle cx="1858.7" cy="275.3" r="3.75"/><circle cx="1842.3" cy="251.9" r="3.75"/><circle cx="1823.1" cy="237.9" r="3.75"/><circle cx="1726.3" cy="165.0" r="3.75"/><circle cx="1715.0" cy="218.1" r="3.75"/><circle cx="1836.7" cy="292.9" r="3.75"/><circle cx="1853.0" cy="316.1" r="3.75"/><circle cx="1837.1" cy="364.9" r="3.75"/><circle cx="1799.7" cy="268.9" r="3.75"/><circle cx="1706.7" cy="220.5" r="3.75"/><circle cx="1785.1" cy="382.2" r="3.75"/><circle cx="1777.3" cy="190.0" r="3.75"/><circle cx="1846.5" cy="273.8" r="3.75"/><circle cx="1742.7" cy="162.7" r="3.75"/><circle cx="1836.0" cy="341.9" r="3.75"/><circle cx="1777.3" cy="154.4" r="3.75"/><circle cx="1783.0" cy="194.2" r="3.75"/><circle cx="1823.1" cy="244.4" r="3.75"/><circle cx="1806.4" cy="212.9" r="3.75"/><circle cx="1766.3" cy="168.5" r="3.75"/><circle cx="1804.0" cy="278.2" r="3.75"/><circle cx="1914.9" cy="315.5" r="3.75"/><circle cx="1777.3" cy="313.1" r="3.75"/><circle cx="1895.3" cy="292.9" r="3.75"/><circle cx="1769.8" cy="186.6" r="3.75"/><circle cx="1777.3" cy="210.6" r="3.75"/><circle cx="1788.7" cy="219.4" r="3.75"/><circle cx="1872.8" cy="258.6" r="3.75"/><circle cx="1872.8" cy="239.5" r="3.75"/><circle cx="1787.1" cy="311.0" r="3.75"/><circle cx="1853.7" cy="292.9" r="3.75"/><circle cx="1805.0" cy="194.4" r="3.75"/><circle cx="1889.4" cy="286.7" r="3.75"/><circle cx="1731.6" cy="262.4" r="3.75"/><circle cx="1809.8" cy="259.3" r="3.75"/><circle cx="1720.4" cy="155.0" r="3.75"/><circle cx="1862.2" cy="342.8" r="3.75"/><circle cx="1727.5" cy="190.0" r="3.75"/><circle cx="1836.9" cy="289.2" r="3.75"/><circle cx="1817.6" cy="175.2" r="3.75"/><circle cx="1720.8" cy="225.1" r="3.75"/><circle cx="1741.4" cy="319.3" r="3.75"/><circle cx="1799.7" cy="183.1" r="3.75"/><circle cx="1777.3" cy="331.9" r="3.75"/><circle cx="1822.1" cy="310.0" r="3.75"/><circle cx="1834.2" cy="363.7" r="3.75"/><circle cx="1739.9" cy="321.5" r="3.75"/><circle cx="1767.5" cy="252.3" r="3.75"/><circle cx="1731.5" cy="212.0" r="3.75"/><circle cx="1785.8" cy="292.9" r="3.75"/><circle cx="1769.8" cy="275.7" r="3.75"/><circle cx="1737.0" cy="326.5" r="3.75"/><circle cx="1759.0" cy="148.3" r="3.75"/><circle cx="1773.5" cy="205.4" r="3.75"/><circle cx="1777.3" cy="211.7" r="3.75"/><circle cx="1712.8" cy="218.1" r="3.75"/><circle cx="1771.6" cy="230.5" r="3.75"/><circle cx="1810.8" cy="209.3" r="3.75"/><circle cx="1785.8" cy="257.8" r="3.75"/><circle cx="1710.1" cy="162.6" r="3.75"/><circle cx="1903.1" cy="289.4" r="3.75"/><circle cx="1773.6" cy="114.7" r="3.75"/><circle cx="1792.2" cy="148.8" r="3.75"/><circle cx="1807.4" cy="160.1" r="3.75"/><circle cx="1744.3" cy="208.8" r="3.75"/><circle cx="1860.3" cy="235.7" r="3.75"/><circle cx="1870.7" cy="281.2" r="3.75"/><circle cx="1738.0" cy="144.0" r="3.75"/><circle cx="1744.3" cy="237.4" r="3.75"/><circle cx="1719.3" cy="269.3" r="3.75"/><circle cx="1794.3" cy="359.2" r="3.75"/><circle cx="1735.8" cy="172.2" r="3.75"/><circle cx="1749.3" cy="352.9" r="3.75"/><circle cx="1801.1" cy="277.3" r="3.75"/><circle cx="1745.6" cy="273.5" r="3.75"/><circle cx="1826.0" cy="169.9" r="3.75"/><circle cx="1798.1" cy="194.4" r="3.75"/><circle cx="1731.5" cy="169.9" r="3.75"/><circle cx="1786.2" cy="321.5" r="3.75"/><circle cx="1866.6" cy="285.4" r="3.75"/><circle cx="1832.6" cy="178.6" r="3.75"/><circle cx="1734.9" cy="183.8" r="3.75"/><circle cx="1839.6" cy="213.8" r="3.75"/><circle cx="1880.2" cy="247.4" r="3.75"/><circle cx="1781.1" cy="240.4" r="3.75"/><circle cx="1800.1" cy="347.3" r="3.75"/><circle cx="1846.5" cy="353.3" r="3.75"/><circle cx="1826.5" cy="225.2" r="3.75"/><circle cx="1837.1" cy="262.0" r="3.75"/><circle cx="1748.2" cy="151.9" r="3.75"/><circle cx="1772.7" cy="330.5" r="3.75"/><circle cx="1777.3" cy="266.5" r="3.75"/><circle cx="1777.3" cy="360.0" r="3.75"/><circle cx="1883.5" cy="326.5" r="3.75"/><circle cx="1883.3" cy="204.8" r="3.75"/><circle cx="1858.7" cy="323.7" r="3.75"/><circle cx="1747.2" cy="126.9" r="3.75"/><circle cx="1729.7" cy="144.9" r="3.75"/><circle cx="1758.6" cy="335.8" r="3.75"/><circle cx="1829.6" cy="330.6" r="3.75"/><circle cx="1791.7" cy="190.7" r="3.75"/><circle cx="1739.9" cy="138.5" r="3.75"/><circle cx="1732.5" cy="196.9" r="3.75"/><circle cx="1819.7" cy="378.6" r="3.75"/><circle cx="1728.1" cy="225.2" r="3.75"/><circle cx="1773.0" cy="308.8" r="3.75"/><circle cx="1677.9" cy="165.2" r="3.75"/><circle cx="1717.4" cy="147.3" r="3.75"/><circle cx="1794.3" cy="261.7" r="3.75"/><circle cx="1876.2" cy="187.0" r="3.75"/><circle cx="1822.7" cy="209.5" r="3.75"/><circle cx="1685.9" cy="168.8" r="3.75"/><circle cx="1833.3" cy="292.9" r="3.75"/><circle cx="1777.3" cy="223.5" r="3.75"/><circle cx="1696.2" cy="182.9" r="3.75"/><circle cx="1755.3" cy="161.8" r="3.75"/><circle cx="1764.3" cy="237.1" r="3.75"/><circle cx="1794.9" cy="169.9" r="3.75"/><circle cx="1729.7" cy="252.5" r="3.75"/><circle cx="1846.7" cy="302.7" r="3.75"/><circle cx="1743.8" cy="222.5" r="3.75"/><circle cx="1819.2" cy="194.9" r="3.75"/><circle cx="1764.9" cy="331.0" r="3.75"/><circle cx="1738.4" cy="246.5" r="3.75"/><circle cx="1855.9" cy="320.0" r="3.75"/><circle cx="1818.8" cy="183.3" r="3.75"/><circle cx="1777.3" cy="116.6" r="3.75"/><circle cx="1768.0" cy="228.6" r="3.75"/><circle cx="1769.8" cy="292.9" r="3.75"/><circle cx="1862.2" cy="305.4" r="3.75"/><circle cx="1856.3" cy="296.2" r="3.75"/><circle cx="1706.0" cy="193.1" r="3.75"/><circle cx="1728.6" cy="292.9" r="3.75"/><circle cx="1801.1" cy="211.8" r="3.75"/><circle cx="1784.5" cy="203.9" r="3.75"/><circle cx="1853.4" cy="302.4" r="3.75"/><circle cx="1802.0" cy="260.5" r="3.75"/><circle cx="1729.7" cy="262.6" r="3.75"/><circle cx="1848.5" cy="341.9" r="3.75"/><circle cx="1781.6" cy="284.9" r="3.75"/><circle cx="1738.0" cy="252.3" r="3.75"/><circle cx="1881.1" cy="194.4" r="3.75"/><circle cx="1717.9" cy="152.6" r="3.75"/><circle cx="1773.2" cy="190.0" r="3.75"/><circle cx="1752.9" cy="240.7" r="3.75"/><circle cx="1754.0" cy="196.4" r="3.75"/><circle cx="1847.3" cy="367.9" r="3.75"/><circle cx="1807.7" cy="185.2" r="3.75"/><circle cx="1738.5" cy="144.1" r="3.75"/><circle cx="1760.3" cy="304.6" r="3.75"/><circle cx="1826.9" cy="222.9" r="3.75"/><circle cx="1754.9" cy="255.2" r="3.75"/><circle cx="1821.8" cy="252.1" r="3.75"/><circle cx="1772.0" cy="292.9" r="3.75"/><circle cx="1903.8" cy="276.3" r="3.75"/><circle cx="1773.6" cy="208.8" r="3.75"/><circle cx="1849.7" cy="369.9" r="3.75"/><circle cx="1754.5" cy="297.1" r="3.75"/><circle cx="1772.0" cy="199.8" r="3.75"/><circle cx="1822.1" cy="354.6" r="3.75"/><circle cx="1762.9" cy="297.3" r="3.75"/><circle cx="1807.7" cy="316.8" r="3.75"/><circle cx="1715.0" cy="139.3" r="3.75"/><circle cx="1738.2" cy="145.3" r="3.75"/><circle cx="1739.9" cy="258.6" r="3.75"/><circle cx="1747.4" cy="255.2" r="3.75"/><circle cx="1701.8" cy="282.0" r="3.75"/><circle cx="1726.3" cy="179.9" r="3.75"/><circle cx="1736.7" cy="345.1" r="3.75"/><circle cx="1790.3" cy="181.2" r="3.75"/><circle cx="1810.8" cy="218.1" r="3.75"/><circle cx="1727.7" cy="271.9" r="3.75"/><circle cx="1881.9" cy="368.4" r="3.75"/><circle cx="1789.7" cy="161.4" r="3.75"/><circle cx="1824.0" cy="276.8" r="3.75"/><circle cx="1768.4" cy="313.3" r="3.75"/><circle cx="1810.3" cy="309.7" r="3.75"/><circle cx="1843.2" cy="368.6" r="3.75"/><circle cx="1706.1" cy="268.4" r="3.75"/><circle cx="1921.7" cy="269.5" r="3.75"/><circle cx="1741.4" cy="253.3" r="3.75"/><circle cx="1762.4" cy="234.6" r="3.75"/><circle cx="1729.3" cy="150.8" r="3.75"/><circle cx="1762.4" cy="282.6" r="3.75"/><circle cx="1857.4" cy="188.8" r="3.75"/><circle cx="1870.7" cy="188.1" r="3.75"/><circle cx="1801.1" cy="161.9" r="3.75"/><circle cx="1742.0" cy="163.1" r="3.75"/><circle cx="1707.7" cy="138.2" r="3.75"/><circle cx="1844.5" cy="310.0" r="3.75"/><circle cx="1816.4" cy="292.9" r="3.75"/><circle cx="1739.9" cy="249.3" r="3.75"/><circle cx="1873.9" cy="316.5" r="3.75"/><circle cx="1850.9" cy="204.5" r="3.75"/><circle cx="1771.3" cy="204.4" r="3.75"/><circle cx="1734.2" cy="273.1" r="3.75"/><circle cx="1802.2" cy="367.2" r="3.75"/><circle cx="1693.1" cy="148.3" r="3.75"/><circle cx="1742.7" cy="302.4" r="3.75"/><circle cx="1836.7" cy="242.2" r="3.75"/><circle cx="1862.9" cy="228.6" r="3.75"/><circle cx="1832.3" cy="212.2" r="3.75"/><circle cx="1846.1" cy="283.9" r="3.75"/><circle cx="1709.4" cy="187.7" r="3.75"/><circle cx="1730.6" cy="191.1" r="3.75"/><circle cx="1844.5" cy="313.5" r="3.75"/><circle cx="1735.4" cy="222.9" r="3.75"/><circle cx="1745.1" cy="174.6" r="3.75"/><circle cx="1729.3" cy="209.6" r="3.75"/><circle cx="1836.0" cy="243.9" r="3.75"/><circle cx="1793.6" cy="345.1" r="3.75"/><circle cx="1806.0" cy="220.3" r="3.75"/><circle cx="1889.4" cy="265.5" r="3.75"/><circle cx="1743.3" cy="215.0" r="3.75"/><circle cx="1782.1" cy="297.3" r="3.75"/><circle cx="1763.6" cy="309.6" r="3.75"/><circle cx="1816.6" cy="333.5" r="3.75"/><circle cx="1879.5" cy="331.7" r="3.75"/><circle cx="1825.3" cy="381.1" r="3.75"/><circle cx="1777.3" cy="198.1" r="3.75"/><circle cx="1781.6" cy="320.8" r="3.75"/><circle cx="1876.2" cy="218.9" r="3.75"/><circle cx="1766.7" cy="173.2" r="3.75"/><circle cx="1798.1" cy="357.7" r="3.75"/><circle cx="1752.6" cy="225.0" r="3.75"/><circle cx="1772.7" cy="134.0" r="3.75"/><circle cx="1723.1" cy="182.2" r="3.75"/><circle cx="1738.5" cy="286.4" r="3.75"/><circle cx="1750.6" cy="257.9" r="3.75"/><circle cx="1780.7" cy="299.1" r="3.75"/><circle cx="1822.4" cy="198.3" r="3.75"/><circle cx="1777.3" cy="360.8" r="3.75"/><circle cx="1830.7" cy="235.7" r="3.75"/><circle cx="1816.4" cy="288.9" r="3.75"/><circle cx="1686.9" cy="193.3" r="3.75"/><circle cx="1773.0" cy="197.2" r="3.75"/><circle cx="1777.3" cy="201.0" r="3.75"/><circle cx="1746.7" cy="305.4" r="3.75"/><circle cx="1730.6" cy="288.6" r="3.75"/><circle cx="1800.7" cy="185.7" r="3.75"/><circle cx="1777.3" cy="166.5" r="3.75"/><circle cx="1790.6" cy="366.4" r="3.75"/><circle cx="1848.6" cy="221.2" r="3.75"/><circle cx="1817.6" cy="205.5" r="3.75"/><circle cx="1799.7" cy="334.1" r="3.75"/><circle cx="1736.7" cy="292.9" r="3.75"/><circle cx="1806.0" cy="131.3" r="3.75"/><circle cx="1794.9" cy="218.5" r="3.75"/><circle cx="1821.8" cy="182.6" r="3.75"/><circle cx="1748.2" cy="186.2" r="3.75"/><circle cx="1759.0" cy="168.5" r="3.75"/><circle cx="1833.3" cy="327.2" r="3.75"/><circle cx="1808.4" cy="367.9" r="3.75"/><circle cx="1786.6" cy="147.1" r="3.75"/><circle cx="1777.3" cy="194.9" r="3.75"/><circle cx="1765.4" cy="318.4" r="3.75"/><circle cx="1859.8" cy="360.7" r="3.75"/><circle cx="1763.6" cy="338.9" r="3.75"/><circle cx="1738.0" cy="211.7" r="3.75"/><circle cx="1679.8" cy="203.4" r="3.75"/><circle cx="1860.8" cy="347.6" r="3.75"/><circle cx="1731.6" cy="151.9" r="3.75"/><circle cx="1777.3" cy="257.2" r="3.75"/><circle cx="1824.0" cy="275.7" r="3.75"/><circle cx="1723.4" cy="140.5" r="3.75"/><circle cx="1744.8" cy="210.9" r="3.75"/><circle cx="1835.3" cy="334.3" r="3.75"/><circle cx="1746.2" cy="273.8" r="3.75"/><circle cx="1768.4" cy="231.7" r="3.75"/><circle cx="1751.7" cy="292.9" r="3.75"/><circle cx="1725.0" cy="148.8" r="3.75"/><circle cx="1773.0" cy="312.8" r="3.75"/><circle cx="1764.0" cy="378.6" r="3.75"/><circle cx="1868.3" cy="292.9" r="3.75"/><circle cx="1847.3" cy="287.5" r="3.75"/><circle cx="1756.5" cy="102.3" r="3.75"/><circle cx="1773.8" cy="140.8" r="3.75"/><circle cx="1811.6" cy="233.4" r="3.75"/><circle cx="1753.4" cy="165.4" r="3.75"/><circle cx="1789.0" cy="357.2" r="3.75"/><circle cx="1791.1" cy="153.2" r="3.75"/><circle cx="1726.3" cy="149.5" r="3.75"/><circle cx="1876.2" cy="350.1" r="3.75"/><circle cx="1795.1" cy="292.9" r="3.75"/><circle cx="1745.6" cy="299.4" r="3.75"/><circle cx="1858.7" cy="240.1" r="3.75"/><circle cx="1916.2" cy="257.7" r="3.75"/><circle cx="1832.3" cy="282.8" r="3.75"/><circle cx="1891.8" cy="315.0" r="3.75"/><circle cx="1727.2" cy="234.3" r="3.75"/><circle cx="1839.6" cy="170.9" r="3.75"/><circle cx="1777.3" cy="210.7" r="3.75"/><circle cx="1858.5" cy="270.5" r="3.75"/><circle cx="1797.0" cy="184.6" r="3.75"/><circle cx="1739.9" cy="239.9" r="3.75"/><circle cx="1844.0" cy="188.8" r="3.75"/><circle cx="1745.6" cy="192.6" r="3.75"/><circle cx="1844.9" cy="351.3" r="3.75"/><circle cx="1717.9" cy="234.4" r="3.75"/><circle cx="1777.3" cy="251.9" r="3.75"/><circle cx="1792.2" cy="244.9" r="3.75"/><circle cx="1844.5" cy="337.5" r="3.75"/><circle cx="1792.2" cy="200.3" r="3.75"/><circle cx="1851.2" cy="360.7" r="3.75"/><circle cx="1810.8" cy="336.9" r="3.75"/><circle cx="1824.0" cy="185.7" r="3.75"/><circle cx="1797.0" cy="283.9" r="3.75"/><circle cx="1720.8" cy="221.1" r="3.75"/><circle cx="1718.6" cy="180.2" r="3.75"/><circle cx="1845.2" cy="331.9" r="3.75"/><circle cx="1747.2" cy="182.2" r="3.75"/><circle cx="1824.0" cy="264.3" r="3.75"/><circle cx="1764.3" cy="153.3" r="3.75"/><circle cx="1854.7" cy="246.9" r="3.75"/><circle cx="1736.3" cy="146.5" r="3.75"/><circle cx="1777.3" cy="342.4" r="3.75"/><circle cx="1747.2" cy="154.6" r="3.75"/><circle cx="1816.4" cy="312.8" r="3.75"/><circle cx="1887.7" cy="222.7" r="3.75"/><circle cx="1832.6" cy="292.9" r="3.75"/><circle cx="1789.2" cy="325.7" r="3.75"/><circle cx="1885.9" cy="245.0" r="3.75"/><circle cx="1800.7" cy="341.1" r="3.75"/><circle cx="1915.7" cy="226.2" r="3.75"/><circle cx="1825.1" cy="197.2" r="3.75"/><circle cx="1823.1" cy="283.2" r="3.75"/><circle cx="1751.8" cy="222.7" r="3.75"/><circle cx="1747.4" cy="114.5" r="3.75"/><circle cx="1691.5" cy="302.2" r="3.75"/><circle cx="1795.1" cy="231.7" r="3.75"/><circle cx="1665.2" cy="170.9" r="3.75"/><circle cx="1799.7" cy="159.1" r="3.75"/><circle cx="1738.5" cy="157.0" r="3.75"/><circle cx="1877.9" cy="223.6" r="3.75"/><circle cx="1709.4" cy="218.8" r="3.75"/><circle cx="1831.2" cy="167.1" r="3.75"/><circle cx="1777.3" cy="145.4" r="3.75"/><circle cx="1727.5" cy="212.9" r="3.75"/><circle cx="1735.4" cy="142.4" r="3.75"/><circle cx="1887.7" cy="250.0" r="3.75"/><circle cx="1817.9" cy="255.6" r="3.75"/><circle cx="1865.2" cy="292.9" r="3.75"/><circle cx="1749.6" cy="292.9" r="3.75"/><circle cx="1834.8" cy="230.2" r="3.75"/><circle cx="1769.5" cy="310.8" r="3.75"/><circle cx="1739.9" cy="159.5" r="3.75"/><circle cx="1749.3" cy="190.0" r="3.75"/><circle cx="1739.9" cy="315.8" r="3.75"/><circle cx="1721.8" cy="214.1" r="3.75"/><circle cx="1828.3" cy="202.5" r="3.75"/><circle cx="1796.0" cy="207.1" r="3.75"/><circle cx="1736.7" cy="315.3" r="3.75"/><circle cx="1816.6" cy="383.2" r="3.75"/><circle cx="1809.8" cy="240.7" r="3.75"/><circle cx="1878.5" cy="332.2" r="3.75"/><circle cx="1777.3" cy="345.1" r="3.75"/><circle cx="1757.4" cy="260.1" r="3.75"/><circle cx="1791.0" cy="171.6" r="3.75"/><circle cx="1794.3" cy="240.9" r="3.75"/><circle cx="1917.4" cy="246.5" r="3.75"/><circle cx="1812.6" cy="311.4" r="3.75"/><circle cx="1784.2" cy="343.7" r="3.75"/><circle cx="1749.3" cy="305.8" r="3.75"/><circle cx="1880.0" cy="322.9" r="3.75"/><circle cx="1806.0" cy="349.0" r="3.75"/><circle cx="1727.2" cy="138.1" r="3.75"/><circle cx="1733.4" cy="166.8" r="3.75"/><circle cx="1804.0" cy="350.1" r="3.75"/><circle cx="1734.2" cy="226.9" r="3.75"/><circle cx="1759.7" cy="370.6" r="3.75"/><circle cx="1796.4" cy="142.4" r="3.75"/><circle cx="1824.0" cy="164.3" r="3.75"/><circle cx="1829.6" cy="382.1" r="3.75"/><circle cx="1773.6" cy="292.9" r="3.75"/><circle cx="1761.0" cy="177.3" r="3.75"/><circle cx="1773.8" cy="270.2" r="3.75"/><circle cx="1839.6" cy="277.0" r="3.75"/><circle cx="1837.1" cy="244.9" r="3.75"/><circle cx="1772.7" cy="259.4" r="3.75"/><circle cx="1867.7" cy="331.6" r="3.75"/><circle cx="1744.8" cy="248.2" r="3.75"/><circle cx="1772.0" cy="185.1" r="3.75"/><circle cx="1826.9" cy="261.4" r="3.75"/><circle cx="1862.2" cy="292.9" r="3.75"/><circle cx="1743.8" cy="205.0" r="3.75"/><circle cx="1912.2" cy="297.7" r="3.75"/><circle cx="1886.3" cy="346.5" r="3.75"/><circle cx="1751.7" cy="309.7" r="3.75"/><circle cx="1773.6" cy="262.6" r="3.75"/><circle cx="1680.2" cy="214.0" r="3.75"/><circle cx="1761.7" cy="346.5" r="3.75"/><circle cx="1852.0" cy="280.0" r="3.75"/><circle cx="1672.0" cy="165.0" r="3.75"/><circle cx="1846.7" cy="312.5" r="3.75"/><circle cx="1785.8" cy="308.5" r="3.75"/><circle cx="1777.3" cy="195.5" r="3.75"/><circle cx="1749.5" cy="190.7" r="3.75"/><circle cx="1851.3" cy="212.0" r="3.75"/><circle cx="1766.3" cy="202.1" r="3.75"/><circle cx="1813.2" cy="319.3" r="3.75"/><circle cx="1769.2" cy="181.0" r="3.75"/><circle cx="1836.5" cy="230.1" r="3.75"/><circle cx="1717.4" cy="221.7" r="3.75"/><circle cx="1761.7" cy="303.6" r="3.75"/><circle cx="1836.0" cy="292.9" r="3.75"/><circle cx="1834.8" cy="322.6" r="3.75"/><circle cx="1884.0" cy="211.2" r="3.75"/><circle cx="1760.3" cy="156.5" r="3.75"/><circle cx="1759.2" cy="165.7" r="3.75"/><circle cx="1813.1" cy="234.5" r="3.75"/><circle cx="1772.3" cy="269.7" r="3.75"/><circle cx="1794.9" cy="351.1" r="3.75"/><circle cx="1757.4" cy="165.2" r="3.75"/><circle cx="1738.4" cy="275.0" r="3.75"/><circle cx="1756.5" cy="324.7" r="3.75"/><circle cx="1809.2" cy="238.5" r="3.75"/><circle cx="1751.7" cy="296.3" r="3.75"/><circle cx="1682.1" cy="150.5" r="3.75"/><circle cx="1812.3" cy="330.4" r="3.75"/><circle cx="1708.1" cy="153.2" r="3.75"/><circle cx="1773.2" cy="170.9" r="3.75"/><circle cx="1768.8" cy="328.0" r="3.75"/><circle cx="1831.2" cy="338.6" r="3.75"/><circle cx="1800.7" cy="346.5" r="3.75"/><circle cx="1844.5" cy="292.9" r="3.75"/><circle cx="1781.1" cy="138.9" r="3.75"/><circle cx="1794.3" cy="199.3" r="3.75"/><circle cx="1833.8" cy="340.8" r="3.75"/><circle cx="1729.7" cy="319.8" r="3.75"/><circle cx="1777.3" cy="152.0" r="3.75"/><circle cx="1791.0" cy="167.4" r="3.75"/><circle cx="1877.9" cy="194.0" r="3.75"/><circle cx="1766.9" cy="178.6" r="3.75"/><circle cx="1754.9" cy="217.4" r="3.75"/><circle cx="1862.2" cy="381.3" r="3.75"/><circle cx="1799.7" cy="344.3" r="3.75"/><circle cx="1791.1" cy="340.5" r="3.75"/><circle cx="1715.0" cy="278.6" r="3.75"/><circle cx="1867.7" cy="204.4" r="3.75"/><circle cx="1742.3" cy="180.4" r="3.75"/><circle cx="1727.5" cy="298.6" r="3.75"/><circle cx="1807.9" cy="358.4" r="3.75"/><circle cx="1886.3" cy="239.3" r="3.75"/><circle cx="1739.9" cy="112.8" r="3.75"/><circle cx="1813.2" cy="217.0" r="3.75"/><circle cx="1753.4" cy="222.5" r="3.75"/><circle cx="1763.5" cy="235.7" r="3.75"/><circle cx="1903.1" cy="208.9" r="3.75"/><circle cx="1879.7" cy="187.8" r="3.75"/><circle cx="1706.0" cy="161.9" r="3.75"/><circle cx="1699.9" cy="309.6" r="3.75"/><circle cx="1757.4" cy="329.4" r="3.75"/><circle cx="1787.7" cy="150.0" r="3.75"/><circle cx="1744.3" cy="151.7" r="3.75"/><circle cx="1837.2" cy="225.0" r="3.75"/><circle cx="1737.3" cy="305.1" r="3.75"/><circle cx="1886.3" cy="289.3" r="3.75"/><circle cx="1831.5" cy="265.2" r="3.75"/><circle cx="1768.4" cy="288.8" r="3.75"/><circle cx="1810.3" cy="156.7" r="3.75"/><circle cx="1789.0" cy="228.6" r="3.75"/><circle cx="1841.8" cy="174.4" r="3.75"/><circle cx="1728.9" cy="292.9" r="3.75"/><circle cx="1685.9" cy="227.2" r="3.75"/><circle cx="1784.2" cy="312.0" r="3.75"/><circle cx="1739.9" cy="322.3" r="3.75"/><circle cx="1853.4" cy="346.9" r="3.75"/><circle cx="1814.7" cy="268.4" r="3.75"/><circle cx="1861.5" cy="316.4" r="3.75"/><circle cx="1681.6" cy="230.1" r="3.75"/><circle cx="1816.4" cy="320.8" r="3.75"/><circle cx="1805.6" cy="344.9" r="3.75"/><circle cx="1773.3" cy="143.3" r="3.75"/><circle cx="1805.0" cy="362.8" r="3.75"/><circle cx="1798.1" cy="245.3" r="3.75"/><circle cx="1898.7" cy="314.3" r="3.75"/><circle cx="1777.3" cy="242.1" r="3.75"/><circle cx="1698.4" cy="277.7" r="3.75"/><circle cx="1821.0" cy="292.9" r="3.75"/><circle cx="1849.1" cy="266.5" r="3.75"/><circle cx="1743.3" cy="218.8" r="3.75"/><circle cx="1723.1" cy="270.8" r="3.75"/><circle cx="1884.6" cy="354.9" r="3.75"/><circle cx="1777.3" cy="233.9" r="3.75"/><circle cx="1784.2" cy="359.6" r="3.75"/><circle cx="1777.3" cy="286.6" r="3.75"/><circle cx="1760.3" cy="312.4" r="3.75"/><circle cx="1872.8" cy="205.2" r="3.75"/><circle cx="1914.9" cy="292.9" r="3.75"/><circle cx="1914.3" cy="273.8" r="3.75"/><circle cx="1728.1" cy="157.5" r="3.75"/><circle cx="1789.7" cy="251.0" r="3.75"/><circle cx="1777.3" cy="354.6" r="3.75"/><circle cx="1748.2" cy="262.4" r="3.75"/><circle cx="1735.1" cy="143.5" r="3.75"/><circle cx="1885.1" cy="259.9" r="3.75"/><circle cx="1820.4" cy="213.8" r="3.75"/><circle cx="1777.3" cy="308.0" r="3.75"/><circle cx="1862.9" cy="282.2" r="3.75"/><circle cx="1839.6" cy="333.7" r="3.75"/><circle cx="1734.9" cy="246.1" r="3.75"/><circle cx="1870.7" cy="297.2" r="3.75"/><circle cx="1757.4" cy="311.1" r="3.75"/><circle cx="1759.0" cy="360.2" r="3.75"/><circle cx="1801.1" cy="186.9" r="3.75"/><circle cx="1748.2" cy="167.1" r="3.75"/><circle cx="1756.5" cy="289.7" r="3.75"/><circle cx="1819.7" cy="355.3" r="3.75"/><circle cx="1772.3" cy="353.2" r="3.75"/><circle cx="1739.9" cy="312.0" r="3.75"/><circle cx="1806.0" cy="147.8" r="3.75"/><circle cx="1812.6" cy="283.6" r="3.75"/><circle cx="1777.3" cy="215.0" r="3.75"/><circle cx="1726.3" cy="282.5" r="3.75"/><circle cx="1710.1" cy="166.0" r="3.75"/><circle cx="1759.7" cy="250.8" r="3.75"/><circle cx="1832.8" cy="320.7" r="3.75"/><circle cx="1745.4" cy="184.2" r="3.75"/><circle cx="1899.1" cy="363.7" r="3.75"/><circle cx="1780.7" cy="183.8" r="3.75"/><circle cx="1841.8" cy="205.6" r="3.75"/><circle cx="1772.5" cy="152.2" r="3.75"/><circle cx="1738.5" cy="276.7" r="3.75"/><circle cx="1757.4" cy="278.3" r="3.75"/><circle cx="1676.7" cy="143.4" r="3.75"/><circle cx="1721.8" cy="246.5" r="3.75"/><circle cx="1777.3" cy="280.0" r="3.75"/><circle cx="1768.0" cy="284.3" r="3.75"/><circle cx="1746.7" cy="215.0" r="3.75"/><circle cx="1792.2" cy="364.9" r="3.75"/><circle cx="1831.2" cy="353.9" r="3.75"/><circle cx="1824.0" cy="253.6" r="3.75"/><circle cx="1795.1" cy="301.1" r="3.75"/><circle cx="1787.1" cy="329.0" r="3.75"/><circle cx="1741.7" cy="174.5" r="3.75"/><circle cx="1718.9" cy="158.9" r="3.75"/><circle cx="1777.3" cy="320.3" r="3.75"/><circle cx="1832.6" cy="219.9" r="3.75"/><circle cx="1721.3" cy="232.9" r="3.75"/><circle cx="1786.2" cy="301.1" r="3.75"/><circle cx="1741.7" cy="186.7" r="3.75"/><circle cx="1787.9" cy="212.0" r="3.75"/><circle cx="1833.3" cy="340.1" r="3.75"/><circle cx="1741.4" cy="316.0" r="3.75"/><circle cx="1782.1" cy="262.1" r="3.75"/><circle cx="1802.8" cy="285.1" r="3.75"/><circle cx="1836.0" cy="185.1" r="3.75"/><circle cx="1824.9" cy="259.3" r="3.75"/><circle cx="1886.8" cy="357.9" r="3.75"/><circle cx="1752.9" cy="326.5" r="3.75"/><circle cx="1832.3" cy="249.2" r="3.75"/><circle cx="1857.4" cy="256.1" r="3.75"/><circle cx="1789.0" cy="244.7" r="3.75"/><circle cx="1757.4" cy="249.1" r="3.75"/><circle cx="1789.7" cy="195.7" r="3.75"/><circle cx="1789.7" cy="172.8" r="3.75"/><circle cx="1806.8" cy="234.2" r="3.75"/><circle cx="1800.1" cy="259.4" r="3.75"/><circle cx="1810.3" cy="326.5" r="3.75"/><circle cx="1746.2" cy="146.4" r="3.75"/><circle cx="1786.6" cy="172.8" r="3.75"/><circle cx="1759.7" cy="292.9" r="3.75"/><circle cx="1817.6" cy="188.7" r="3.75"/><circle cx="1777.3" cy="319.0" r="3.75"/><circle cx="1746.9" cy="225.1" r="3.75"/><circle cx="1768.8" cy="316.3" r="3.75"/><circle cx="1849.7" cy="352.4" r="3.75"/><circle cx="1777.3" cy="325.9" r="3.75"/><circle cx="1844.5" cy="279.2" r="3.75"/><circle cx="1807.2" cy="327.2" r="3.75"/><circle cx="1817.3" cy="311.3" r="3.75"/><circle cx="1769.8" cy="217.4" r="3.75"/><circle cx="1850.9" cy="329.3" r="3.75"/><circle cx="1777.3" cy="178.6" r="3.75"/><circle cx="1786.2" cy="203.1" r="3.75"/><circle cx="1848.6" cy="377.1" r="3.75"/><circle cx="1891.0" cy="270.5" r="3.75"/><circle cx="1728.9" cy="175.4" r="3.75"/><circle cx="1861.5" cy="282.8" r="3.75"/><circle cx="1719.6" cy="205.6" r="3.75"/><circle cx="1733.6" cy="143.3" r="3.75"/><circle cx="1715.0" cy="199.3" r="3.75"/><circle cx="1868.3" cy="196.2" r="3.75"/><circle cx="1777.3" cy="217.0" r="3.75"/><circle cx="1858.4" cy="292.9" r="3.75"/><circle cx="1760.3" cy="226.6" r="3.75"/><circle cx="1780.7" cy="224.3" r="3.75"/><circle cx="1846.9" cy="272.7" r="3.75"/><circle cx="1744.8" cy="214.6" r="3.75"/><circle cx="1798.9" cy="230.2" r="3.75"/><circle cx="1712.6" cy="154.4" r="3.75"/><circle cx="1780.7" cy="339.7" r="3.75"/><circle cx="1735.8" cy="312.0" r="3.75"/><circle cx="1794.9" cy="360.8" r="3.75"/><circle cx="1859.0" cy="298.3" r="3.75"/><circle cx="1745.4" cy="255.3" r="3.75"/><circle cx="1885.1" cy="296.2" r="3.75"/><circle cx="1852.8" cy="179.8" r="3.75"/><circle cx="1827.6" cy="286.3" r="3.75"/><circle cx="1881.9" cy="364.9" r="3.75"/><circle cx="1876.9" cy="178.6" r="3.75"/><circle cx="1851.2" cy="292.9" r="3.75"/><circle cx="1733.1" cy="258.6" r="3.75"/><circle cx="1880.0" cy="327.2" r="3.75"/><circle cx="1807.2" cy="193.4" r="3.75"/><circle cx="1777.3" cy="151.4" r="3.75"/><circle cx="1872.5" cy="305.8" r="3.75"/><circle cx="1836.9" cy="336.7" r="3.75"/><circle cx="1732.5" cy="275.7" r="3.75"/><circle cx="1737.0" cy="148.3" r="3.75"/><circle cx="1807.7" cy="328.8" r="3.75"/><circle cx="1769.8" cy="190.0" r="3.75"/><circle cx="1781.4" cy="312.0" r="3.75"/><circle cx="1738.2" cy="197.2" r="3.75"/><circle cx="1848.5" cy="252.1" r="3.75"/><circle cx="1799.0" cy="173.2" r="3.75"/><circle cx="1834.5" cy="257.9" r="3.75"/><circle cx="1862.9" cy="175.0" r="3.75"/><circle cx="1773.6" cy="249.2" r="3.75"/><circle cx="1908.1" cy="305.8" r="3.75"/><circle cx="1777.3" cy="315.8" r="3.75"/><circle cx="1903.5" cy="228.0" r="3.75"/><circle cx="1759.7" cy="153.8" r="3.75"/><circle cx="1673.5" cy="204.0" r="3.75"/><circle cx="1787.9" cy="312.3" r="3.75"/><circle cx="1809.2" cy="167.4" r="3.75"/><circle cx="1816.1" cy="283.2" r="3.75"/><circle cx="1748.6" cy="236.8" r="3.75"/><circle cx="1762.2" cy="357.8" r="3.75"/><circle cx="1768.4" cy="190.8" r="3.75"/><circle cx="1745.1" cy="292.9" r="3.75"/><circle cx="1767.1" cy="177.5" r="3.75"/><circle cx="1719.3" cy="198.3" r="3.75"/><circle cx="1886.6" cy="315.6" r="3.75"/><circle cx="1893.4" cy="316.1" r="3.75"/><circle cx="1678.4" cy="207.1" r="3.75"/><circle cx="1758.2" cy="331.4" r="3.75"/><circle cx="1812.9" cy="346.0" r="3.75"/><circle cx="1731.5" cy="231.4" r="3.75"/><circle cx="1746.7" cy="286.7" r="3.75"/><circle cx="1839.6" cy="202.1" r="3.75"/><circle cx="1811.6" cy="278.9" r="3.75"/><circle cx="1789.2" cy="241.8" r="3.75"/><circle cx="1763.5" cy="321.5" r="3.75"/><circle cx="1744.3" cy="146.6" r="3.75"/><circle cx="1752.6" cy="157.0" r="3.75"/><circle cx="1706.7" cy="148.1" r="3.75"/><circle cx="1770.9" cy="292.9" r="3.75"/><circle cx="1879.5" cy="263.8" r="3.75"/><circle cx="1725.6" cy="267.4" r="3.75"/><circle cx="1829.0" cy="358.6" r="3.75"/><circle cx="1816.4" cy="352.7" r="3.75"/><circle cx="1816.1" cy="292.9" r="3.75"/><circle cx="1708.1" cy="207.1" r="3.75"/><circle cx="1726.3" cy="251.3" r="3.75"/><circle cx="1830.2" cy="289.7" r="3.75"/><circle cx="1765.9" cy="327.9" r="3.75"/><circle cx="1804.0" cy="276.6" r="3.75"/><circle cx="1749.6" cy="153.2" r="3.75"/><circle cx="1796.4" cy="334.9" r="3.75"/><circle cx="1844.5" cy="351.2" r="3.75"/><circle cx="1832.3" cy="217.2" r="3.75"/><circle cx="1777.3" cy="116.4" r="3.75"/><circle cx="1818.8" cy="312.0" r="3.75"/><circle cx="1847.9" cy="251.0" r="3.75"/><circle cx="1843.2" cy="292.9" r="3.75"/><circle cx="1816.1" cy="367.3" r="3.75"/><circle cx="1733.6" cy="314.8" r="3.75"/><circle cx="1852.0" cy="330.6" r="3.75"/><circle cx="1818.3" cy="272.0" r="3.75"/><circle cx="1773.2" cy="155.7" r="3.75"/><circle cx="1731.6" cy="224.3" r="3.75"/><circle cx="1772.5" cy="161.0" r="3.75"/><circle cx="1726.3" cy="257.8" r="3.75"/><circle cx="1834.2" cy="233.3" r="3.75"/><circle cx="1801.7" cy="251.9" r="3.75"/><circle cx="1724.4" cy="182.9" r="3.75"/><circle cx="1749.5" cy="172.5" r="3.75"/><circle cx="1845.6" cy="209.2" r="3.75"/><circle cx="1870.7" cy="312.7" r="3.75"/><circle cx="1800.7" cy="246.5" r="3.75"/><circle cx="1730.6" cy="266.1" r="3.75"/><circle cx="1837.2" cy="312.3" r="3.75"/><circle cx="1800.7" cy="292.9" r="3.75"/><circle cx="1859.8" cy="284.9" r="3.75"/><circle cx="1842.5" cy="312.8" r="3.75"/><circle cx="1731.5" cy="292.9" r="3.75"/><circle cx="1768.0" cy="254.3" r="3.75"/><circle cx="1739.9" cy="265.5" r="3.75"/><circle cx="1791.7" cy="240.1" r="3.75"/><circle cx="1826.0" cy="296.6" r="3.75"/><circle cx="1724.4" cy="153.8" r="3.75"/><circle cx="1772.3" cy="297.5" r="3.75"/><circle cx="1777.3" cy="212.9" r="3.75"/><circle cx="1834.2" cy="371.2" r="3.75"/><circle cx="1797.0" cy="274.8" r="3.75"/><circle cx="1913.8" cy="223.6" r="3.75"/><circle cx="1857.4" cy="359.4" r="3.75"/><circle cx="1745.1" cy="180.5" r="3.75"/><circle cx="1766.3" cy="229.0" r="3.75"/><circle cx="1762.4" cy="310.0" r="3.75"/><circle cx="1777.3" cy="201.8" r="3.75"/><circle cx="1745.4" cy="134.0" r="3.75"/><circle cx="1731.6" cy="129.0" r="3.75"/><circle cx="1707.2" cy="139.3" r="3.75"/><circle cx="1817.9" cy="210.9" r="3.75"/><circle cx="1795.6" cy="202.1" r="3.75"/><circle cx="1762.4" cy="334.1" r="3.75"/><circle cx="1752.9" cy="278.0" r="3.75"/><circle cx="1789.7" cy="184.3" r="3.75"/><circle cx="1891.0" cy="333.9" r="3.75"/><circle cx="1738.4" cy="175.0" r="3.75"/><circle cx="1796.4" cy="376.9" r="3.75"/><circle cx="1756.5" cy="151.9" r="3.75"/><circle cx="1711.9" cy="151.4" r="3.75"/><circle cx="1723.1" cy="149.1" r="3.75"/><circle cx="1826.5" cy="311.0" r="3.75"/><circle cx="1913.1" cy="273.4" r="3.75"/><circle cx="1753.5" cy="336.5" r="3.75"/><circle cx="1807.2" cy="292.9" r="3.75"/><circle cx="1728.1" cy="283.9" r="3.75"/><circle cx="1737.0" cy="195.4" r="3.75"/><circle cx="1865.4" cy="254.1" r="3.75"/><circle cx="1777.3" cy="179.9" r="3.75"/><circle cx="1772.3" cy="311.4" r="3.75"/><circle cx="1870.7" cy="190.7" r="3.75"/><circle cx="1810.8" cy="297.3" r="3.75"/><circle cx="1777.3" cy="279.2" r="3.75"/><circle cx="1781.1" cy="317.4" r="3.75"/><circle cx="1863.1" cy="283.6" r="3.75"/><circle cx="1781.0" cy="229.0" r="3.75"/><circle cx="1799.3" cy="267.7" r="3.75"/><circle cx="1750.6" cy="282.4" r="3.75"/><circle cx="1855.6" cy="226.5" r="3.75"/><circle cx="1782.1" cy="248.9" r="3.75"/><circle cx="1727.0" cy="345.7" r="3.75"/><circle cx="1749.6" cy="197.6" r="3.75"/><circle cx="1839.6" cy="313.1" r="3.75"/><circle cx="1816.1" cy="364.1" r="3.75"/><circle cx="1727.0" cy="144.5" r="3.75"/><circle cx="1733.1" cy="171.3" r="3.75"/><circle cx="1820.4" cy="157.7" r="3.75"/><circle cx="1851.2" cy="304.9" r="3.75"/><circle cx="1791.0" cy="226.0" r="3.75"/><circle cx="1731.9" cy="339.3" r="3.75"/><circle cx="1727.7" cy="285.9" r="3.75"/><circle cx="1786.2" cy="264.3" r="3.75"/><circle cx="1795.1" cy="362.3" r="3.75"/><circle cx="1747.8" cy="301.9" r="3.75"/><circle cx="1860.3" cy="324.7" r="3.75"/><circle cx="1748.2" cy="312.0" r="3.75"/><circle cx="1783.7" cy="162.8" r="3.75"/><circle cx="1804.0" cy="321.5" r="3.75"/><circle cx="1738.4" cy="203.6" r="3.75"/><circle cx="1686.3" cy="139.0" r="3.75"/><circle cx="1780.7" cy="289.8" r="3.75"/><circle cx="1757.4" cy="292.9" r="3.75"/><circle cx="1777.3" cy="194.4" r="3.75"/><circle cx="1837.1" cy="145.4" r="3.75"/><circle cx="1811.6" cy="313.9" r="3.75"/><circle cx="1870.7" cy="323.5" r="3.75"/><circle cx="1850.4" cy="285.4" r="3.75"/><circle cx="1759.0" cy="158.4" r="3.75"/><circle cx="1746.9" cy="217.1" r="3.75"/><circle cx="1734.9" cy="273.4" r="3.75"/><circle cx="1851.2" cy="273.0" r="3.75"/><circle cx="1773.6" cy="158.4" r="3.75"/><circle cx="1752.6" cy="186.1" r="3.75"/><circle cx="1832.3" cy="279.5" r="3.75"/><circle cx="1831.8" cy="292.9" r="3.75"/><circle cx="1868.5" cy="189.2" r="3.75"/><circle cx="1814.7" cy="331.5" r="3.75"/><circle cx="1777.3" cy="161.8" r="3.75"/><circle cx="1756.5" cy="197.6" r="3.75"/><circle cx="1752.6" cy="237.9" r="3.75"/><circle cx="1805.1" cy="307.5" r="3.75"/><circle cx="1903.8" cy="320.6" r="3.75"/><circle cx="1766.7" cy="292.9" r="3.75"/><circle cx="1850.9" cy="240.9" r="3.75"/><circle cx="1777.3" cy="271.5" r="3.75"/><circle cx="1754.5" cy="272.0" r="3.75"/><circle cx="1777.3" cy="333.7" r="3.75"/><circle cx="1808.4" cy="214.3" r="3.75"/><circle cx="1842.3" cy="292.9" r="3.75"/><circle cx="1808.4" cy="302.4" r="3.75"/><circle cx="1770.4" cy="204.0" r="3.75"/><circle cx="1834.5" cy="306.9" r="3.75"/><circle cx="1755.3" cy="348.4" r="3.75"/><circle cx="1796.4" cy="348.9" r="3.75"/><circle cx="1809.5" cy="251.5" r="3.75"/><circle cx="1781.6" cy="113.4" r="3.75"/><circle cx="1686.9" cy="176.7" r="3.75"/><circle cx="1908.5" cy="234.5" r="3.75"/><circle cx="1760.3" cy="347.5" r="3.75"/><circle cx="1795.6" cy="229.0" r="3.75"/><circle cx="1691.1" cy="174.2" r="3.75"/><circle cx="1777.3" cy="276.8" r="3.75"/><circle cx="1697.2" cy="135.4" r="3.75"/><circle cx="1856.2" cy="342.4" r="3.75"/><circle cx="1772.7" cy="196.7" r="3.75"/><circle cx="1842.9" cy="149.2" r="3.75"/><circle cx="1801.2" cy="165.4" r="3.75"/><circle cx="1837.2" cy="344.7" r="3.75"/><circle cx="1786.2" cy="166.3" r="3.75"/><circle cx="1804.0" cy="201.9" r="3.75"/><circle cx="1824.0" cy="344.3" r="3.75"/><circle cx="1752.6" cy="260.5" r="3.75"/><circle cx="1787.9" cy="205.5" r="3.75"/><circle cx="1793.6" cy="292.9" r="3.75"/><circle cx="1820.4" cy="341.3" r="3.75"/><circle cx="1747.8" cy="130.4" r="3.75"/><circle cx="1839.6" cy="305.1" r="3.75"/><circle cx="1829.2" cy="207.1" r="3.75"/><circle cx="1828.3" cy="256.5" r="3.75"/><circle cx="1754.0" cy="310.8" r="3.75"/><circle cx="1781.3" cy="241.8" r="3.75"/><circle cx="1846.1" cy="225.2" r="3.75"/><circle cx="1784.2" cy="372.3" r="3.75"/><circle cx="1796.4" cy="257.9" r="3.75"/><circle cx="1811.9" cy="327.8" r="3.75"/><circle cx="1788.7" cy="310.4" r="3.75"/><circle cx="1801.2" cy="292.9" r="3.75"/><circle cx="1887.8" cy="296.4" r="3.75"/><circle cx="1908.1" cy="254.3" r="3.75"/><circle cx="1721.8" cy="237.3" r="3.75"/><circle cx="1781.1" cy="324.4" r="3.75"/><circle cx="1728.6" cy="255.6" r="3.75"/><circle cx="1868.5" cy="217.1" r="3.75"/><circle cx="1761.3" cy="175.3" r="3.75"/><circle cx="1734.2" cy="302.8" r="3.75"/><circle cx="1752.6" cy="338.2" r="3.75"/><circle cx="1859.0" cy="319.7" r="3.75"/><circle cx="1819.2" cy="257.9" r="3.75"/><circle cx="1730.6" cy="260.7" r="3.75"/><circle cx="1742.7" cy="197.6" r="3.75"/><circle cx="1755.3" cy="146.6" r="3.75"/><circle cx="1834.8" cy="210.4" r="3.75"/><circle cx="1747.2" cy="160.1" r="3.75"/><circle cx="1712.1" cy="229.1" r="3.75"/><circle cx="1807.2" cy="296.3" r="3.75"/><circle cx="1724.6" cy="200.5" r="3.75"/><circle cx="1719.6" cy="211.8" r="3.75"/><circle cx="1730.6" cy="182.1" r="3.75"/><circle cx="1728.6" cy="155.0" r="3.75"/><circle cx="1759.0" cy="118.0" r="3.75"/><circle cx="1749.3" cy="202.9" r="3.75"/><circle cx="1754.5" cy="150.7" r="3.75"/><circle cx="1777.3" cy="279.4" r="3.75"/><circle cx="1759.5" cy="337.8" r="3.75"/><circle cx="1851.3" cy="354.4" r="3.75"/><circle cx="1777.3" cy="153.0" r="3.75"/><circle cx="1857.4" cy="310.4" r="3.75"/><circle cx="1729.7" cy="292.9" r="3.75"/><circle cx="1899.1" cy="218.3" r="3.75"/><circle cx="1847.9" cy="262.4" r="3.75"/><circle cx="1849.9" cy="307.2" r="3.75"/><circle cx="1822.4" cy="275.2" r="3.75"/><circle cx="1756.5" cy="172.2" r="3.75"/><circle cx="1743.0" cy="114.4" r="3.75"/><circle cx="1760.3" cy="242.2" r="3.75"/><circle cx="1795.4" cy="315.0" r="3.75"/><circle cx="1712.1" cy="209.1" r="3.75"/><circle cx="1741.4" cy="184.1" r="3.75"/><circle cx="1763.6" cy="209.2" r="3.75"/><circle cx="1781.6" cy="169.3" r="3.75"/><circle cx="1730.6" cy="232.9" r="3.75"/><circle cx="1853.4" cy="292.9" r="3.75"/><circle cx="1817.6" cy="363.5" r="3.75"/><circle cx="1798.1" cy="213.5" r="3.75"/><circle cx="1727.0" cy="322.6" r="3.75"/><circle cx="1746.7" cy="190.0" r="3.75"/><circle cx="1824.0" cy="287.5" r="3.75"/><circle cx="1860.8" cy="380.5" r="3.75"/><circle cx="1802.9" cy="299.6" r="3.75"/><circle cx="1900.7" cy="360.8" r="3.75"/><circle cx="1806.0" cy="342.4" r="3.75"/><circle cx="1751.7" cy="155.0" r="3.75"/><circle cx="1742.7" cy="169.0" r="3.75"/><circle cx="1773.0" cy="269.0" r="3.75"/><circle cx="1824.0" cy="319.7" r="3.75"/><circle cx="1807.4" cy="221.0" r="3.75"/><circle cx="1720.1" cy="243.9" r="3.75"/><circle cx="1749.3" cy="267.2" r="3.75"/><circle cx="1791.7" cy="218.1" r="3.75"/><circle cx="1891.8" cy="292.9" r="3.75"/><circle cx="1777.3" cy="243.9" r="3.75"/><circle cx="1898.2" cy="350.1" r="3.75"/><circle cx="1762.9" cy="253.3" r="3.75"/><circle cx="1759.2" cy="276.3" r="3.75"/><circle cx="1802.6" cy="292.9" r="3.75"/><circle cx="1869.0" cy="199.3" r="3.75"/><circle cx="1742.0" cy="153.8" r="3.75"/><circle cx="1745.6" cy="221.7" r="3.75"/><circle cx="1772.3" cy="218.7" r="3.75"/><circle cx="1849.1" cy="288.5" r="3.75"/><circle cx="1777.3" cy="364.9" r="3.75"/><circle cx="1817.6" cy="336.6" r="3.75"/><circle cx="1732.8" cy="252.1" r="3.75"/><circle cx="1752.6" cy="280.0" r="3.75"/><circle cx="1787.1" cy="333.5" r="3.75"/><circle cx="1857.4" cy="215.3" r="3.75"/><circle cx="1781.4" cy="216.7" r="3.75"/><circle cx="1729.5" cy="288.9" r="3.75"/><circle cx="1735.8" cy="143.6" r="3.75"/><circle cx="1727.0" cy="203.9" r="3.75"/><circle cx="1872.8" cy="353.9" r="3.75"/><circle cx="1862.2" cy="343.6" r="3.75"/><circle cx="1728.1" cy="261.3" r="3.75"/><circle cx="1743.8" cy="196.2" r="3.75"/><circle cx="1790.6" cy="335.8" r="3.75"/><circle cx="1759.7" cy="169.9" r="3.75"/><circle cx="1839.6" cy="227.6" r="3.75"/><circle cx="1777.3" cy="222.3" r="3.75"/><circle cx="1736.3" cy="334.7" r="3.75"/><circle cx="1748.2" cy="251.0" r="3.75"/><circle cx="1846.1" cy="292.9" r="3.75"/><circle cx="1777.3" cy="169.6" r="3.75"/><circle cx="1853.0" cy="269.7" r="3.75"/><circle cx="1678.8" cy="249.3" r="3.75"/><circle cx="1868.0" cy="283.1" r="3.75"/><circle cx="1844.9" cy="354.9" r="3.75"/><circle cx="1797.0" cy="333.5" r="3.75"/><circle cx="1777.3" cy="220.0" r="3.75"/><circle cx="1723.9" cy="276.6" r="3.75"/><circle cx="1829.0" cy="292.9" r="3.75"/><circle cx="1770.9" cy="145.0" r="3.75"/><circle cx="1839.6" cy="343.3" r="3.75"/><circle cx="1770.1" cy="184.1" r="3.75"/><circle cx="1811.6" cy="373.4" r="3.75"/><circle cx="1777.3" cy="338.6" r="3.75"/><circle cx="1725.6" cy="282.0" r="3.75"/><circle cx="1777.3" cy="203.7" r="3.75"/><circle cx="1886.6" cy="354.4" r="3.75"/><circle cx="1728.1" cy="324.5" r="3.75"/><circle cx="1872.8" cy="273.8" r="3.75"/><circle cx="1845.6" cy="322.2" r="3.75"/><circle cx="1752.9" cy="196.0" r="3.75"/><circle cx="1839.6" cy="318.3" r="3.75"/><circle cx="1821.8" cy="329.7" r="3.75"/><circle cx="1715.0" cy="258.0" r="3.75"/><circle cx="1712.5" cy="219.4" r="3.75"/><circle cx="1827.6" cy="236.8" r="3.75"/><circle cx="1899.4" cy="349.0" r="3.75"/><circle cx="1823.1" cy="322.0" r="3.75"/><circle cx="1735.1" cy="281.8" r="3.75"/><circle cx="1758.6" cy="164.3" r="3.75"/><circle cx="1845.2" cy="261.7" r="3.75"/><circle cx="1802.0" cy="202.3" r="3.75"/><circle cx="1707.2" cy="289.3" r="3.75"/><circle cx="1693.1" cy="255.9" r="3.75"/><circle cx="1674.4" cy="170.4" r="3.75"/><circle cx="1782.3" cy="223.4" r="3.75"/><circle cx="1832.3" cy="215.6" r="3.75"/><circle cx="1800.7" cy="342.9" r="3.75"/><circle cx="1847.3" cy="384.0" r="3.75"/><circle cx="1766.3" cy="272.7" r="3.75"/><circle cx="1795.1" cy="272.5" r="3.75"/><circle cx="1773.5" cy="219.4" r="3.75"/><circle cx="1723.4" cy="182.4" r="3.75"/><circle cx="1792.2" cy="227.7" r="3.75"/><circle cx="1807.7" cy="336.8" r="3.75"/><circle cx="1797.2" cy="150.6" r="3.75"/><circle cx="1777.3" cy="158.7" r="3.75"/><circle cx="1807.2" cy="337.5" r="3.75"/><circle cx="1814.7" cy="382.9" r="3.75"/><circle cx="1825.3" cy="292.9" r="3.75"/><circle cx="1788.3" cy="192.0" r="3.75"/><circle cx="1777.3" cy="148.8" r="3.75"/><circle cx="1847.3" cy="303.6" r="3.75"/><circle cx="1660.0" cy="217.4" r="3.75"/><circle cx="1668.6" cy="148.0" r="3.75"/><circle cx="1700.0" cy="109.4" r="3.75"/><circle cx="1705.6" cy="107.7" r="3.75"/><circle cx="1714.9" cy="107.2" r="3.75"/><circle cx="1721.3" cy="109.4" r="3.75"/><circle cx="1726.5" cy="106.0" r="3.75"/><circle cx="1729.5" cy="109.4" r="3.75"/><circle cx="1734.0" cy="108.2" r="3.75"/><circle cx="1739.2" cy="106.0" r="3.75"/><circle cx="1745.2" cy="109.4" r="3.75"/><circle cx="1750.0" cy="106.8" r="3.75"/><circle cx="1760.9" cy="104.2" r="3.75"/><circle cx="1762.7" cy="106.0" r="3.75"/><circle cx="1777.3" cy="103.4" r="3.75"/><circle cx="1728.7" cy="121.4" r="3.75"/><circle cx="1734.3" cy="121.4" r="3.75"/><circle cx="1746.3" cy="121.4" r="3.75"/>
</g>
<path d="M1571.5 60.75V416.75M1570 415.25H1983.75" stroke="#000" stroke-width="3" fill="none"/>
<path d="M1590.5 415.25V424.05" stroke="#000" stroke-width="3"/>
<path d="M1683.9 415.25V424.05" stroke="#000" stroke-width="3"/>
<path d="M1777.3 415.25V424.05" stroke="#000" stroke-width="3"/>
<path d="M1870.7 415.25V424.05" stroke="#000" stroke-width="3"/>
<path d="M1964.1 415.25V424.05" stroke="#000" stroke-width="3"/>
<path d="M1562.3 378.65H1571.5" stroke="#000" stroke-width="3"/>
<path d="M1562.3 292.9H1571.5" stroke="#000" stroke-width="3"/>
<path d="M1562.3 207.15H1571.5" stroke="#000" stroke-width="3"/>
<path d="M1562.3 121.4H1571.5" stroke="#000" stroke-width="3"/>
<text x="1571.4" y="34.8" font-size="41" font-weight="bold">c</text>
</g>
<g id="panel-d">
<g fill="#6dbde8">
<circle cx="1302.4" cy="672.2" r="3.75"/><circle cx="1302.0" cy="728.4" r="3.75"/><circle cx="1354.0" cy="762.8" r="3.75"/><circle cx="1352.8" cy="675.0" r="3.75"/><circle cx="1288.1" cy="693.9" r="3.75"/><circle cx="1313.9" cy="749.4" r="3.75"/><circle cx="1279.5" cy="677.9" r="3.75"/><circle cx="1374.4" cy="694.3" r="3.75"/><circle cx="1277.1" cy="769.6" r="3.75"/><circle cx="1263.6" cy="640.6" r="3.75"/><circle cx="1457.6" cy="732.9" r="3.75"/><circle cx="1297.7" cy="674.4" r="3.75"/><circle cx="1325.8" cy="674.6" r="3.75"/><circle cx="1426.3" cy="746.3" r="3.75"/><circle cx="1317.5" cy="726.7" r="3.75"/><circle cx="1309.6" cy="588.4" r="3.75"/><circle cx="1310.5" cy="765.6" r="3.75"/><circle cx="1331.6" cy="739.7" r="3.75"/><circle cx="1410.7" cy="824.9" r="3.75"/><circle cx="1296.1" cy="640.8" r="3.75"/><circle cx="1334.1" cy="757.4" r="3.75"/><circle cx="1311.2" cy="650.1" r="3.75"/><circle cx="1371.1" cy="778.7" r="3.75"/><circle cx="1263.6" cy="591.1" r="3.75"/><circle cx="1324.6" cy="649.1" r="3.75"/><circle cx="1387.0" cy="653.6" r="3.75"/><circle cx="1321.0" cy="740.4" r="3.75"/><circle cx="1361.3" cy="762.8" r="3.75"/><circle cx="1395.1" cy="772.1" r="3.75"/><circle cx="1328.0" cy="768.5" r="3.75"/><circle cx="1377.9" cy="708.4" r="3.75"/><circle cx="1297.3" cy="821.1" r="3.75"/><circle cx="1380.3" cy="711.8" r="3.75"/><circle cx="1258.8" cy="646.5" r="3.75"/><circle cx="1369.8" cy="760.6" r="3.75"/><circle cx="1352.2" cy="668.4" r="3.75"/><circle cx="1277.3" cy="588.8" r="3.75"/><circle cx="1327.5" cy="814.4" r="3.75"/><circle cx="1295.8" cy="656.7" r="3.75"/><circle cx="1358.4" cy="764.6" r="3.75"/><circle cx="1353.6" cy="723.3" r="3.75"/><circle cx="1385.9" cy="640.9" r="3.75"/><circle cx="1305.5" cy="592.2" r="3.75"/><circle cx="1331.6" cy="629.7" r="3.75"/><circle cx="1425.7" cy="814.6" r="3.75"/><circle cx="1358.4" cy="640.8" r="3.75"/><circle cx="1288.1" cy="754.4" r="3.75"/><circle cx="1328.2" cy="713.1" r="3.75"/><circle cx="1364.2" cy="793.4" r="3.75"/><circle cx="1383.3" cy="613.1" r="3.75"/><circle cx="1321.0" cy="776.7" r="3.75"/><circle cx="1328.8" cy="785.1" r="3.75"/><circle cx="1316.3" cy="674.6" r="3.75"/><circle cx="1268.7" cy="708.2" r="3.75"/><circle cx="1307.2" cy="787.5" r="3.75"/><circle cx="1367.8" cy="745.1" r="3.75"/><circle cx="1356.8" cy="731.2" r="3.75"/><circle cx="1276.9" cy="724.4" r="3.75"/><circle cx="1244.1" cy="746.0" r="3.75"/><circle cx="1286.8" cy="668.9" r="3.75"/><circle cx="1380.8" cy="625.9" r="3.75"/><circle cx="1261.1" cy="652.3" r="3.75"/><circle cx="1383.3" cy="800.2" r="3.75"/><circle cx="1341.8" cy="704.9" r="3.75"/><circle cx="1290.5" cy="715.1" r="3.75"/><circle cx="1392.2" cy="749.4" r="3.75"/><circle cx="1363.5" cy="741.6" r="3.75"/><circle cx="1309.4" cy="620.8" r="3.75"/><circle cx="1362.6" cy="663.6" r="3.75"/><circle cx="1330.4" cy="689.4" r="3.75"/><circle cx="1289.1" cy="682.5" r="3.75"/><circle cx="1389.4" cy="791.2" r="3.75"/><circle cx="1240.0" cy="639.4" r="3.75"/><circle cx="1292.3" cy="726.3" r="3.75"/><circle cx="1333.5" cy="730.3" r="3.75"/><circle cx="1244.6" cy="690.9" r="3.75"/><circle cx="1329.9" cy="782.1" r="3.75"/><circle cx="1327.1" cy="688.6" r="3.75"/><circle cx="1369.5" cy="701.8" r="3.75"/><circle cx="1269.4" cy="804.1" r="3.75"/><circle cx="1385.6" cy="733.8" r="3.75"/><circle cx="1332.5" cy="626.9" r="3.75"/><circle cx="1373.4" cy="756.3" r="3.75"/><circle cx="1321.0" cy="736.7" r="3.75"/><circle cx="1383.3" cy="756.6" r="3.75"/><circle cx="1312.9" cy="697.2" r="3.75"/><circle cx="1358.4" cy="630.9" r="3.75"/><circle cx="1311.7" cy="672.2" r="3.75"/><circle cx="1258.8" cy="702.6" r="3.75"/><circle cx="1404.5" cy="818.7" r="3.75"/><circle cx="1296.7" cy="678.6" r="3.75"/><circle cx="1290.5" cy="718.2" r="3.75"/><circle cx="1308.6" cy="711.3" r="3.75"/><circle cx="1304.1" cy="772.8" r="3.75"/><circle cx="1346.7" cy="709.0" r="3.75"/><circle cx="1430.6" cy="702.1" r="3.75"/><circle cx="1325.8" cy="679.0" r="3.75"/><circle cx="1308.6" cy="640.8" r="3.75"/><circle cx="1330.9" cy="794.5" r="3.75"/><circle cx="1366.9" cy="671.7" r="3.75"/><circle cx="1310.1" cy="663.6" r="3.75"/><circle cx="1340.7" cy="785.5" r="3.75"/><circle cx="1344.4" cy="649.4" r="3.75"/><circle cx="1360.0" cy="806.6" r="3.75"/><circle cx="1365.2" cy="718.2" r="3.75"/><circle cx="1370.6" cy="647.9" r="3.75"/><circle cx="1292.0" cy="646.5" r="3.75"/><circle cx="1332.0" cy="621.6" r="3.75"/><circle cx="1268.7" cy="814.6" r="3.75"/><circle cx="1363.5" cy="710.4" r="3.75"/><circle cx="1313.9" cy="756.0" r="3.75"/><circle cx="1381.0" cy="840.0" r="3.75"/><circle cx="1416.4" cy="714.4" r="3.75"/><circle cx="1321.0" cy="749.4" r="3.75"/><circle cx="1313.9" cy="696.6" r="3.75"/><circle cx="1325.6" cy="762.0" r="3.75"/><circle cx="1364.8" cy="753.1" r="3.75"/><circle cx="1289.1" cy="586.3" r="3.75"/><circle cx="1349.8" cy="690.0" r="3.75"/><circle cx="1369.8" cy="682.3" r="3.75"/><circle cx="1306.1" cy="643.1" r="3.75"/><circle cx="1399.9" cy="703.7" r="3.75"/><circle cx="1321.0" cy="752.8" r="3.75"/><circle cx="1388.3" cy="701.4" r="3.75"/><circle cx="1326.1" cy="596.4" r="3.75"/><circle cx="1262.1" cy="600.5" r="3.75"/><circle cx="1268.2" cy="717.0" r="3.75"/><circle cx="1286.8" cy="602.4" r="3.75"/><circle cx="1324.6" cy="772.1" r="3.75"/><circle cx="1314.1" cy="720.8" r="3.75"/><circle cx="1366.1" cy="767.1" r="3.75"/><circle cx="1262.4" cy="675.9" r="3.75"/><circle cx="1405.1" cy="822.3" r="3.75"/><circle cx="1356.8" cy="588.8" r="3.75"/><circle cx="1349.4" cy="645.5" r="3.75"/><circle cx="1315.4" cy="635.1" r="3.75"/><circle cx="1295.8" cy="615.0" r="3.75"/><circle cx="1321.0" cy="673.5" r="3.75"/><circle cx="1346.7" cy="719.1" r="3.75"/><circle cx="1356.4" cy="601.1" r="3.75"/><circle cx="1418.2" cy="646.5" r="3.75"/><circle cx="1416.4" cy="675.9" r="3.75"/><circle cx="1305.9" cy="758.7" r="3.75"/><circle cx="1246.3" cy="787.1" r="3.75"/><circle cx="1358.4" cy="602.4" r="3.75"/><circle cx="1287.5" cy="608.7" r="3.75"/><circle cx="1317.5" cy="713.8" r="3.75"/><circle cx="1372.7" cy="712.9" r="3.75"/><circle cx="1373.9" cy="772.1" r="3.75"/><circle cx="1333.0" cy="687.4" r="3.75"/><circle cx="1292.0" cy="650.3" r="3.75"/><circle cx="1265.7" cy="635.1" r="3.75"/><circle cx="1325.0" cy="694.7" r="3.75"/><circle cx="1372.0" cy="652.7" r="3.75"/><circle cx="1409.0" cy="774.6" r="3.75"/><circle cx="1429.7" cy="693.6" r="3.75"/><circle cx="1350.9" cy="763.1" r="3.75"/><circle cx="1408.7" cy="703.9" r="3.75"/><circle cx="1427.8" cy="745.3" r="3.75"/><circle cx="1429.2" cy="690.7" r="3.75"/><circle cx="1266.1" cy="635.1" r="3.75"/><circle cx="1435.6" cy="677.5" r="3.75"/><circle cx="1351.6" cy="743.2" r="3.75"/><circle cx="1380.7" cy="712.9" r="3.75"/><circle cx="1313.9" cy="676.8" r="3.75"/><circle cx="1378.8" cy="777.5" r="3.75"/><circle cx="1351.5" cy="693.6" r="3.75"/><circle cx="1346.5" cy="648.1" r="3.75"/><circle cx="1285.3" cy="782.2" r="3.75"/><circle cx="1452.9" cy="719.1" r="3.75"/><circle cx="1275.4" cy="730.3" r="3.75"/><circle cx="1349.4" cy="744.2" r="3.75"/><circle cx="1371.1" cy="628.1" r="3.75"/><circle cx="1352.8" cy="645.8" r="3.75"/><circle cx="1356.6" cy="590.1" r="3.75"/><circle cx="1380.7" cy="716.6" r="3.75"/><circle cx="1364.2" cy="626.3" r="3.75"/><circle cx="1329.2" cy="741.9" r="3.75"/><circle cx="1291.2" cy="673.9" r="3.75"/><circle cx="1355.6" cy="647.8" r="3.75"/><circle cx="1379.7" cy="700.4" r="3.75"/><circle cx="1321.0" cy="830.1" r="3.75"/><circle cx="1310.1" cy="598.1" r="3.75"/><circle cx="1280.0" cy="745.2" r="3.75"/><circle cx="1390.2" cy="708.1" r="3.75"/><circle cx="1368.7" cy="662.0" r="3.75"/><circle cx="1321.0" cy="638.6" r="3.75"/><circle cx="1301.2" cy="720.2" r="3.75"/><circle cx="1317.4" cy="709.0" r="3.75"/><circle cx="1417.0" cy="647.4" r="3.75"/><circle cx="1317.5" cy="736.5" r="3.75"/><circle cx="1293.0" cy="676.5" r="3.75"/><circle cx="1303.4" cy="775.3" r="3.75"/><circle cx="1311.7" cy="749.4" r="3.75"/><circle cx="1294.4" cy="607.3" r="3.75"/><circle cx="1383.3" cy="759.5" r="3.75"/><circle cx="1335.4" cy="784.6" r="3.75"/><circle cx="1297.7" cy="786.9" r="3.75"/><circle cx="1328.5" cy="691.1" r="3.75"/><circle cx="1255.4" cy="754.0" r="3.75"/><circle cx="1297.7" cy="703.0" r="3.75"/><circle cx="1430.0" cy="713.7" r="3.75"/><circle cx="1383.3" cy="684.6" r="3.75"/><circle cx="1394.2" cy="727.0" r="3.75"/><circle cx="1367.8" cy="803.0" r="3.75"/><circle cx="1290.9" cy="738.3" r="3.75"/><circle cx="1392.9" cy="635.1" r="3.75"/><circle cx="1306.1" cy="763.1" r="3.75"/><circle cx="1380.8" cy="735.7" r="3.75"/><circle cx="1321.0" cy="718.2" r="3.75"/><circle cx="1362.6" cy="806.6" r="3.75"/><circle cx="1316.3" cy="833.0" r="3.75"/><circle cx="1401.1" cy="734.7" r="3.75"/><circle cx="1301.7" cy="832.2" r="3.75"/><circle cx="1363.5" cy="761.1" r="3.75"/><circle cx="1255.1" cy="668.7" r="3.75"/><circle cx="1403.2" cy="694.5" r="3.75"/><circle cx="1270.1" cy="752.5" r="3.75"/><circle cx="1377.1" cy="650.8" r="3.75"/><circle cx="1287.1" cy="690.9" r="3.75"/><circle cx="1279.5" cy="622.4" r="3.75"/><circle cx="1271.9" cy="767.5" r="3.75"/><circle cx="1341.8" cy="685.9" r="3.75"/><circle cx="1449.2" cy="692.2" r="3.75"/><circle cx="1289.9" cy="663.6" r="3.75"/><circle cx="1350.5" cy="772.0" r="3.75"/><circle cx="1219.2" cy="613.0" r="3.75"/><circle cx="1282.1" cy="710.1" r="3.75"/><circle cx="1273.0" cy="602.4" r="3.75"/><circle cx="1299.5" cy="666.9" r="3.75"/><circle cx="1314.1" cy="768.5" r="3.75"/><circle cx="1290.5" cy="783.7" r="3.75"/><circle cx="1380.0" cy="618.5" r="3.75"/><circle cx="1408.7" cy="661.9" r="3.75"/><circle cx="1352.8" cy="665.3" r="3.75"/><circle cx="1383.3" cy="744.6" r="3.75"/><circle cx="1304.1" cy="800.1" r="3.75"/><circle cx="1326.4" cy="783.7" r="3.75"/><circle cx="1373.9" cy="849.7" r="3.75"/><circle cx="1266.8" cy="721.7" r="3.75"/><circle cx="1411.8" cy="773.9" r="3.75"/><circle cx="1265.7" cy="606.5" r="3.75"/><circle cx="1299.1" cy="688.9" r="3.75"/><circle cx="1294.4" cy="598.3" r="3.75"/><circle cx="1357.0" cy="660.4" r="3.75"/><circle cx="1310.7" cy="630.3" r="3.75"/><circle cx="1366.7" cy="604.6" r="3.75"/><circle cx="1343.0" cy="709.0" r="3.75"/><circle cx="1347.7" cy="791.4" r="3.75"/><circle cx="1418.2" cy="811.1" r="3.75"/><circle cx="1222.7" cy="605.0" r="3.75"/><circle cx="1224.8" cy="640.3" r="3.75"/><circle cx="1302.4" cy="659.4" r="3.75"/><circle cx="1370.6" cy="696.9" r="3.75"/><circle cx="1309.6" cy="686.4" r="3.75"/><circle cx="1360.0" cy="770.8" r="3.75"/><circle cx="1373.4" cy="821.4" r="3.75"/><circle cx="1356.4" cy="717.0" r="3.75"/><circle cx="1321.0" cy="732.2" r="3.75"/><circle cx="1365.2" cy="596.6" r="3.75"/><circle cx="1420.7" cy="749.4" r="3.75"/><circle cx="1286.0" cy="722.6" r="3.75"/><circle cx="1297.7" cy="688.7" r="3.75"/><circle cx="1381.0" cy="804.4" r="3.75"/><circle cx="1321.0" cy="702.6" r="3.75"/><circle cx="1373.7" cy="731.8" r="3.75"/><circle cx="1267.7" cy="765.7" r="3.75"/><circle cx="1314.1" cy="832.0" r="3.75"/><circle cx="1310.1" cy="651.9" r="3.75"/><circle cx="1365.2" cy="606.0" r="3.75"/><circle cx="1321.0" cy="745.8" r="3.75"/><circle cx="1342.6" cy="726.3" r="3.75"/><circle cx="1321.0" cy="600.1" r="3.75"/><circle cx="1299.1" cy="603.1" r="3.75"/><circle cx="1364.2" cy="841.8" r="3.75"/><circle cx="1324.9" cy="766.9" r="3.75"/><circle cx="1317.7" cy="755.6" r="3.75"/><circle cx="1433.1" cy="696.4" r="3.75"/><circle cx="1332.0" cy="756.1" r="3.75"/><circle cx="1289.1" cy="690.8" r="3.75"/><circle cx="1362.6" cy="711.3" r="3.75"/><circle cx="1389.4" cy="711.8" r="3.75"/><circle cx="1462.3" cy="741.0" r="3.75"/><circle cx="1326.1" cy="842.1" r="3.75"/><circle cx="1282.3" cy="584.4" r="3.75"/><circle cx="1311.2" cy="596.0" r="3.75"/><circle cx="1365.5" cy="643.2" r="3.75"/><circle cx="1388.0" cy="739.7" r="3.75"/><circle cx="1292.0" cy="677.0" r="3.75"/><circle cx="1371.1" cy="837.2" r="3.75"/><circle cx="1360.2" cy="833.2" r="3.75"/><circle cx="1424.0" cy="647.9" r="3.75"/><circle cx="1354.0" cy="621.6" r="3.75"/><circle cx="1296.4" cy="742.9" r="3.75"/><circle cx="1417.7" cy="648.9" r="3.75"/><circle cx="1298.3" cy="653.2" r="3.75"/><circle cx="1341.8" cy="744.6" r="3.75"/><circle cx="1358.4" cy="776.8" r="3.75"/><circle cx="1340.9" cy="742.1" r="3.75"/><circle cx="1309.1" cy="658.2" r="3.75"/><circle cx="1317.5" cy="707.3" r="3.75"/><circle cx="1389.0" cy="652.0" r="3.75"/><circle cx="1285.1" cy="634.0" r="3.75"/><circle cx="1274.3" cy="697.9" r="3.75"/><circle cx="1435.0" cy="707.6" r="3.75"/><circle cx="1410.0" cy="692.2" r="3.75"/><circle cx="1343.8" cy="820.5" r="3.75"/><circle cx="1398.0" cy="695.6" r="3.75"/><circle cx="1371.3" cy="782.4" r="3.75"/><circle cx="1355.6" cy="774.8" r="3.75"/><circle cx="1373.7" cy="789.0" r="3.75"/><circle cx="1368.8" cy="669.6" r="3.75"/><circle cx="1341.8" cy="689.0" r="3.75"/><circle cx="1288.1" cy="648.5" r="3.75"/><circle cx="1369.1" cy="685.7" r="3.75"/><circle cx="1349.8" cy="732.9" r="3.75"/><circle cx="1410.0" cy="733.1" r="3.75"/><circle cx="1293.2" cy="796.8" r="3.75"/><circle cx="1286.5" cy="612.8" r="3.75"/><circle cx="1324.7" cy="702.3" r="3.75"/><circle cx="1258.8" cy="743.1" r="3.75"/><circle cx="1340.7" cy="835.1" r="3.75"/><circle cx="1363.2" cy="716.2" r="3.75"/><circle cx="1316.3" cy="745.0" r="3.75"/><circle cx="1275.4" cy="673.2" r="3.75"/><circle cx="1273.0" cy="788.6" r="3.75"/><circle cx="1348.7" cy="616.0" r="3.75"/><circle cx="1308.6" cy="715.1" r="3.75"/><circle cx="1445.6" cy="767.3" r="3.75"/><circle cx="1317.1" cy="837.0" r="3.75"/><circle cx="1263.3" cy="705.8" r="3.75"/><circle cx="1297.3" cy="634.0" r="3.75"/><circle cx="1345.4" cy="652.5" r="3.75"/><circle cx="1348.7" cy="708.1" r="3.75"/><circle cx="1361.3" cy="783.0" r="3.75"/><circle cx="1321.0" cy="726.3" r="3.75"/><circle cx="1417.9" cy="650.9" r="3.75"/><circle cx="1271.9" cy="812.6" r="3.75"/><circle cx="1424.0" cy="710.9" r="3.75"/><circle cx="1301.4" cy="781.0" r="3.75"/><circle cx="1338.0" cy="777.5" r="3.75"/><circle cx="1292.3" cy="670.3" r="3.75"/><circle cx="1334.4" cy="712.6" r="3.75"/><circle cx="1329.2" cy="682.3" r="3.75"/><circle cx="1280.4" cy="615.2" r="3.75"/><circle cx="1433.1" cy="701.4" r="3.75"/><circle cx="1414.5" cy="627.4" r="3.75"/><circle cx="1285.1" cy="683.4" r="3.75"/><circle cx="1293.4" cy="631.9" r="3.75"/><circle cx="1321.0" cy="616.9" r="3.75"/><circle cx="1336.0" cy="722.0" r="3.75"/><circle cx="1343.5" cy="591.6" r="3.75"/><circle cx="1349.1" cy="706.5" r="3.75"/><circle cx="1377.9" cy="730.8" r="3.75"/><circle cx="1295.4" cy="662.0" r="3.75"/><circle cx="1344.8" cy="752.5" r="3.75"/><circle cx="1303.3" cy="769.8" r="3.75"/><circle cx="1256.5" cy="655.8" r="3.75"/><circle cx="1342.6" cy="719.7" r="3.75"/><circle cx="1311.7" cy="758.0" r="3.75"/><circle cx="1408.2" cy="652.2" r="3.75"/><circle cx="1370.2" cy="614.0" r="3.75"/><circle cx="1301.4" cy="654.6" r="3.75"/><circle cx="1347.7" cy="675.9" r="3.75"/><circle cx="1447.0" cy="753.4" r="3.75"/><circle cx="1271.5" cy="675.9" r="3.75"/><circle cx="1316.5" cy="707.6" r="3.75"/><circle cx="1393.5" cy="623.4" r="3.75"/><circle cx="1395.8" cy="759.7" r="3.75"/><circle cx="1293.4" cy="720.8" r="3.75"/><circle cx="1336.2" cy="740.1" r="3.75"/><circle cx="1387.8" cy="761.6" r="3.75"/><circle cx="1349.1" cy="680.8" r="3.75"/><circle cx="1276.0" cy="625.2" r="3.75"/><circle cx="1300.3" cy="650.3" r="3.75"/><circle cx="1365.0" cy="683.8" r="3.75"/><circle cx="1332.7" cy="669.0" r="3.75"/><circle cx="1437.4" cy="671.7" r="3.75"/><circle cx="1293.2" cy="764.0" r="3.75"/><circle cx="1299.5" cy="627.4" r="3.75"/><circle cx="1272.3" cy="741.9" r="3.75"/><circle cx="1394.2" cy="693.5" r="3.75"/><circle cx="1310.1" cy="618.3" r="3.75"/><circle cx="1295.4" cy="638.4" r="3.75"/><circle cx="1389.4" cy="741.0" r="3.75"/><circle cx="1302.7" cy="675.4" r="3.75"/><circle cx="1313.9" cy="643.9" r="3.75"/><circle cx="1371.3" cy="822.0" r="3.75"/><circle cx="1317.1" cy="643.6" r="3.75"/><circle cx="1383.3" cy="657.9" r="3.75"/><circle cx="1289.9" cy="611.2" r="3.75"/><circle cx="1373.4" cy="770.0" r="3.75"/><circle cx="1425.7" cy="708.2" r="3.75"/><circle cx="1404.5" cy="650.9" r="3.75"/><circle cx="1344.8" cy="609.1" r="3.75"/><circle cx="1311.7" cy="625.1" r="3.75"/><circle cx="1380.8" cy="697.9" r="3.75"/><circle cx="1336.6" cy="595.8" r="3.75"/><circle cx="1280.0" cy="623.9" r="3.75"/><circle cx="1360.0" cy="710.1" r="3.75"/><circle cx="1348.9" cy="727.5" r="3.75"/><circle cx="1364.2" cy="650.5" r="3.75"/><circle cx="1325.0" cy="665.5" r="3.75"/><circle cx="1346.5" cy="757.2" r="3.75"/><circle cx="1383.3" cy="783.7" r="3.75"/><circle cx="1402.1" cy="797.9" r="3.75"/><circle cx="1422.4" cy="617.1" r="3.75"/><circle cx="1344.4" cy="724.4" r="3.75"/><circle cx="1317.1" cy="614.4" r="3.75"/><circle cx="1277.9" cy="812.1" r="3.75"/><circle cx="1325.6" cy="711.8" r="3.75"/><circle cx="1300.3" cy="722.7" r="3.75"/><circle cx="1361.1" cy="602.4" r="3.75"/><circle cx="1307.7" cy="749.4" r="3.75"/><circle cx="1365.0" cy="734.3" r="3.75"/><circle cx="1321.0" cy="723.0" r="3.75"/><circle cx="1379.7" cy="695.5" r="3.75"/><circle cx="1324.4" cy="659.0" r="3.75"/><circle cx="1353.3" cy="601.5" r="3.75"/><circle cx="1329.5" cy="585.7" r="3.75"/><circle cx="1373.4" cy="680.8" r="3.75"/><circle cx="1354.6" cy="613.1" r="3.75"/><circle cx="1321.0" cy="618.5" r="3.75"/><circle cx="1372.7" cy="643.6" r="3.75"/><circle cx="1317.5" cy="658.8" r="3.75"/><circle cx="1377.1" cy="706.5" r="3.75"/><circle cx="1227.7" cy="645.3" r="3.75"/><circle cx="1258.8" cy="604.3" r="3.75"/><circle cx="1333.5" cy="821.8" r="3.75"/><circle cx="1397.2" cy="730.3" r="3.75"/><circle cx="1321.0" cy="711.9" r="3.75"/><circle cx="1412.3" cy="849.1" r="3.75"/><circle cx="1338.0" cy="783.7" r="3.75"/><circle cx="1342.8" cy="829.2" r="3.75"/><circle cx="1402.8" cy="685.1" r="3.75"/><circle cx="1276.0" cy="607.5" r="3.75"/><circle cx="1358.4" cy="668.3" r="3.75"/><circle cx="1348.9" cy="785.9" r="3.75"/><circle cx="1350.9" cy="605.3" r="3.75"/><circle cx="1337.1" cy="671.0" r="3.75"/><circle cx="1305.9" cy="717.0" r="3.75"/><circle cx="1390.2" cy="682.7" r="3.75"/><circle cx="1292.0" cy="673.2" r="3.75"/><circle cx="1431.7" cy="704.9" r="3.75"/><circle cx="1310.9" cy="727.6" r="3.75"/><circle cx="1372.0" cy="746.3" r="3.75"/><circle cx="1346.5" cy="768.9" r="3.75"/><circle cx="1392.2" cy="704.5" r="3.75"/><circle cx="1277.1" cy="693.9" r="3.75"/><circle cx="1373.9" cy="636.1" r="3.75"/><circle cx="1325.6" cy="628.1" r="3.75"/><circle cx="1383.3" cy="784.6" r="3.75"/><circle cx="1431.4" cy="636.4" r="3.75"/><circle cx="1361.7" cy="756.9" r="3.75"/><circle cx="1316.9" cy="627.4" r="3.75"/><circle cx="1356.4" cy="684.5" r="3.75"/><circle cx="1389.9" cy="758.4" r="3.75"/><circle cx="1302.7" cy="789.8" r="3.75"/><circle cx="1380.3" cy="703.4" r="3.75"/><circle cx="1306.1" cy="653.4" r="3.75"/><circle cx="1347.7" cy="782.1" r="3.75"/><circle cx="1312.6" cy="659.8" r="3.75"/><circle cx="1263.6" cy="789.0" r="3.75"/><circle cx="1305.5" cy="699.4" r="3.75"/><circle cx="1298.3" cy="741.0" r="3.75"/><circle cx="1283.7" cy="652.2" r="3.75"/><circle cx="1362.6" cy="597.0" r="3.75"/><circle cx="1385.7" cy="690.0" r="3.75"/><circle cx="1363.0" cy="742.4" r="3.75"/><circle cx="1325.4" cy="661.7" r="3.75"/><circle cx="1369.5" cy="797.0" r="3.75"/><circle cx="1346.0" cy="675.1" r="3.75"/><circle cx="1321.0" cy="667.9" r="3.75"/><circle cx="1380.8" cy="653.4" r="3.75"/><circle cx="1383.3" cy="816.7" r="3.75"/><circle cx="1340.1" cy="794.9" r="3.75"/><circle cx="1273.0" cy="671.0" r="3.75"/><circle cx="1401.1" cy="798.4" r="3.75"/><circle cx="1278.6" cy="683.1" r="3.75"/><circle cx="1330.4" cy="835.1" r="3.75"/><circle cx="1306.7" cy="736.2" r="3.75"/><circle cx="1292.0" cy="654.1" r="3.75"/><circle cx="1383.3" cy="685.5" r="3.75"/><circle cx="1308.0" cy="661.7" r="3.75"/><circle cx="1321.0" cy="708.6" r="3.75"/><circle cx="1331.4" cy="644.6" r="3.75"/><circle cx="1312.2" cy="704.5" r="3.75"/><circle cx="1327.1" cy="788.1" r="3.75"/><circle cx="1315.4" cy="770.2" r="3.75"/><circle cx="1376.6" cy="758.7" r="3.75"/><circle cx="1302.4" cy="676.5" r="3.75"/><circle cx="1299.1" cy="764.5" r="3.75"/><circle cx="1355.3" cy="759.9" r="3.75"/><circle cx="1348.7" cy="771.6" r="3.75"/><circle cx="1308.6" cy="726.5" r="3.75"/><circle cx="1358.4" cy="736.9" r="3.75"/><circle cx="1325.0" cy="661.8" r="3.75"/><circle cx="1366.9" cy="616.7" r="3.75"/><circle cx="1328.0" cy="822.4" r="3.75"/><circle cx="1377.5" cy="729.5" r="3.75"/><circle cx="1315.7" cy="622.0" r="3.75"/><circle cx="1383.3" cy="749.4" r="3.75"/><circle cx="1341.8" cy="631.9" r="3.75"/><circle cx="1355.3" cy="693.4" r="3.75"/><circle cx="1376.4" cy="597.0" r="3.75"/><circle cx="1340.7" cy="690.7" r="3.75"/><circle cx="1317.2" cy="742.4" r="3.75"/><circle cx="1369.8" cy="652.5" r="3.75"/><circle cx="1338.8" cy="590.1" r="3.75"/><circle cx="1385.6" cy="640.3" r="3.75"/><circle cx="1332.5" cy="766.9" r="3.75"/><circle cx="1359.8" cy="700.9" r="3.75"/><circle cx="1418.9" cy="753.5" r="3.75"/><circle cx="1450.4" cy="714.2" r="3.75"/><circle cx="1405.3" cy="783.0" r="3.75"/><circle cx="1356.8" cy="669.1" r="3.75"/><circle cx="1372.9" cy="716.1" r="3.75"/><circle cx="1410.4" cy="712.1" r="3.75"/><circle cx="1312.6" cy="729.9" r="3.75"/><circle cx="1288.1" cy="668.7" r="3.75"/><circle cx="1410.0" cy="769.8" r="3.75"/><circle cx="1289.9" cy="774.4" r="3.75"/><circle cx="1457.4" cy="689.1" r="3.75"/><circle cx="1414.5" cy="726.3" r="3.75"/><circle cx="1399.2" cy="702.6" r="3.75"/><circle cx="1306.1" cy="770.0" r="3.75"/><circle cx="1249.9" cy="749.4" r="3.75"/><circle cx="1327.1" cy="638.7" r="3.75"/><circle cx="1285.7" cy="666.0" r="3.75"/><circle cx="1402.3" cy="630.1" r="3.75"/><circle cx="1348.9" cy="760.3" r="3.75"/><circle cx="1321.0" cy="708.2" r="3.75"/><circle cx="1295.8" cy="781.8" r="3.75"/><circle cx="1399.2" cy="677.7" r="3.75"/><circle cx="1315.4" cy="739.0" r="3.75"/><circle cx="1350.1" cy="604.6" r="3.75"/><circle cx="1414.5" cy="694.3" r="3.75"/><circle cx="1385.6" cy="708.9" r="3.75"/><circle cx="1311.2" cy="677.2" r="3.75"/><circle cx="1352.2" cy="703.0" r="3.75"/><circle cx="1298.3" cy="669.9" r="3.75"/><circle cx="1392.9" cy="798.9" r="3.75"/><circle cx="1291.6" cy="753.9" r="3.75"/><circle cx="1347.7" cy="598.3" r="3.75"/><circle cx="1225.9" cy="694.4" r="3.75"/><circle cx="1321.0" cy="647.6" r="3.75"/><circle cx="1290.9" cy="760.5" r="3.75"/><circle cx="1258.8" cy="789.8" r="3.75"/><circle cx="1279.1" cy="703.9" r="3.75"/><circle cx="1365.5" cy="839.2" r="3.75"/><circle cx="1338.0" cy="629.9" r="3.75"/><circle cx="1367.8" cy="805.1" r="3.75"/><circle cx="1376.4" cy="676.4" r="3.75"/><circle cx="1311.7" cy="702.2" r="3.75"/><circle cx="1321.0" cy="677.9" r="3.75"/><circle cx="1352.2" cy="674.4" r="3.75"/><circle cx="1303.3" cy="778.0" r="3.75"/><circle cx="1292.0" cy="787.5" r="3.75"/><circle cx="1265.0" cy="616.5" r="3.75"/><circle cx="1356.1" cy="588.6" r="3.75"/><circle cx="1227.7" cy="694.3" r="3.75"/><circle cx="1399.2" cy="696.4" r="3.75"/><circle cx="1347.7" cy="829.9" r="3.75"/><circle cx="1307.2" cy="717.6" r="3.75"/><circle cx="1270.1" cy="702.6" r="3.75"/><circle cx="1289.1" cy="623.9" r="3.75"/><circle cx="1360.7" cy="801.4" r="3.75"/><circle cx="1395.8" cy="818.0" r="3.75"/><circle cx="1321.0" cy="651.4" r="3.75"/><circle cx="1308.6" cy="741.8" r="3.75"/><circle cx="1287.1" cy="675.3" r="3.75"/><circle cx="1363.0" cy="766.9" r="3.75"/><circle cx="1428.3" cy="723.9" r="3.75"/><circle cx="1393.5" cy="679.4" r="3.75"/><circle cx="1383.3" cy="642.7" r="3.75"/><circle cx="1293.0" cy="745.1" r="3.75"/><circle cx="1321.0" cy="722.1" r="3.75"/><circle cx="1414.5" cy="688.2" r="3.75"/><circle cx="1377.5" cy="809.2" r="3.75"/><circle cx="1349.8" cy="779.1" r="3.75"/><circle cx="1412.8" cy="615.3" r="3.75"/><circle cx="1383.3" cy="728.0" r="3.75"/><circle cx="1348.9" cy="742.1" r="3.75"/><circle cx="1340.1" cy="763.4" r="3.75"/><circle cx="1270.8" cy="601.0" r="3.75"/><circle cx="1310.5" cy="687.9" r="3.75"/><circle cx="1321.0" cy="810.1" r="3.75"/><circle cx="1356.8" cy="610.7" r="3.75"/><circle cx="1377.5" cy="749.4" r="3.75"/><circle cx="1295.8" cy="642.8" r="3.75"/><circle cx="1439.9" cy="721.3" r="3.75"/><circle cx="1360.7" cy="676.6" r="3.75"/><circle cx="1347.7" cy="739.6" r="3.75"/><circle cx="1307.2" cy="708.1" r="3.75"/><circle cx="1362.6" cy="677.9" r="3.75"/><circle cx="1365.2" cy="649.6" r="3.75"/><circle cx="1383.3" cy="733.8" r="3.75"/><circle cx="1282.3" cy="662.0" r="3.75"/><circle cx="1321.0" cy="720.8" r="3.75"/><circle cx="1256.5" cy="727.6" r="3.75"/><circle cx="1271.9" cy="817.1" r="3.75"/><circle cx="1363.0" cy="812.4" r="3.75"/><circle cx="1338.7" cy="843.2" r="3.75"/><circle cx="1373.9" cy="775.3" r="3.75"/><circle cx="1365.5" cy="692.2" r="3.75"/><circle cx="1304.1" cy="624.7" r="3.75"/><circle cx="1422.2" cy="813.7" r="3.75"/><circle cx="1277.3" cy="767.6" r="3.75"/><circle cx="1333.0" cy="621.7" r="3.75"/><circle cx="1335.4" cy="639.5" r="3.75"/><circle cx="1325.4" cy="777.3" r="3.75"/><circle cx="1372.9" cy="639.8" r="3.75"/><circle cx="1366.1" cy="642.9" r="3.75"/><circle cx="1280.8" cy="779.7" r="3.75"/><circle cx="1424.0" cy="731.9" r="3.75"/><circle cx="1330.4" cy="637.9" r="3.75"/><circle cx="1295.6" cy="636.4" r="3.75"/><circle cx="1277.9" cy="713.1" r="3.75"/><circle cx="1371.3" cy="729.6" r="3.75"/><circle cx="1367.8" cy="599.3" r="3.75"/><circle cx="1383.3" cy="650.7" r="3.75"/><circle cx="1421.6" cy="608.7" r="3.75"/><circle cx="1364.2" cy="729.6" r="3.75"/><circle cx="1372.0" cy="667.5" r="3.75"/><circle cx="1261.4" cy="753.1" r="3.75"/><circle cx="1285.3" cy="734.8" r="3.75"/><circle cx="1383.3" cy="625.0" r="3.75"/><circle cx="1360.7" cy="609.1" r="3.75"/><circle cx="1310.7" cy="806.6" r="3.75"/><circle cx="1370.2" cy="744.9" r="3.75"/><circle cx="1357.0" cy="637.3" r="3.75"/><circle cx="1388.0" cy="720.3" r="3.75"/><circle cx="1385.6" cy="649.6" r="3.75"/><circle cx="1314.1" cy="606.5" r="3.75"/><circle cx="1339.1" cy="611.1" r="3.75"/><circle cx="1380.5" cy="655.8" r="3.75"/><circle cx="1303.3" cy="749.4" r="3.75"/><circle cx="1372.0" cy="774.4" r="3.75"/><circle cx="1397.5" cy="683.1" r="3.75"/><circle cx="1305.9" cy="754.0" r="3.75"/><circle cx="1316.5" cy="774.5" r="3.75"/><circle cx="1328.8" cy="620.8" r="3.75"/><circle cx="1324.6" cy="742.9" r="3.75"/><circle cx="1334.9" cy="778.0" r="3.75"/><circle cx="1325.8" cy="736.2" r="3.75"/><circle cx="1391.1" cy="756.6" r="3.75"/><circle cx="1395.8" cy="824.9" r="3.75"/><circle cx="1258.8" cy="753.5" r="3.75"/><circle cx="1369.1" cy="641.6" r="3.75"/><circle cx="1428.6" cy="785.8" r="3.75"/><circle cx="1398.0" cy="786.4" r="3.75"/><circle cx="1305.5" cy="706.5" r="3.75"/><circle cx="1369.1" cy="813.1" r="3.75"/><circle cx="1347.7" cy="770.4" r="3.75"/><circle cx="1306.7" cy="782.4" r="3.75"/><circle cx="1314.1" cy="704.9" r="3.75"/><circle cx="1267.7" cy="635.1" r="3.75"/><circle cx="1329.5" cy="776.7" r="3.75"/><circle cx="1398.5" cy="686.6" r="3.75"/><circle cx="1367.8" cy="659.4" r="3.75"/><circle cx="1292.3" cy="627.4" r="3.75"/><circle cx="1309.6" cy="679.4" r="3.75"/><circle cx="1325.8" cy="687.8" r="3.75"/><circle cx="1342.8" cy="757.4" r="3.75"/><circle cx="1308.6" cy="718.9" r="3.75"/><circle cx="1250.5" cy="772.3" r="3.75"/><circle cx="1371.1" cy="782.9" r="3.75"/><circle cx="1414.5" cy="695.8" r="3.75"/><circle cx="1321.0" cy="755.1" r="3.75"/><circle cx="1313.9" cy="719.7" r="3.75"/><circle cx="1325.4" cy="673.6" r="3.75"/><circle cx="1304.1" cy="676.6" r="3.75"/><circle cx="1343.5" cy="615.6" r="3.75"/><circle cx="1271.9" cy="627.5" r="3.75"/><circle cx="1424.8" cy="687.5" r="3.75"/><circle cx="1336.0" cy="742.5" r="3.75"/><circle cx="1378.8" cy="646.5" r="3.75"/><circle cx="1317.7" cy="765.0" r="3.75"/><circle cx="1378.5" cy="775.8" r="3.75"/><circle cx="1385.6" cy="740.1" r="3.75"/><circle cx="1372.9" cy="758.9" r="3.75"/><circle cx="1416.7" cy="753.6" r="3.75"/><circle cx="1316.7" cy="733.5" r="3.75"/><circle cx="1321.0" cy="633.0" r="3.75"/><circle cx="1305.9" cy="601.1" r="3.75"/><circle cx="1308.6" cy="787.5" r="3.75"/><circle cx="1290.6" cy="713.5" r="3.75"/><circle cx="1313.6" cy="814.6" r="3.75"/><circle cx="1371.1" cy="787.0" r="3.75"/><circle cx="1277.3" cy="782.2" r="3.75"/><circle cx="1411.0" cy="739.9" r="3.75"/><circle cx="1368.7" cy="759.5" r="3.75"/><circle cx="1328.2" cy="752.7" r="3.75"/><circle cx="1321.0" cy="753.9" r="3.75"/><circle cx="1378.5" cy="683.4" r="3.75"/><circle cx="1303.0" cy="683.0" r="3.75"/><circle cx="1286.0" cy="690.4" r="3.75"/><circle cx="1353.0" cy="674.1" r="3.75"/><circle cx="1358.4" cy="720.8" r="3.75"/><circle cx="1349.8" cy="604.3" r="3.75"/><circle cx="1296.4" cy="662.0" r="3.75"/><circle cx="1289.9" cy="588.6" r="3.75"/><circle cx="1321.0" cy="650.8" r="3.75"/><circle cx="1321.0" cy="772.0" r="3.75"/><circle cx="1324.7" cy="655.2" r="3.75"/><circle cx="1380.5" cy="613.0" r="3.75"/><circle cx="1338.7" cy="749.4" r="3.75"/><circle cx="1349.8" cy="723.0" r="3.75"/><circle cx="1337.1" cy="607.3" r="3.75"/><circle cx="1372.0" cy="740.1" r="3.75"/><circle cx="1334.1" cy="661.7" r="3.75"/><circle cx="1258.8" cy="648.3" r="3.75"/><circle cx="1277.1" cy="734.3" r="3.75"/><circle cx="1316.7" cy="745.4" r="3.75"/><circle cx="1300.3" cy="649.4" r="3.75"/><circle cx="1421.6" cy="775.8" r="3.75"/><circle cx="1333.0" cy="734.8" r="3.75"/><circle cx="1369.8" cy="712.1" r="3.75"/><circle cx="1349.4" cy="666.3" r="3.75"/><circle cx="1307.7" cy="822.9" r="3.75"/><circle cx="1321.0" cy="590.8" r="3.75"/><circle cx="1386.2" cy="693.6" r="3.75"/><circle cx="1399.4" cy="749.4" r="3.75"/><circle cx="1275.2" cy="694.4" r="3.75"/><circle cx="1298.6" cy="746.0" r="3.75"/><circle cx="1331.6" cy="675.0" r="3.75"/><circle cx="1328.0" cy="762.1" r="3.75"/><circle cx="1328.5" cy="794.0" r="3.75"/><circle cx="1321.0" cy="731.3" r="3.75"/><circle cx="1291.2" cy="739.1" r="3.75"/><circle cx="1350.5" cy="614.0" r="3.75"/><circle cx="1307.4" cy="728.5" r="3.75"/><circle cx="1292.7" cy="817.0" r="3.75"/><circle cx="1370.6" cy="745.9" r="3.75"/><circle cx="1340.9" cy="625.3" r="3.75"/><circle cx="1286.8" cy="689.9" r="3.75"/><circle cx="1418.5" cy="700.9" r="3.75"/><circle cx="1302.0" cy="651.4" r="3.75"/><circle cx="1270.1" cy="676.6" r="3.75"/><circle cx="1275.4" cy="657.9" r="3.75"/><circle cx="1302.7" cy="678.8" r="3.75"/><circle cx="1301.2" cy="785.9" r="3.75"/><circle cx="1265.7" cy="593.8" r="3.75"/><circle cx="1305.0" cy="695.5" r="3.75"/><circle cx="1386.4" cy="680.8" r="3.75"/><circle cx="1380.7" cy="676.4" r="3.75"/><circle cx="1297.7" cy="613.6" r="3.75"/><circle cx="1304.8" cy="618.9" r="3.75"/><circle cx="1350.1" cy="684.6" r="3.75"/><circle cx="1383.3" cy="695.6" r="3.75"/><circle cx="1312.9" cy="633.8" r="3.75"/><circle cx="1206.1" cy="643.9" r="3.75"/><circle cx="1294.4" cy="631.0" r="3.75"/><circle cx="1409.1" cy="649.1" r="3.75"/><circle cx="1345.0" cy="661.5" r="3.75"/><circle cx="1424.8" cy="837.1" r="3.75"/><circle cx="1434.6" cy="712.4" r="3.75"/><circle cx="1316.5" cy="686.6" r="3.75"/><circle cx="1301.2" cy="639.9" r="3.75"/><circle cx="1304.1" cy="814.9" r="3.75"/><circle cx="1414.5" cy="815.7" r="3.75"/><circle cx="1358.4" cy="736.5" r="3.75"/><circle cx="1298.6" cy="663.6" r="3.75"/><circle cx="1267.1" cy="623.6" r="3.75"/><circle cx="1332.7" cy="588.6" r="3.75"/><circle cx="1297.7" cy="733.3" r="3.75"/><circle cx="1297.1" cy="661.5" r="3.75"/><circle cx="1304.1" cy="777.5" r="3.75"/><circle cx="1353.6" cy="686.0" r="3.75"/><circle cx="1292.3" cy="752.7" r="3.75"/><circle cx="1416.7" cy="711.8" r="3.75"/><circle cx="1358.4" cy="661.7" r="3.75"/><circle cx="1287.1" cy="815.7" r="3.75"/><circle cx="1333.0" cy="636.3" r="3.75"/><circle cx="1363.2" cy="732.8" r="3.75"/><circle cx="1335.4" cy="696.6" r="3.75"/><circle cx="1380.3" cy="774.5" r="3.75"/><circle cx="1310.7" cy="754.2" r="3.75"/><circle cx="1331.2" cy="668.3" r="3.75"/><circle cx="1297.7" cy="649.4" r="3.75"/><circle cx="1410.0" cy="761.6" r="3.75"/><circle cx="1406.0" cy="800.1" r="3.75"/><circle cx="1286.0" cy="792.3" r="3.75"/><circle cx="1353.0" cy="628.1" r="3.75"/><circle cx="1404.5" cy="643.6" r="3.75"/><circle cx="1263.9" cy="773.9" r="3.75"/><circle cx="1350.1" cy="616.0" r="3.75"/><circle cx="1321.0" cy="687.5" r="3.75"/><circle cx="1317.4" cy="830.1" r="3.75"/><circle cx="1342.8" cy="697.6" r="3.75"/><circle cx="1401.1" cy="801.9" r="3.75"/><circle cx="1371.3" cy="647.2" r="3.75"/><circle cx="1321.0" cy="708.8" r="3.75"/><circle cx="1358.4" cy="602.9" r="3.75"/><circle cx="1289.3" cy="642.6" r="3.75"/><circle cx="1306.7" cy="692.2" r="3.75"/><circle cx="1289.1" cy="711.8" r="3.75"/><circle cx="1298.6" cy="622.5" r="3.75"/><circle cx="1421.0" cy="649.7" r="3.75"/><circle cx="1281.4" cy="749.4" r="3.75"/><circle cx="1315.7" cy="759.2" r="3.75"/><circle cx="1406.9" cy="735.5" r="3.75"/><circle cx="1274.3" cy="719.4" r="3.75"/><circle cx="1324.7" cy="776.3" r="3.75"/><circle cx="1350.1" cy="650.3" r="3.75"/><circle cx="1386.7" cy="647.4" r="3.75"/><circle cx="1436.0" cy="703.2" r="3.75"/><circle cx="1414.5" cy="744.0" r="3.75"/><circle cx="1289.1" cy="741.0" r="3.75"/><circle cx="1358.4" cy="770.0" r="3.75"/><circle cx="1332.0" cy="736.0" r="3.75"/><circle cx="1304.8" cy="779.2" r="3.75"/><circle cx="1338.7" cy="610.3" r="3.75"/><circle cx="1346.0" cy="697.9" r="3.75"/><circle cx="1375.0" cy="635.1" r="3.75"/><circle cx="1420.4" cy="691.0" r="3.75"/><circle cx="1340.4" cy="773.0" r="3.75"/><circle cx="1289.1" cy="686.6" r="3.75"/><circle cx="1350.5" cy="605.0" r="3.75"/><circle cx="1389.0" cy="655.8" r="3.75"/><circle cx="1243.2" cy="717.2" r="3.75"/><circle cx="1334.4" cy="743.3" r="3.75"/><circle cx="1448.4" cy="749.4" r="3.75"/><circle cx="1424.8" cy="781.2" r="3.75"/><circle cx="1329.5" cy="772.8" r="3.75"/><circle cx="1321.0" cy="655.1" r="3.75"/><circle cx="1269.4" cy="676.4" r="3.75"/><circle cx="1375.0" cy="741.8" r="3.75"/><circle cx="1263.6" cy="706.5" r="3.75"/><circle cx="1383.3" cy="766.5" r="3.75"/><circle cx="1380.0" cy="839.7" r="3.75"/><circle cx="1360.4" cy="699.8" r="3.75"/><circle cx="1321.0" cy="739.5" r="3.75"/><circle cx="1354.0" cy="756.1" r="3.75"/><circle cx="1293.2" cy="621.7" r="3.75"/><circle cx="1339.4" cy="658.6" r="3.75"/><circle cx="1428.8" cy="726.3" r="3.75"/><circle cx="1331.6" cy="649.1" r="3.75"/><circle cx="1376.4" cy="704.9" r="3.75"/><circle cx="1345.7" cy="671.7" r="3.75"/><circle cx="1358.4" cy="603.6" r="3.75"/><circle cx="1321.0" cy="739.1" r="3.75"/><circle cx="1348.7" cy="733.5" r="3.75"/><circle cx="1335.4" cy="701.0" r="3.75"/><circle cx="1379.4" cy="803.0" r="3.75"/><circle cx="1356.8" cy="705.6" r="3.75"/><circle cx="1309.6" cy="745.9" r="3.75"/><circle cx="1358.4" cy="848.0" r="3.75"/><circle cx="1324.6" cy="733.2" r="3.75"/><circle cx="1355.3" cy="822.9" r="3.75"/><circle cx="1314.6" cy="631.1" r="3.75"/><circle cx="1356.6" cy="712.6" r="3.75"/><circle cx="1347.7" cy="765.7" r="3.75"/><circle cx="1365.2" cy="843.0" r="3.75"/><circle cx="1349.1" cy="719.4" r="3.75"/><circle cx="1307.2" cy="711.3" r="3.75"/><circle cx="1337.3" cy="682.3" r="3.75"/><circle cx="1304.1" cy="694.8" r="3.75"/><circle cx="1423.3" cy="713.8" r="3.75"/><circle cx="1343.0" cy="774.6" r="3.75"/><circle cx="1357.0" cy="706.5" r="3.75"/><circle cx="1441.9" cy="734.3" r="3.75"/><circle cx="1433.1" cy="710.8" r="3.75"/><circle cx="1305.5" cy="742.2" r="3.75"/><circle cx="1325.4" cy="629.7" r="3.75"/><circle cx="1253.5" cy="771.3" r="3.75"/><circle cx="1390.4" cy="827.8" r="3.75"/><circle cx="1453.5" cy="746.3" r="3.75"/><circle cx="1337.1" cy="710.2" r="3.75"/><circle cx="1310.7" cy="682.7" r="3.75"/><circle cx="1238.0" cy="658.9" r="3.75"/><circle cx="1360.2" cy="717.5" r="3.75"/><circle cx="1332.5" cy="752.9" r="3.75"/><circle cx="1321.0" cy="632.8" r="3.75"/><circle cx="1393.7" cy="830.4" r="3.75"/><circle cx="1380.7" cy="639.9" r="3.75"/><circle cx="1355.6" cy="628.7" r="3.75"/><circle cx="1429.7" cy="701.5" r="3.75"/><circle cx="1366.7" cy="848.5" r="3.75"/><circle cx="1334.1" cy="769.3" r="3.75"/><circle cx="1406.7" cy="785.1" r="3.75"/><circle cx="1281.0" cy="798.4" r="3.75"/><circle cx="1399.9" cy="665.6" r="3.75"/><circle cx="1331.2" cy="627.8" r="3.75"/><circle cx="1294.4" cy="635.1" r="3.75"/><circle cx="1381.0" cy="749.4" r="3.75"/><circle cx="1326.7" cy="822.2" r="3.75"/><circle cx="1424.8" cy="630.3" r="3.75"/><circle cx="1452.9" cy="699.0" r="3.75"/><circle cx="1348.7" cy="781.2" r="3.75"/><circle cx="1271.5" cy="633.9" r="3.75"/><circle cx="1428.8" cy="653.8" r="3.75"/><circle cx="1376.4" cy="609.7" r="3.75"/><circle cx="1362.6" cy="639.8" r="3.75"/><circle cx="1271.0" cy="644.8" r="3.75"/><circle cx="1351.2" cy="732.8" r="3.75"/><circle cx="1374.4" cy="767.8" r="3.75"/><circle cx="1375.3" cy="633.2" r="3.75"/><circle cx="1401.1" cy="793.5" r="3.75"/><circle cx="1343.0" cy="719.1" r="3.75"/><circle cx="1300.3" cy="687.5" r="3.75"/><circle cx="1324.9" cy="724.9" r="3.75"/><circle cx="1392.9" cy="851.6" r="3.75"/><circle cx="1291.2" cy="770.0" r="3.75"/><circle cx="1338.0" cy="698.7" r="3.75"/><circle cx="1361.7" cy="622.6" r="3.75"/><circle cx="1280.4" cy="786.7" r="3.75"/><circle cx="1354.0" cy="793.1" r="3.75"/><circle cx="1395.1" cy="649.1" r="3.75"/><circle cx="1313.6" cy="629.4" r="3.75"/><circle cx="1362.1" cy="703.4" r="3.75"/><circle cx="1317.5" cy="600.6" r="3.75"/><circle cx="1310.5" cy="746.2" r="3.75"/><circle cx="1401.1" cy="757.6" r="3.75"/><circle cx="1418.9" cy="667.7" r="3.75"/><circle cx="1243.2" cy="660.1" r="3.75"/><circle cx="1309.6" cy="640.9" r="3.75"/><circle cx="1297.7" cy="813.7" r="3.75"/><circle cx="1380.8" cy="629.4" r="3.75"/><circle cx="1267.1" cy="738.0" r="3.75"/><circle cx="1399.2" cy="768.1" r="3.75"/><circle cx="1389.9" cy="663.6" r="3.75"/><circle cx="1296.1" cy="766.5" r="3.75"/><circle cx="1349.8" cy="610.9" r="3.75"/><circle cx="1369.5" cy="695.4" r="3.75"/><circle cx="1325.0" cy="705.6" r="3.75"/><circle cx="1289.9" cy="711.3" r="3.75"/><circle cx="1337.3" cy="656.2" r="3.75"/><circle cx="1367.8" cy="808.4" r="3.75"/><circle cx="1354.0" cy="641.8" r="3.75"/><circle cx="1341.8" cy="641.4" r="3.75"/><circle cx="1339.1" cy="754.9" r="3.75"/><circle cx="1361.7" cy="682.3" r="3.75"/><circle cx="1238.9" cy="622.5" r="3.75"/><circle cx="1366.5" cy="703.0" r="3.75"/><circle cx="1277.3" cy="618.0" r="3.75"/><circle cx="1389.9" cy="609.5" r="3.75"/><circle cx="1258.8" cy="601.7" r="3.75"/><circle cx="1358.4" cy="652.2" r="3.75"/><circle cx="1282.3" cy="642.6" r="3.75"/><circle cx="1366.7" cy="787.5" r="3.75"/><circle cx="1374.4" cy="675.9" r="3.75"/><circle cx="1245.3" cy="689.1" r="3.75"/><circle cx="1379.7" cy="852.3" r="3.75"/><circle cx="1279.1" cy="812.4" r="3.75"/><circle cx="1426.6" cy="790.4" r="3.75"/><circle cx="1375.0" cy="699.9" r="3.75"/><circle cx="1350.5" cy="632.1" r="3.75"/><circle cx="1385.7" cy="752.7" r="3.75"/><circle cx="1359.8" cy="626.4" r="3.75"/><circle cx="1304.1" cy="675.3" r="3.75"/><circle cx="1379.4" cy="840.5" r="3.75"/><circle cx="1230.7" cy="627.7" r="3.75"/><circle cx="1411.8" cy="685.7" r="3.75"/><circle cx="1459.7" cy="743.9" r="3.75"/><circle cx="1306.7" cy="661.5" r="3.75"/><circle cx="1297.7" cy="656.5" r="3.75"/><circle cx="1321.0" cy="701.2" r="3.75"/><circle cx="1288.1" cy="742.7" r="3.75"/><circle cx="1337.3" cy="790.4" r="3.75"/><circle cx="1385.6" cy="646.5" r="3.75"/><circle cx="1275.2" cy="610.3" r="3.75"/><circle cx="1354.0" cy="754.4" r="3.75"/><circle cx="1387.8" cy="712.6" r="3.75"/><circle cx="1431.4" cy="659.8" r="3.75"/><circle cx="1300.3" cy="660.5" r="3.75"/><circle cx="1381.0" cy="772.1" r="3.75"/><circle cx="1310.9" cy="674.6" r="3.75"/><circle cx="1375.0" cy="696.0" r="3.75"/><circle cx="1321.0" cy="774.4" r="3.75"/><circle cx="1410.0" cy="745.3" r="3.75"/><circle cx="1210.9" cy="661.5" r="3.75"/><circle cx="1412.1" cy="709.8" r="3.75"/><circle cx="1331.6" cy="730.0" r="3.75"/><circle cx="1263.9" cy="637.4" r="3.75"/><circle cx="1386.2" cy="733.5" r="3.75"/><circle cx="1341.8" cy="600.8" r="3.75"/><circle cx="1289.1" cy="782.9" r="3.75"/><circle cx="1360.4" cy="753.9" r="3.75"/><circle cx="1262.4" cy="607.3" r="3.75"/><circle cx="1278.9" cy="766.0" r="3.75"/><circle cx="1366.9" cy="645.8" r="3.75"/><circle cx="1346.5" cy="741.6" r="3.75"/><circle cx="1321.0" cy="785.7" r="3.75"/><circle cx="1283.7" cy="736.9" r="3.75"/><circle cx="1261.8" cy="603.0" r="3.75"/><circle cx="1329.5" cy="671.5" r="3.75"/><circle cx="1327.5" cy="844.0" r="3.75"/><circle cx="1312.9" cy="622.6" r="3.75"/><circle cx="1427.8" cy="794.3" r="3.75"/><circle cx="1304.1" cy="818.0" r="3.75"/><circle cx="1378.2" cy="668.9" r="3.75"/><circle cx="1338.0" cy="662.1" r="3.75"/><circle cx="1321.0" cy="760.6" r="3.75"/><circle cx="1302.7" cy="709.0" r="3.75"/><circle cx="1408.2" cy="840.9" r="3.75"/><circle cx="1389.4" cy="736.8" r="3.75"/><circle cx="1399.2" cy="799.3" r="3.75"/><circle cx="1321.0" cy="589.1" r="3.75"/><circle cx="1328.8" cy="652.9" r="3.75"/><circle cx="1282.3" cy="717.0" r="3.75"/><circle cx="1315.0" cy="644.3" r="3.75"/><circle cx="1345.0" cy="762.6" r="3.75"/><circle cx="1310.5" cy="587.6" r="3.75"/><circle cx="1211.2" cy="658.6" r="3.75"/><circle cx="1266.1" cy="582.9" r="3.75"/><circle cx="1383.3" cy="670.0" r="3.75"/><circle cx="1326.7" cy="707.8" r="3.75"/><circle cx="1383.3" cy="713.7" r="3.75"/><circle cx="1288.5" cy="708.4" r="3.75"/><circle cx="1398.0" cy="672.1" r="3.75"/><circle cx="1297.3" cy="696.4" r="3.75"/><circle cx="1292.0" cy="657.9" r="3.75"/><circle cx="1390.7" cy="648.5" r="3.75"/><circle cx="1388.3" cy="746.0" r="3.75"/><circle cx="1221.4" cy="652.2" r="3.75"/><circle cx="1439.9" cy="690.9" r="3.75"/><circle cx="1328.0" cy="698.6" r="3.75"/><circle cx="1321.0" cy="699.8" r="3.75"/><circle cx="1420.4" cy="720.2" r="3.75"/><circle cx="1377.5" cy="641.7" r="3.75"/><circle cx="1299.5" cy="699.9" r="3.75"/><circle cx="1321.0" cy="631.0" r="3.75"/><circle cx="1381.0" cy="707.3" r="3.75"/><circle cx="1331.6" cy="613.5" r="3.75"/><circle cx="1304.1" cy="832.5" r="3.75"/><circle cx="1380.0" cy="744.9" r="3.75"/><circle cx="1290.9" cy="716.2" r="3.75"/><circle cx="1343.5" cy="656.8" r="3.75"/><circle cx="1282.3" cy="723.5" r="3.75"/><circle cx="1375.5" cy="742.2" r="3.75"/><circle cx="1411.8" cy="626.9" r="3.75"/><circle cx="1332.0" cy="641.8" r="3.75"/><circle cx="1456.0" cy="730.3" r="3.75"/><circle cx="1350.1" cy="791.3" r="3.75"/><circle cx="1283.7" cy="722.7" r="3.75"/><circle cx="1285.5" cy="741.2" r="3.75"/><circle cx="1346.0" cy="646.5" r="3.75"/><circle cx="1256.4" cy="683.4" r="3.75"/><circle cx="1385.9" cy="686.4" r="3.75"/><circle cx="1395.1" cy="742.9" r="3.75"/><circle cx="1310.9" cy="824.2" r="3.75"/><circle cx="1287.5" cy="797.8" r="3.75"/><circle cx="1367.8" cy="722.6" r="3.75"/><circle cx="1290.5" cy="774.4" r="3.75"/><circle cx="1342.6" cy="683.4" r="3.75"/><circle cx="1375.5" cy="638.6" r="3.75"/><circle cx="1401.1" cy="617.1" r="3.75"/><circle cx="1372.9" cy="697.0" r="3.75"/><circle cx="1369.5" cy="622.4" r="3.75"/><circle cx="1353.3" cy="719.8" r="3.75"/><circle cx="1380.5" cy="827.3" r="3.75"/><circle cx="1347.7" cy="793.5" r="3.75"/><circle cx="1362.1" cy="762.0" r="3.75"/><circle cx="1344.8" cy="693.3" r="3.75"/><circle cx="1321.0" cy="739.3" r="3.75"/><circle cx="1401.1" cy="805.4" r="3.75"/><circle cx="1366.9" cy="707.3" r="3.75"/><circle cx="1347.7" cy="745.3" r="3.75"/><circle cx="1302.7" cy="614.9" r="3.75"/><circle cx="1373.4" cy="842.0" r="3.75"/><circle cx="1402.3" cy="738.2" r="3.75"/><circle cx="1326.4" cy="754.3" r="3.75"/><circle cx="1359.8" cy="665.3" r="3.75"/><circle cx="1308.0" cy="733.5" r="3.75"/><circle cx="1288.1" cy="662.0" r="3.75"/><circle cx="1417.7" cy="642.9" r="3.75"/><circle cx="1345.7" cy="755.9" r="3.75"/><circle cx="1363.0" cy="602.4" r="3.75"/><circle cx="1321.0" cy="607.7" r="3.75"/><circle cx="1341.8" cy="715.1" r="3.75"/><circle cx="1314.1" cy="619.2" r="3.75"/><circle cx="1404.8" cy="642.9" r="3.75"/><circle cx="1378.5" cy="696.6" r="3.75"/><circle cx="1339.7" cy="822.3" r="3.75"/><circle cx="1301.7" cy="737.6" r="3.75"/><circle cx="1321.0" cy="634.0" r="3.75"/><circle cx="1380.5" cy="765.0" r="3.75"/><circle cx="1261.1" cy="759.1" r="3.75"/><circle cx="1333.5" cy="629.4" r="3.75"/><circle cx="1412.6" cy="651.9" r="3.75"/><circle cx="1417.3" cy="806.6" r="3.75"/><circle cx="1383.3" cy="722.7" r="3.75"/><circle cx="1307.2" cy="654.1" r="3.75"/><circle cx="1333.5" cy="707.5" r="3.75"/><circle cx="1273.0" cy="592.6" r="3.75"/><circle cx="1321.0" cy="771.8" r="3.75"/><circle cx="1346.7" cy="651.9" r="3.75"/><circle cx="1305.0" cy="646.5" r="3.75"/><circle cx="1375.3" cy="622.2" r="3.75"/><circle cx="1436.3" cy="749.4" r="3.75"/><circle cx="1364.2" cy="780.2" r="3.75"/><circle cx="1304.1" cy="584.1" r="3.75"/><circle cx="1426.6" cy="727.0" r="3.75"/><circle cx="1321.0" cy="645.0" r="3.75"/><circle cx="1365.0" cy="638.4" r="3.75"/><circle cx="1426.6" cy="678.6" r="3.75"/><circle cx="1344.4" cy="781.6" r="3.75"/><circle cx="1352.8" cy="668.5" r="3.75"/><circle cx="1335.4" cy="771.4" r="3.75"/><circle cx="1378.5" cy="657.0" r="3.75"/><circle cx="1295.4" cy="651.9" r="3.75"/><circle cx="1367.8" cy="765.5" r="3.75"/><circle cx="1321.0" cy="624.7" r="3.75"/><circle cx="1422.2" cy="681.5" r="3.75"/><circle cx="1288.1" cy="712.4" r="3.75"/><circle cx="1358.4" cy="760.8" r="3.75"/><circle cx="1398.0" cy="722.5" r="3.75"/><circle cx="1291.6" cy="717.8" r="3.75"/><circle cx="1417.0" cy="786.5" r="3.75"/><circle cx="1265.0" cy="667.9" r="3.75"/><circle cx="1338.0" cy="671.5" r="3.75"/><circle cx="1315.4" cy="666.3" r="3.75"/><circle cx="1317.7" cy="587.2" r="3.75"/><circle cx="1321.0" cy="699.4" r="3.75"/><circle cx="1410.4" cy="693.5" r="3.75"/><circle cx="1385.6" cy="687.0" r="3.75"/><circle cx="1402.8" cy="813.7" r="3.75"/><circle cx="1368.8" cy="793.3" r="3.75"/><circle cx="1330.9" cy="722.3" r="3.75"/><circle cx="1310.1" cy="648.5" r="3.75"/><circle cx="1343.5" cy="759.7" r="3.75"/><circle cx="1337.1" cy="695.5" r="3.75"/><circle cx="1425.8" cy="724.3" r="3.75"/><circle cx="1256.4" cy="610.9" r="3.75"/><circle cx="1341.8" cy="692.2" r="3.75"/><circle cx="1392.9" cy="731.8" r="3.75"/><circle cx="1302.0" cy="773.9" r="3.75"/><circle cx="1349.4" cy="785.8" r="3.75"/><circle cx="1324.7" cy="762.8" r="3.75"/><circle cx="1337.1" cy="631.8" r="3.75"/><circle cx="1329.5" cy="663.6" r="3.75"/><circle cx="1393.5" cy="815.9" r="3.75"/><circle cx="1291.2" cy="811.1" r="3.75"/><circle cx="1310.7" cy="606.5" r="3.75"/><circle cx="1350.9" cy="807.7" r="3.75"/><circle cx="1347.7" cy="647.9" r="3.75"/><circle cx="1270.8" cy="699.9" r="3.75"/><circle cx="1306.1" cy="787.1" r="3.75"/><circle cx="1342.6" cy="762.6" r="3.75"/><circle cx="1340.9" cy="712.9" r="3.75"/><circle cx="1358.4" cy="710.8" r="3.75"/><circle cx="1369.1" cy="631.8" r="3.75"/><circle cx="1321.0" cy="640.8" r="3.75"/><circle cx="1305.9" cy="772.6" r="3.75"/><circle cx="1335.4" cy="752.7" r="3.75"/><circle cx="1296.1" cy="635.1" r="3.75"/><circle cx="1373.4" cy="814.6" r="3.75"/><circle cx="1345.0" cy="784.6" r="3.75"/><circle cx="1381.0" cy="662.0" r="3.75"/><circle cx="1353.3" cy="767.1" r="3.75"/><circle cx="1291.6" cy="686.2" r="3.75"/><circle cx="1285.3" cy="767.6" r="3.75"/><circle cx="1329.9" cy="675.9" r="3.75"/><circle cx="1281.0" cy="669.8" r="3.75"/><circle cx="1321.0" cy="694.5" r="3.75"/><circle cx="1216.4" cy="639.6" r="3.75"/><circle cx="1427.8" cy="786.2" r="3.75"/><circle cx="1310.1" cy="705.7" r="3.75"/><circle cx="1393.5" cy="654.9" r="3.75"/><circle cx="1383.3" cy="673.2" r="3.75"/><circle cx="1296.7" cy="779.2" r="3.75"/><circle cx="1366.7" cy="806.6" r="3.75"/><circle cx="1380.5" cy="636.4" r="3.75"/><circle cx="1406.7" cy="652.9" r="3.75"/><circle cx="1307.2" cy="739.9" r="3.75"/><circle cx="1394.6" cy="713.0" r="3.75"/><circle cx="1352.2" cy="611.2" r="3.75"/><circle cx="1295.4" cy="688.9" r="3.75"/><circle cx="1302.0" cy="633.9" r="3.75"/><circle cx="1321.0" cy="607.9" r="3.75"/><circle cx="1312.6" cy="702.6" r="3.75"/><circle cx="1333.5" cy="619.8" r="3.75"/><circle cx="1360.2" cy="645.7" r="3.75"/><circle cx="1424.8" cy="787.5" r="3.75"/><circle cx="1289.3" cy="587.6" r="3.75"/><circle cx="1272.6" cy="673.2" r="3.75"/><circle cx="1409.0" cy="613.2" r="3.75"/><circle cx="1263.6" cy="584.5" r="3.75"/><circle cx="1345.7" cy="642.6" r="3.75"/><circle cx="1364.2" cy="723.0" r="3.75"/><circle cx="1296.4" cy="681.5" r="3.75"/><circle cx="1298.6" cy="632.8" r="3.75"/><circle cx="1326.1" cy="633.5" r="3.75"/><circle cx="1305.5" cy="824.4" r="3.75"/><circle cx="1301.4" cy="740.4" r="3.75"/><circle cx="1303.0" cy="622.2" r="3.75"/><circle cx="1412.6" cy="789.8" r="3.75"/><circle cx="1429.7" cy="817.2" r="3.75"/><circle cx="1303.3" cy="712.6" r="3.75"/><circle cx="1307.2" cy="771.6" r="3.75"/><circle cx="1366.5" cy="717.0" r="3.75"/><circle cx="1329.9" cy="733.1" r="3.75"/><circle cx="1357.0" cy="789.0" r="3.75"/><circle cx="1321.0" cy="762.9" r="3.75"/><circle cx="1370.2" cy="749.4" r="3.75"/><circle cx="1325.2" cy="730.3" r="3.75"/><circle cx="1420.4" cy="800.5" r="3.75"/><circle cx="1378.2" cy="721.4" r="3.75"/><circle cx="1363.2" cy="771.5" r="3.75"/><circle cx="1338.0" cy="583.1" r="3.75"/><circle cx="1321.0" cy="816.1" r="3.75"/><circle cx="1297.3" cy="665.2" r="3.75"/><circle cx="1271.2" cy="589.3" r="3.75"/><circle cx="1355.0" cy="593.5" r="3.75"/><circle cx="1378.8" cy="811.8" r="3.75"/><circle cx="1336.2" cy="666.0" r="3.75"/><circle cx="1348.9" cy="632.6" r="3.75"/><circle cx="1455.5" cy="787.1" r="3.75"/><circle cx="1303.0" cy="672.0" r="3.75"/><circle cx="1285.1" cy="686.7" r="3.75"/><circle cx="1404.1" cy="839.9" r="3.75"/><circle cx="1262.1" cy="740.4" r="3.75"/><circle cx="1386.2" cy="669.6" r="3.75"/><circle cx="1430.3" cy="700.9" r="3.75"/><circle cx="1212.4" cy="613.8" r="3.75"/><circle cx="1238.0" cy="706.5" r="3.75"/><circle cx="1362.6" cy="647.8" r="3.75"/><circle cx="1341.8" cy="620.8" r="3.75"/><circle cx="1383.3" cy="674.4" r="3.75"/><circle cx="1247.2" cy="801.2" r="3.75"/><circle cx="1367.8" cy="724.4" r="3.75"/><circle cx="1355.0" cy="616.9" r="3.75"/><circle cx="1305.9" cy="767.9" r="3.75"/><circle cx="1405.3" cy="762.8" r="3.75"/><circle cx="1290.6" cy="665.6" r="3.75"/><circle cx="1299.5" cy="670.3" r="3.75"/><circle cx="1332.7" cy="824.4" r="3.75"/><circle cx="1305.9" cy="698.4" r="3.75"/><circle cx="1297.1" cy="635.1" r="3.75"/><circle cx="1354.6" cy="657.0" r="3.75"/><circle cx="1280.8" cy="662.0" r="3.75"/><circle cx="1263.6" cy="610.9" r="3.75"/><circle cx="1328.8" cy="717.2" r="3.75"/><circle cx="1312.2" cy="639.1" r="3.75"/><circle cx="1363.2" cy="727.3" r="3.75"/><circle cx="1314.1" cy="730.3" r="3.75"/><circle cx="1338.7" cy="652.3" r="3.75"/><circle cx="1376.6" cy="717.0" r="3.75"/><circle cx="1358.4" cy="743.7" r="3.75"/><circle cx="1426.3" cy="668.3" r="3.75"/><circle cx="1227.7" cy="625.1" r="3.75"/><circle cx="1296.4" cy="772.1" r="3.75"/><circle cx="1353.0" cy="594.6" r="3.75"/><circle cx="1370.9" cy="652.2" r="3.75"/><circle cx="1321.0" cy="688.9" r="3.75"/><circle cx="1315.4" cy="780.6" r="3.75"/><circle cx="1302.4" cy="616.5" r="3.75"/><circle cx="1387.8" cy="718.8" r="3.75"/><circle cx="1348.7" cy="625.5" r="3.75"/><circle cx="1444.1" cy="732.7" r="3.75"/><circle cx="1298.3" cy="611.4" r="3.75"/><circle cx="1335.4" cy="749.4" r="3.75"/><circle cx="1268.7" cy="684.2" r="3.75"/><circle cx="1321.0" cy="784.5" r="3.75"/><circle cx="1385.9" cy="840.4" r="3.75"/><circle cx="1321.0" cy="825.3" r="3.75"/><circle cx="1276.2" cy="804.3" r="3.75"/><circle cx="1385.9" cy="675.9" r="3.75"/><circle cx="1270.1" cy="740.1" r="3.75"/><circle cx="1288.8" cy="702.1" r="3.75"/><circle cx="1350.1" cy="638.9" r="3.75"/><circle cx="1324.9" cy="647.9" r="3.75"/><circle cx="1436.3" cy="676.4" r="3.75"/><circle cx="1385.9" cy="654.9" r="3.75"/><circle cx="1287.5" cy="643.9" r="3.75"/><circle cx="1373.9" cy="671.7" r="3.75"/><circle cx="1383.3" cy="762.8" r="3.75"/><circle cx="1216.4" cy="619.1" r="3.75"/><circle cx="1341.8" cy="820.9" r="3.75"/><circle cx="1275.4" cy="604.6" r="3.75"/><circle cx="1292.3" cy="614.2" r="3.75"/><circle cx="1302.7" cy="638.4" r="3.75"/><circle cx="1360.0" cy="742.2" r="3.75"/><circle cx="1350.9" cy="639.6" r="3.75"/><circle cx="1298.3" cy="720.1" r="3.75"/><circle cx="1303.3" cy="667.7" r="3.75"/><circle cx="1306.1" cy="636.2" r="3.75"/><circle cx="1315.7" cy="626.9" r="3.75"/><circle cx="1338.7" cy="746.2" r="3.75"/><circle cx="1309.6" cy="815.9" r="3.75"/><circle cx="1291.6" cy="713.3" r="3.75"/><circle cx="1308.6" cy="673.2" r="3.75"/><circle cx="1334.9" cy="730.3" r="3.75"/><circle cx="1459.1" cy="689.8" r="3.75"/><circle cx="1369.8" cy="775.5" r="3.75"/><circle cx="1369.1" cy="778.8" r="3.75"/><circle cx="1361.3" cy="672.1" r="3.75"/><circle cx="1340.1" cy="784.4" r="3.75"/><circle cx="1223.6" cy="659.9" r="3.75"/><circle cx="1230.0" cy="595.5" r="3.75"/><circle cx="1348.9" cy="621.7" r="3.75"/><circle cx="1363.5" cy="780.6" r="3.75"/><circle cx="1236.1" cy="621.5" r="3.75"/><circle cx="1266.6" cy="795.8" r="3.75"/><circle cx="1377.5" cy="725.5" r="3.75"/><circle cx="1354.6" cy="696.6" r="3.75"/><circle cx="1288.1" cy="672.1" r="3.75"/><circle cx="1299.3" cy="665.6" r="3.75"/><circle cx="1333.0" cy="632.6" r="3.75"/><circle cx="1354.0" cy="799.8" r="3.75"/><circle cx="1333.0" cy="661.8" r="3.75"/><circle cx="1419.5" cy="774.4" r="3.75"/><circle cx="1379.4" cy="760.1" r="3.75"/><circle cx="1306.1" cy="615.6" r="3.75"/><circle cx="1258.8" cy="770.8" r="3.75"/><circle cx="1280.4" cy="689.8" r="3.75"/><circle cx="1396.6" cy="840.6" r="3.75"/><circle cx="1304.1" cy="671.5" r="3.75"/><circle cx="1380.8" cy="739.1" r="3.75"/><circle cx="1288.5" cy="637.5" r="3.75"/><circle cx="1285.7" cy="749.4" r="3.75"/><circle cx="1399.7" cy="668.2" r="3.75"/><circle cx="1366.7" cy="646.5" r="3.75"/><circle cx="1273.3" cy="609.8" r="3.75"/><circle cx="1358.4" cy="687.0" r="3.75"/><circle cx="1412.3" cy="789.3" r="3.75"/><circle cx="1297.1" cy="621.9" r="3.75"/><circle cx="1308.6" cy="699.9" r="3.75"/><circle cx="1428.8" cy="742.8" r="3.75"/><circle cx="1345.4" cy="600.3" r="3.75"/><circle cx="1429.7" cy="721.5" r="3.75"/><circle cx="1416.7" cy="803.8" r="3.75"/><circle cx="1321.0" cy="681.5" r="3.75"/><circle cx="1372.0" cy="726.0" r="3.75"/><circle cx="1321.0" cy="676.8" r="3.75"/><circle cx="1396.6" cy="658.2" r="3.75"/><circle cx="1271.2" cy="697.9" r="3.75"/><circle cx="1403.2" cy="622.5" r="3.75"/><circle cx="1366.1" cy="613.4" r="3.75"/><circle cx="1466.3" cy="707.5" r="3.75"/><circle cx="1338.0" cy="603.9" r="3.75"/><circle cx="1373.4" cy="660.2" r="3.75"/><circle cx="1303.4" cy="610.3" r="3.75"/><circle cx="1279.1" cy="801.9" r="3.75"/><circle cx="1383.3" cy="736.7" r="3.75"/><circle cx="1304.8" cy="645.0" r="3.75"/><circle cx="1326.4" cy="710.2" r="3.75"/><circle cx="1299.1" cy="749.4" r="3.75"/><circle cx="1419.9" cy="628.3" r="3.75"/><circle cx="1304.1" cy="613.0" r="3.75"/><circle cx="1313.6" cy="742.5" r="3.75"/><circle cx="1300.3" cy="600.1" r="3.75"/><circle cx="1378.8" cy="655.8" r="3.75"/><circle cx="1332.0" cy="699.0" r="3.75"/><circle cx="1346.0" cy="732.2" r="3.75"/><circle cx="1312.2" cy="626.9" r="3.75"/><circle cx="1218.6" cy="644.3" r="3.75"/><circle cx="1321.0" cy="799.0" r="3.75"/><circle cx="1388.6" cy="683.7" r="3.75"/><circle cx="1278.8" cy="567.6" r="3.75"/><circle cx="1287.4" cy="567.6" r="3.75"/><circle cx="1297.5" cy="567.6" r="3.75"/><circle cx="1482.1" cy="795.7" r="3.75"/><circle cx="1457.0" cy="795.7" r="3.75"/><circle cx="1461.5" cy="782.0" r="3.75"/>
</g>
<path d="M1115.4 517.25V874.9M1113.9 873.4H1527.5" stroke="#000" stroke-width="3" fill="none"/>
<path d="M1134.25 873.4V882.2" stroke="#000" stroke-width="3"/>
<text x="1134.25" y="912.7" font-size="31.2" text-anchor="middle">0.00</text>
<path d="M1227.65 873.4V882.2" stroke="#000" stroke-width="3"/>
<text x="1227.65" y="912.7" font-size="31.2" text-anchor="middle">0.25</text>
<path d="M1321.05 873.4V882.2" stroke="#000" stroke-width="3"/>
<text x="1321.05" y="912.7" font-size="31.2" text-anchor="middle">0.50</text>
<path d="M1414.45 873.4V882.2" stroke="#000" stroke-width="3"/>
<text x="1414.45" y="912.7" font-size="31.2" text-anchor="middle">0.75</text>
<path d="M1507.85 873.4V882.2" stroke="#000" stroke-width="3"/>
<text x="1507.85" y="912.7" font-size="31.2" text-anchor="middle">1.00</text>
<path d="M1106.2 835.15H1115.4" stroke="#000" stroke-width="3"/>
<text x="1096.9" y="845.95" font-size="31.2" text-anchor="end">0.5</text>
<path d="M1106.2 749.4H1115.4" stroke="#000" stroke-width="3"/>
<text x="1096.9" y="760.2" font-size="31.2" text-anchor="end">1.0</text>
<path d="M1106.2 663.65H1115.4" stroke="#000" stroke-width="3"/>
<text x="1096.9" y="674.45" font-size="31.2" text-anchor="end">1.5</text>
<path d="M1106.2 577.9H1115.4" stroke="#000" stroke-width="3"/>
<text x="1096.9" y="588.7" font-size="31.2" text-anchor="end">2.0</text>
<text x="1321.05" y="954.1" font-size="36" text-anchor="middle">O/C</text>
<text transform="translate(1038.3 696.93) rotate(-90)" font-size="36" text-anchor="middle">H/C</text>
<text x="1114.7" y="492.6" font-size="41" font-weight="bold">d</text>
</g>
<g id="panel-e">
<g fill="#c878b0">
<circle cx="1842.1" cy="752.9" r="3.75"/><circle cx="1717.4" cy="620.0" r="3.75"/><circle cx="1860.8" cy="833.3" r="3.75"/><circle cx="1688.3" cy="631.0" r="3.75"/><circle cx="1715.0" cy="635.1" r="3.75"/><circle cx="1685.7" cy="594.7" r="3.75"/><circle cx="1728.9" cy="670.0" r="3.75"/><circle cx="1737.7" cy="645.5" r="3.75"/><circle cx="1811.3" cy="835.1" r="3.75"/><circle cx="1708.1" cy="616.0" r="3.75"/><circle cx="1772.7" cy="841.4" r="3.75"/><circle cx="1725.0" cy="660.2" r="3.75"/><circle cx="1762.4" cy="595.0" r="3.75"/><circle cx="1717.4" cy="577.9" r="3.75"/><circle cx="1851.2" cy="737.4" r="3.75"/><circle cx="1754.0" cy="688.7" r="3.75"/><circle cx="1722.8" cy="652.9" r="3.75"/><circle cx="1701.6" cy="703.0" r="3.75"/><circle cx="1816.9" cy="609.1" r="3.75"/><circle cx="1837.2" cy="849.7" r="3.75"/><circle cx="1722.8" cy="577.9" r="3.75"/><circle cx="1750.6" cy="592.6" r="3.75"/><circle cx="1686.1" cy="601.8" r="3.75"/><circle cx="1753.5" cy="680.8" r="3.75"/><circle cx="1822.4" cy="696.2" r="3.75"/><circle cx="1884.0" cy="729.0" r="3.75"/><circle cx="1754.5" cy="611.4" r="3.75"/><circle cx="1746.9" cy="705.5" r="3.75"/><circle cx="1700.4" cy="692.2" r="3.75"/><circle cx="1697.2" cy="594.2" r="3.75"/><circle cx="1669.5" cy="643.9" r="3.75"/><circle cx="1762.2" cy="740.1" r="3.75"/><circle cx="1753.4" cy="758.2" r="3.75"/><circle cx="1718.9" cy="706.5" r="3.75"/><circle cx="1758.6" cy="629.4" r="3.75"/><circle cx="1678.4" cy="628.3" r="3.75"/><circle cx="1720.8" cy="645.7" r="3.75"/><circle cx="1746.2" cy="695.8" r="3.75"/><circle cx="1755.7" cy="584.5" r="3.75"/><circle cx="1756.5" cy="620.8" r="3.75"/><circle cx="1737.7" cy="666.3" r="3.75"/><circle cx="1899.4" cy="815.4" r="3.75"/><circle cx="1757.4" cy="753.1" r="3.75"/><circle cx="1695.1" cy="588.2" r="3.75"/><circle cx="1701.8" cy="709.3" r="3.75"/><circle cx="1723.9" cy="647.3" r="3.75"/><circle cx="1710.4" cy="668.5" r="3.75"/><circle cx="1715.0" cy="612.2" r="3.75"/><circle cx="1853.7" cy="706.5" r="3.75"/><circle cx="1858.4" cy="781.8" r="3.75"/><circle cx="1689.6" cy="602.4" r="3.75"/><circle cx="1704.2" cy="637.5" r="3.75"/><circle cx="1741.4" cy="663.6" r="3.75"/><circle cx="1690.7" cy="649.0" r="3.75"/><circle cx="1738.4" cy="592.2" r="3.75"/><circle cx="1746.2" cy="611.2" r="3.75"/><circle cx="1722.8" cy="731.5" r="3.75"/><circle cx="1705.5" cy="714.2" r="3.75"/><circle cx="1841.8" cy="606.0" r="3.75"/><circle cx="1718.1" cy="586.3" r="3.75"/><circle cx="1723.9" cy="631.0" r="3.75"/><circle cx="1720.8" cy="613.8" r="3.75"/><circle cx="1763.6" cy="841.4" r="3.75"/><circle cx="1707.2" cy="733.3" r="3.75"/><circle cx="1689.2" cy="623.2" r="3.75"/><circle cx="1743.3" cy="613.0" r="3.75"/><circle cx="1802.2" cy="743.7" r="3.75"/><circle cx="1743.0" cy="605.9" r="3.75"/><circle cx="1704.7" cy="654.1" r="3.75"/><circle cx="1749.6" cy="641.4" r="3.75"/><circle cx="1787.5" cy="843.0" r="3.75"/><circle cx="1754.0" cy="645.8" r="3.75"/><circle cx="1665.2" cy="599.3" r="3.75"/><circle cx="1723.4" cy="600.8" r="3.75"/><circle cx="1752.9" cy="604.0" r="3.75"/><circle cx="1746.2" cy="592.2" r="3.75"/><circle cx="1754.5" cy="808.0" r="3.75"/><circle cx="1878.5" cy="735.1" r="3.75"/><circle cx="1747.4" cy="677.4" r="3.75"/><circle cx="1795.6" cy="658.6" r="3.75"/><circle cx="1696.2" cy="594.1" r="3.75"/><circle cx="1731.6" cy="627.4" r="3.75"/><circle cx="1781.0" cy="648.5" r="3.75"/><circle cx="1769.2" cy="745.7" r="3.75"/><circle cx="1739.9" cy="581.0" r="3.75"/><circle cx="1802.6" cy="777.2" r="3.75"/><circle cx="1690.1" cy="661.7" r="3.75"/><circle cx="1822.1" cy="691.1" r="3.75"/><circle cx="1830.0" cy="705.4" r="3.75"/><circle cx="1722.3" cy="581.3" r="3.75"/><circle cx="1725.4" cy="673.2" r="3.75"/><circle cx="1693.6" cy="577.9" r="3.75"/><circle cx="1712.8" cy="577.9" r="3.75"/><circle cx="1687.4" cy="593.8" r="3.75"/><circle cx="1826.9" cy="777.4" r="3.75"/><circle cx="1752.6" cy="794.7" r="3.75"/><circle cx="1759.2" cy="738.3" r="3.75"/><circle cx="1686.3" cy="670.3" r="3.75"/><circle cx="1777.3" cy="582.0" r="3.75"/><circle cx="1777.3" cy="810.6" r="3.75"/><circle cx="1687.4" cy="616.0" r="3.75"/><circle cx="1732.5" cy="591.6" r="3.75"/><circle cx="1757.4" cy="672.8" r="3.75"/><circle cx="1785.4" cy="686.0" r="3.75"/><circle cx="1755.7" cy="719.7" r="3.75"/><circle cx="1726.3" cy="635.1" r="3.75"/><circle cx="1817.3" cy="816.8" r="3.75"/><circle cx="1742.0" cy="605.7" r="3.75"/><circle cx="1893.6" cy="704.1" r="3.75"/><circle cx="1723.9" cy="582.0" r="3.75"/><circle cx="1735.1" cy="633.2" r="3.75"/><circle cx="1798.1" cy="688.4" r="3.75"/><circle cx="1737.0" cy="732.6" r="3.75"/><circle cx="1754.9" cy="732.2" r="3.75"/><circle cx="1745.6" cy="678.2" r="3.75"/><circle cx="1751.8" cy="609.1" r="3.75"/><circle cx="1855.1" cy="620.8" r="3.75"/><circle cx="1706.0" cy="646.5" r="3.75"/><circle cx="1777.3" cy="842.3" r="3.75"/><circle cx="1681.8" cy="638.9" r="3.75"/><circle cx="1726.3" cy="613.0" r="3.75"/><circle cx="1704.9" cy="598.9" r="3.75"/><circle cx="1701.2" cy="654.1" r="3.75"/><circle cx="1727.2" cy="644.8" r="3.75"/><circle cx="1825.3" cy="837.6" r="3.75"/><circle cx="1725.4" cy="592.2" r="3.75"/><circle cx="1773.3" cy="815.1" r="3.75"/><circle cx="1746.2" cy="649.4" r="3.75"/><circle cx="1741.4" cy="581.2" r="3.75"/><circle cx="1812.9" cy="622.8" r="3.75"/><circle cx="1715.0" cy="718.9" r="3.75"/><circle cx="1762.2" cy="735.5" r="3.75"/><circle cx="1739.9" cy="606.0" r="3.75"/><circle cx="1836.9" cy="815.1" r="3.75"/><circle cx="1849.9" cy="792.3" r="3.75"/><circle cx="1752.9" cy="715.8" r="3.75"/><circle cx="1744.3" cy="699.0" r="3.75"/><circle cx="1712.8" cy="724.4" r="3.75"/><circle cx="1736.7" cy="719.6" r="3.75"/><circle cx="1731.5" cy="577.9" r="3.75"/><circle cx="1699.2" cy="602.9" r="3.75"/><circle cx="1717.4" cy="584.4" r="3.75"/><circle cx="1799.0" cy="841.1" r="3.75"/><circle cx="1732.8" cy="643.2" r="3.75"/><circle cx="1737.0" cy="638.4" r="3.75"/><circle cx="1798.9" cy="772.5" r="3.75"/><circle cx="1704.7" cy="577.9" r="3.75"/><circle cx="1752.0" cy="638.2" r="3.75"/><circle cx="1788.3" cy="621.6" r="3.75"/><circle cx="1718.9" cy="594.0" r="3.75"/><circle cx="1735.8" cy="581.1" r="3.75"/><circle cx="1903.0" cy="671.5" r="3.75"/><circle cx="1715.0" cy="649.4" r="3.75"/><circle cx="1735.4" cy="717.9" r="3.75"/><circle cx="1726.3" cy="593.5" r="3.75"/><circle cx="1682.0" cy="644.4" r="3.75"/><circle cx="1735.8" cy="714.5" r="3.75"/><circle cx="1743.8" cy="595.5" r="3.75"/><circle cx="1742.7" cy="720.8" r="3.75"/><circle cx="1839.6" cy="806.6" r="3.75"/><circle cx="1708.1" cy="577.9" r="3.75"/><circle cx="1807.2" cy="797.4" r="3.75"/><circle cx="1746.9" cy="645.7" r="3.75"/><circle cx="1687.6" cy="577.9" r="3.75"/><circle cx="1733.6" cy="577.9" r="3.75"/><circle cx="1725.6" cy="632.6" r="3.75"/><circle cx="1759.5" cy="631.0" r="3.75"/><circle cx="1704.7" cy="582.7" r="3.75"/><circle cx="1739.9" cy="690.1" r="3.75"/><circle cx="1710.6" cy="626.9" r="3.75"/><circle cx="1722.3" cy="688.9" r="3.75"/><circle cx="1678.8" cy="662.1" r="3.75"/><circle cx="1722.3" cy="672.1" r="3.75"/><circle cx="1682.1" cy="594.1" r="3.75"/><circle cx="1734.2" cy="683.4" r="3.75"/><circle cx="1826.9" cy="679.4" r="3.75"/><circle cx="1868.5" cy="637.7" r="3.75"/><circle cx="1728.9" cy="606.5" r="3.75"/><circle cx="1723.9" cy="584.0" r="3.75"/><circle cx="1733.4" cy="618.3" r="3.75"/><circle cx="1892.9" cy="831.1" r="3.75"/><circle cx="1894.9" cy="679.5" r="3.75"/><circle cx="1693.2" cy="680.8" r="3.75"/><circle cx="1661.7" cy="651.4" r="3.75"/><circle cx="1691.1" cy="624.1" r="3.75"/><circle cx="1710.1" cy="732.2" r="3.75"/><circle cx="1837.1" cy="773.4" r="3.75"/><circle cx="1750.6" cy="591.9" r="3.75"/><circle cx="1804.0" cy="682.9" r="3.75"/><circle cx="1755.6" cy="765.3" r="3.75"/><circle cx="1674.4" cy="644.4" r="3.75"/><circle cx="1702.6" cy="583.6" r="3.75"/><circle cx="1745.1" cy="696.2" r="3.75"/><circle cx="1747.2" cy="633.2" r="3.75"/><circle cx="1722.0" cy="635.1" r="3.75"/><circle cx="1738.4" cy="581.5" r="3.75"/><circle cx="1725.0" cy="605.3" r="3.75"/><circle cx="1852.8" cy="658.2" r="3.75"/><circle cx="1816.1" cy="781.8" r="3.75"/><circle cx="1731.6" cy="619.8" r="3.75"/><circle cx="1721.3" cy="629.4" r="3.75"/><circle cx="1777.3" cy="808.8" r="3.75"/><circle cx="1712.3" cy="596.5" r="3.75"/><circle cx="1794.3" cy="671.5" r="3.75"/><circle cx="1820.4" cy="701.0" r="3.75"/><circle cx="1687.6" cy="581.3" r="3.75"/><circle cx="1865.0" cy="616.4" r="3.75"/><circle cx="1756.5" cy="644.6" r="3.75"/><circle cx="1848.6" cy="799.3" r="3.75"/><circle cx="1722.8" cy="674.4" r="3.75"/><circle cx="1770.4" cy="752.6" r="3.75"/><circle cx="1680.4" cy="641.4" r="3.75"/><circle cx="1700.4" cy="641.8" r="3.75"/><circle cx="1722.3" cy="655.2" r="3.75"/><circle cx="1809.5" cy="796.7" r="3.75"/><circle cx="1748.6" cy="650.5" r="3.75"/><circle cx="1739.9" cy="602.9" r="3.75"/><circle cx="1752.6" cy="613.5" r="3.75"/><circle cx="1799.7" cy="845.4" r="3.75"/><circle cx="1715.0" cy="574.1" r="3.75"/><circle cx="1721.3" cy="616.5" r="3.75"/><circle cx="1845.6" cy="653.2" r="3.75"/><circle cx="1794.3" cy="690.9" r="3.75"/><circle cx="1773.5" cy="686.4" r="3.75"/><circle cx="1717.4" cy="652.3" r="3.75"/><circle cx="1826.9" cy="637.4" r="3.75"/><circle cx="1679.5" cy="618.7" r="3.75"/><circle cx="1749.6" cy="606.5" r="3.75"/><circle cx="1738.5" cy="577.9" r="3.75"/><circle cx="1839.6" cy="639.8" r="3.75"/><circle cx="1726.3" cy="746.3" r="3.75"/><circle cx="1699.9" cy="577.9" r="3.75"/><circle cx="1720.1" cy="668.9" r="3.75"/><circle cx="1753.4" cy="635.1" r="3.75"/><circle cx="1693.2" cy="685.1" r="3.75"/><circle cx="1765.4" cy="698.3" r="3.75"/><circle cx="1699.2" cy="627.8" r="3.75"/><circle cx="1743.0" cy="787.9" r="3.75"/><circle cx="1703.4" cy="637.7" r="3.75"/><circle cx="1857.4" cy="729.0" r="3.75"/><circle cx="1823.1" cy="704.1" r="3.75"/><circle cx="1718.3" cy="699.8" r="3.75"/><circle cx="1762.2" cy="610.3" r="3.75"/><circle cx="1720.8" cy="633.7" r="3.75"/><circle cx="1754.5" cy="632.3" r="3.75"/><circle cx="1715.0" cy="592.2" r="3.75"/><circle cx="1757.6" cy="596.0" r="3.75"/><circle cx="1814.7" cy="620.8" r="3.75"/><circle cx="1723.9" cy="669.8" r="3.75"/><circle cx="1706.7" cy="707.5" r="3.75"/><circle cx="1732.5" cy="615.6" r="3.75"/><circle cx="1755.3" cy="598.1" r="3.75"/><circle cx="1747.4" cy="718.5" r="3.75"/><circle cx="1749.5" cy="625.3" r="3.75"/><circle cx="1791.7" cy="762.6" r="3.75"/><circle cx="1763.6" cy="577.9" r="3.75"/><circle cx="1745.6" cy="639.4" r="3.75"/><circle cx="1721.8" cy="652.1" r="3.75"/><circle cx="1742.3" cy="615.4" r="3.75"/><circle cx="1734.2" cy="648.3" r="3.75"/><circle cx="1809.0" cy="623.2" r="3.75"/><circle cx="1704.2" cy="641.3" r="3.75"/><circle cx="1746.2" cy="731.5" r="3.75"/><circle cx="1700.4" cy="675.4" r="3.75"/><circle cx="1695.9" cy="670.3" r="3.75"/><circle cx="1735.8" cy="601.7" r="3.75"/><circle cx="1855.9" cy="591.4" r="3.75"/><circle cx="1722.3" cy="611.5" r="3.75"/><circle cx="1842.3" cy="674.8" r="3.75"/><circle cx="1765.4" cy="621.7" r="3.75"/><circle cx="1745.4" cy="603.0" r="3.75"/><circle cx="1760.3" cy="599.7" r="3.75"/><circle cx="1802.8" cy="632.5" r="3.75"/><circle cx="1722.0" cy="685.9" r="3.75"/><circle cx="1710.6" cy="577.9" r="3.75"/><circle cx="1723.4" cy="718.9" r="3.75"/><circle cx="1793.3" cy="666.1" r="3.75"/><circle cx="1692.4" cy="619.5" r="3.75"/><circle cx="1755.7" cy="752.7" r="3.75"/><circle cx="1739.9" cy="734.2" r="3.75"/><circle cx="1759.5" cy="671.8" r="3.75"/><circle cx="1715.0" cy="614.3" r="3.75"/><circle cx="1663.1" cy="606.5" r="3.75"/><circle cx="1863.5" cy="653.8" r="3.75"/><circle cx="1782.1" cy="727.4" r="3.75"/><circle cx="1711.7" cy="633.5" r="3.75"/><circle cx="1679.8" cy="648.7" r="3.75"/><circle cx="1691.5" cy="605.7" r="3.75"/><circle cx="1715.0" cy="657.0" r="3.75"/><circle cx="1695.9" cy="643.9" r="3.75"/><circle cx="1719.6" cy="627.8" r="3.75"/><circle cx="1754.9" cy="653.4" r="3.75"/><circle cx="1712.3" cy="693.5" r="3.75"/><circle cx="1727.0" cy="587.8" r="3.75"/><circle cx="1688.0" cy="615.2" r="3.75"/><circle cx="1729.3" cy="671.0" r="3.75"/><circle cx="1702.6" cy="676.5" r="3.75"/><circle cx="1736.3" cy="636.5" r="3.75"/><circle cx="1738.2" cy="569.9" r="3.75"/><circle cx="1794.9" cy="772.1" r="3.75"/><circle cx="1756.5" cy="623.6" r="3.75"/><circle cx="1727.7" cy="577.9" r="3.75"/><circle cx="1739.9" cy="582.8" r="3.75"/><circle cx="1742.0" cy="675.2" r="3.75"/><circle cx="1872.8" cy="696.0" r="3.75"/><circle cx="1784.2" cy="590.6" r="3.75"/><circle cx="1737.3" cy="663.6" r="3.75"/><circle cx="1683.9" cy="646.5" r="3.75"/><circle cx="1719.8" cy="594.4" r="3.75"/><circle cx="1745.6" cy="694.4" r="3.75"/><circle cx="1816.1" cy="853.0" r="3.75"/><circle cx="1743.3" cy="632.5" r="3.75"/><circle cx="1701.6" cy="652.1" r="3.75"/><circle cx="1708.5" cy="577.9" r="3.75"/><circle cx="1857.4" cy="646.5" r="3.75"/><circle cx="1783.3" cy="638.7" r="3.75"/><circle cx="1728.6" cy="730.8" r="3.75"/><circle cx="1798.9" cy="676.8" r="3.75"/><circle cx="1770.4" cy="774.8" r="3.75"/><circle cx="1741.7" cy="675.9" r="3.75"/><circle cx="1835.0" cy="596.6" r="3.75"/><circle cx="1855.1" cy="742.2" r="3.75"/><circle cx="1847.3" cy="624.3" r="3.75"/><circle cx="1699.2" cy="677.7" r="3.75"/><circle cx="1761.3" cy="597.5" r="3.75"/><circle cx="1852.0" cy="830.9" r="3.75"/><circle cx="1837.2" cy="794.7" r="3.75"/><circle cx="1712.6" cy="607.6" r="3.75"/><circle cx="1686.3" cy="591.1" r="3.75"/><circle cx="1777.3" cy="680.1" r="3.75"/><circle cx="1788.7" cy="595.4" r="3.75"/><circle cx="1746.7" cy="634.0" r="3.75"/><circle cx="1755.3" cy="754.4" r="3.75"/><circle cx="1699.0" cy="627.7" r="3.75"/><circle cx="1702.6" cy="590.8" r="3.75"/><circle cx="1690.1" cy="627.4" r="3.75"/><circle cx="1862.2" cy="652.7" r="3.75"/><circle cx="1702.6" cy="673.9" r="3.75"/><circle cx="1725.0" cy="718.5" r="3.75"/><circle cx="1777.3" cy="682.3" r="3.75"/><circle cx="1824.0" cy="806.6" r="3.75"/><circle cx="1829.6" cy="794.0" r="3.75"/><circle cx="1759.2" cy="627.7" r="3.75"/><circle cx="1711.4" cy="577.9" r="3.75"/><circle cx="1697.2" cy="609.4" r="3.75"/><circle cx="1759.7" cy="597.3" r="3.75"/><circle cx="1746.2" cy="595.8" r="3.75"/><circle cx="1843.6" cy="699.6" r="3.75"/><circle cx="1712.1" cy="573.9" r="3.75"/><circle cx="1757.4" cy="654.5" r="3.75"/><circle cx="1754.9" cy="636.2" r="3.75"/><circle cx="1846.1" cy="695.2" r="3.75"/><circle cx="1788.3" cy="662.0" r="3.75"/><circle cx="1863.1" cy="805.0" r="3.75"/><circle cx="1715.0" cy="619.5" r="3.75"/><circle cx="1749.0" cy="697.4" r="3.75"/><circle cx="1694.3" cy="639.8" r="3.75"/><circle cx="1805.3" cy="796.6" r="3.75"/><circle cx="1706.7" cy="589.3" r="3.75"/><circle cx="1782.3" cy="851.4" r="3.75"/><circle cx="1733.1" cy="655.8" r="3.75"/><circle cx="1715.0" cy="699.4" r="3.75"/><circle cx="1688.3" cy="586.1" r="3.75"/><circle cx="1689.6" cy="609.4" r="3.75"/><circle cx="1712.3" cy="607.7" r="3.75"/><circle cx="1777.3" cy="730.3" r="3.75"/><circle cx="1777.3" cy="611.5" r="3.75"/><circle cx="1728.6" cy="667.4" r="3.75"/><circle cx="1762.2" cy="587.2" r="3.75"/><circle cx="1766.7" cy="814.1" r="3.75"/><circle cx="1805.3" cy="676.5" r="3.75"/><circle cx="1748.6" cy="614.2" r="3.75"/><circle cx="1695.9" cy="595.5" r="3.75"/><circle cx="1689.4" cy="588.0" r="3.75"/><circle cx="1706.0" cy="596.6" r="3.75"/><circle cx="1772.0" cy="729.8" r="3.75"/><circle cx="1745.6" cy="594.1" r="3.75"/><circle cx="1701.2" cy="587.4" r="3.75"/><circle cx="1721.8" cy="624.3" r="3.75"/><circle cx="1788.7" cy="717.9" r="3.75"/><circle cx="1744.3" cy="719.1" r="3.75"/><circle cx="1728.1" cy="659.1" r="3.75"/><circle cx="1688.8" cy="650.1" r="3.75"/><circle cx="1704.7" cy="711.3" r="3.75"/><circle cx="1741.4" cy="617.5" r="3.75"/><circle cx="1722.8" cy="613.6" r="3.75"/><circle cx="1749.6" cy="597.0" r="3.75"/><circle cx="1723.4" cy="635.1" r="3.75"/><circle cx="1762.9" cy="586.7" r="3.75"/><circle cx="1715.0" cy="629.9" r="3.75"/><circle cx="1669.7" cy="609.1" r="3.75"/><circle cx="1896.2" cy="655.8" r="3.75"/><circle cx="1741.7" cy="651.4" r="3.75"/><circle cx="1769.5" cy="795.8" r="3.75"/><circle cx="1742.3" cy="636.9" r="3.75"/><circle cx="1701.6" cy="610.3" r="3.75"/><circle cx="1699.5" cy="652.9" r="3.75"/><circle cx="1715.0" cy="629.4" r="3.75"/><circle cx="1816.1" cy="600.6" r="3.75"/><circle cx="1758.0" cy="749.4" r="3.75"/><circle cx="1759.5" cy="839.2" r="3.75"/><circle cx="1825.3" cy="724.9" r="3.75"/><circle cx="1721.3" cy="603.6" r="3.75"/><circle cx="1677.9" cy="665.5" r="3.75"/><circle cx="1727.2" cy="657.4" r="3.75"/><circle cx="1735.4" cy="616.4" r="3.75"/><circle cx="1683.9" cy="652.0" r="3.75"/><circle cx="1700.4" cy="613.2" r="3.75"/><circle cx="1758.6" cy="603.6" r="3.75"/><circle cx="1742.0" cy="791.1" r="3.75"/><circle cx="1767.1" cy="715.1" r="3.75"/><circle cx="1712.1" cy="713.5" r="3.75"/><circle cx="1696.2" cy="626.4" r="3.75"/><circle cx="1709.0" cy="586.3" r="3.75"/><circle cx="1719.3" cy="577.9" r="3.75"/><circle cx="1771.6" cy="707.8" r="3.75"/><circle cx="1830.7" cy="631.0" r="3.75"/><circle cx="1735.1" cy="589.0" r="3.75"/><circle cx="1832.6" cy="746.2" r="3.75"/><circle cx="1777.3" cy="735.1" r="3.75"/><circle cx="1718.1" cy="703.4" r="3.75"/><circle cx="1857.4" cy="816.8" r="3.75"/><circle cx="1690.1" cy="629.4" r="3.75"/><circle cx="1738.2" cy="641.7" r="3.75"/><circle cx="1692.4" cy="598.7" r="3.75"/><circle cx="1824.9" cy="682.1" r="3.75"/><circle cx="1731.5" cy="639.4" r="3.75"/><circle cx="1712.6" cy="653.8" r="3.75"/><circle cx="1817.6" cy="611.5" r="3.75"/><circle cx="1702.6" cy="600.8" r="3.75"/><circle cx="1730.6" cy="617.2" r="3.75"/><circle cx="1755.7" cy="676.8" r="3.75"/><circle cx="1743.0" cy="647.9" r="3.75"/><circle cx="1830.2" cy="629.7" r="3.75"/><circle cx="1743.0" cy="612.9" r="3.75"/><circle cx="1708.5" cy="623.0" r="3.75"/><circle cx="1678.8" cy="590.4" r="3.75"/><circle cx="1738.2" cy="741.4" r="3.75"/><circle cx="1720.8" cy="701.5" r="3.75"/><circle cx="1685.6" cy="577.9" r="3.75"/><circle cx="1709.7" cy="731.2" r="3.75"/><circle cx="1707.7" cy="672.1" r="3.75"/><circle cx="1735.1" cy="644.3" r="3.75"/><circle cx="1690.7" cy="577.9" r="3.75"/><circle cx="1703.3" cy="603.8" r="3.75"/><circle cx="1691.5" cy="652.1" r="3.75"/><circle cx="1866.6" cy="842.6" r="3.75"/><circle cx="1681.4" cy="628.9" r="3.75"/><circle cx="1756.5" cy="822.4" r="3.75"/><circle cx="1777.3" cy="733.8" r="3.75"/><circle cx="1689.2" cy="616.7" r="3.75"/><circle cx="1727.2" cy="623.9" r="3.75"/><circle cx="1700.4" cy="638.4" r="3.75"/><circle cx="1833.8" cy="837.1" r="3.75"/><circle cx="1820.4" cy="614.2" r="3.75"/><circle cx="1798.1" cy="744.6" r="3.75"/><circle cx="1754.9" cy="824.9" r="3.75"/><circle cx="1738.5" cy="607.0" r="3.75"/><circle cx="1827.6" cy="726.3" r="3.75"/><circle cx="1730.6" cy="731.5" r="3.75"/><circle cx="1680.4" cy="593.8" r="3.75"/><circle cx="1753.5" cy="649.6" r="3.75"/><circle cx="1798.1" cy="661.7" r="3.75"/><circle cx="1683.9" cy="596.3" r="3.75"/><circle cx="1710.4" cy="577.9" r="3.75"/><circle cx="1898.2" cy="756.1" r="3.75"/><circle cx="1715.0" cy="630.7" r="3.75"/><circle cx="1701.6" cy="591.8" r="3.75"/><circle cx="1723.9" cy="577.9" r="3.75"/><circle cx="1806.0" cy="792.3" r="3.75"/><circle cx="1754.5" cy="615.5" r="3.75"/><circle cx="1818.3" cy="661.6" r="3.75"/><circle cx="1739.9" cy="638.9" r="3.75"/><circle cx="1782.1" cy="705.4" r="3.75"/><circle cx="1769.2" cy="715.8" r="3.75"/><circle cx="1755.6" cy="657.7" r="3.75"/><circle cx="1747.4" cy="653.4" r="3.75"/><circle cx="1799.0" cy="809.2" r="3.75"/><circle cx="1681.8" cy="612.2" r="3.75"/><circle cx="1711.4" cy="719.1" r="3.75"/><circle cx="1735.4" cy="637.4" r="3.75"/><circle cx="1731.9" cy="703.0" r="3.75"/><circle cx="1836.9" cy="607.1" r="3.75"/><circle cx="1769.2" cy="645.0" r="3.75"/><circle cx="1746.2" cy="627.9" r="3.75"/><circle cx="1718.3" cy="632.1" r="3.75"/><circle cx="1722.8" cy="649.4" r="3.75"/><circle cx="1690.7" cy="582.1" r="3.75"/><circle cx="1735.4" cy="672.4" r="3.75"/><circle cx="1717.9" cy="726.0" r="3.75"/><circle cx="1700.4" cy="685.5" r="3.75"/><circle cx="1691.7" cy="631.5" r="3.75"/><circle cx="1704.2" cy="577.9" r="3.75"/><circle cx="1696.2" cy="636.1" r="3.75"/><circle cx="1749.5" cy="727.5" r="3.75"/><circle cx="1685.7" cy="658.6" r="3.75"/><circle cx="1839.6" cy="610.6" r="3.75"/><circle cx="1760.3" cy="646.5" r="3.75"/><circle cx="1711.9" cy="723.7" r="3.75"/><circle cx="1791.7" cy="772.5" r="3.75"/><circle cx="1755.6" cy="697.6" r="3.75"/><circle cx="1857.4" cy="812.4" r="3.75"/><circle cx="1766.7" cy="775.3" r="3.75"/><circle cx="1772.7" cy="586.3" r="3.75"/><circle cx="1718.6" cy="587.7" r="3.75"/><circle cx="1712.5" cy="637.4" r="3.75"/><circle cx="1777.3" cy="686.2" r="3.75"/><circle cx="1708.1" cy="689.0" r="3.75"/><circle cx="1777.3" cy="809.4" r="3.75"/><circle cx="1691.7" cy="688.7" r="3.75"/><circle cx="1875.8" cy="690.1" r="3.75"/><circle cx="1756.5" cy="590.6" r="3.75"/><circle cx="1805.0" cy="730.3" r="3.75"/><circle cx="1718.1" cy="715.9" r="3.75"/><circle cx="1703.3" cy="600.6" r="3.75"/><circle cx="1835.7" cy="765.5" r="3.75"/><circle cx="1734.2" cy="686.7" r="3.75"/><circle cx="1754.9" cy="746.0" r="3.75"/><circle cx="1728.1" cy="623.0" r="3.75"/><circle cx="1703.7" cy="666.3" r="3.75"/><circle cx="1869.0" cy="789.9" r="3.75"/><circle cx="1690.1" cy="663.6" r="3.75"/><circle cx="1759.7" cy="755.9" r="3.75"/><circle cx="1772.3" cy="610.3" r="3.75"/><circle cx="1764.9" cy="778.0" r="3.75"/><circle cx="1855.4" cy="599.7" r="3.75"/><circle cx="1801.7" cy="596.5" r="3.75"/><circle cx="1707.9" cy="641.6" r="3.75"/><circle cx="1728.6" cy="674.8" r="3.75"/><circle cx="1708.1" cy="673.2" r="3.75"/><circle cx="1816.4" cy="613.8" r="3.75"/><circle cx="1883.3" cy="647.4" r="3.75"/><circle cx="1781.1" cy="749.4" r="3.75"/><circle cx="1710.1" cy="728.8" r="3.75"/><circle cx="1710.4" cy="613.5" r="3.75"/><circle cx="1764.0" cy="596.3" r="3.75"/><circle cx="1717.5" cy="577.9" r="3.75"/><circle cx="1686.9" cy="688.6" r="3.75"/><circle cx="1842.5" cy="701.5" r="3.75"/><circle cx="1717.9" cy="589.6" r="3.75"/><circle cx="1781.1" cy="787.9" r="3.75"/><circle cx="1751.7" cy="715.8" r="3.75"/><circle cx="1734.2" cy="739.5" r="3.75"/><circle cx="1673.5" cy="647.8" r="3.75"/><circle cx="1791.0" cy="674.1" r="3.75"/><circle cx="1699.5" cy="620.8" r="3.75"/><circle cx="1797.0" cy="609.5" r="3.75"/><circle cx="1860.3" cy="714.5" r="3.75"/><circle cx="1804.0" cy="826.4" r="3.75"/><circle cx="1845.2" cy="839.0" r="3.75"/><circle cx="1784.5" cy="620.8" r="3.75"/><circle cx="1700.4" cy="688.9" r="3.75"/><circle cx="1824.0" cy="860.9" r="3.75"/><circle cx="1718.9" cy="620.8" r="3.75"/><circle cx="1738.2" cy="625.8" r="3.75"/><circle cx="1852.0" cy="633.6" r="3.75"/><circle cx="1773.3" cy="618.0" r="3.75"/><circle cx="1834.8" cy="808.8" r="3.75"/><circle cx="1749.6" cy="600.1" r="3.75"/><circle cx="1723.1" cy="649.8" r="3.75"/><circle cx="1649.2" cy="641.4" r="3.75"/><circle cx="1652.5" cy="663.6" r="3.75"/><circle cx="1714.9" cy="558.5" r="3.75"/><circle cx="1756.4" cy="558.5" r="3.75"/><circle cx="1669.0" cy="715.1" r="3.75"/><circle cx="1678.3" cy="710.0" r="3.75"/><circle cx="1678.3" cy="728.8" r="3.75"/><circle cx="1678.3" cy="789.7" r="3.75"/><circle cx="1688.8" cy="785.9" r="3.75"/><circle cx="1722.4" cy="830.0" r="3.75"/><circle cx="1725.0" cy="835.1" r="3.75"/><circle cx="1739.9" cy="841.2" r="3.75"/>
</g>
<path d="M1571.5 517.25V874.9M1570 873.4H1983.75" stroke="#000" stroke-width="3" fill="none"/>
<path d="M1590.5 873.4V882.2" stroke="#000" stroke-width="3"/>
<text x="1590.5" y="912.7" font-size="31.2" text-anchor="middle">0.00</text>
<path d="M1683.9 873.4V882.2" stroke="#000" stroke-width="3"/>
<text x="1683.9" y="912.7" font-size="31.2" text-anchor="middle">0.25</text>
<path d="M1777.3 873.4V882.2" stroke="#000" stroke-width="3"/>
<text x="1777.3" y="912.7" font-size="31.2" text-anchor="middle">0.50</text>
<path d="M1870.7 873.4V882.2" stroke="#000" stroke-width="3"/>
<text x="1870.7" y="912.7" font-size="31.2" text-anchor="middle">0.75</text>
<path d="M1964.1 873.4V882.2" stroke="#000" stroke-width="3"/>
<text x="1964.1" y="912.7" font-size="31.2" text-anchor="middle">1.00</text>
<path d="M1562.3 835.15H1571.5" stroke="#000" stroke-width="3"/>
<path d="M1562.3 749.4H1571.5" stroke="#000" stroke-width="3"/>
<path d="M1562.3 663.65H1571.5" stroke="#000" stroke-width="3"/>
<path d="M1562.3 577.9H1571.5" stroke="#000" stroke-width="3"/>
<text x="1777.3" y="954.1" font-size="36" text-anchor="middle">O/C</text>
<text x="1570.8" y="492.6" font-size="41" font-weight="bold">e</text>
</g>
</svg>
</body>
</html>
